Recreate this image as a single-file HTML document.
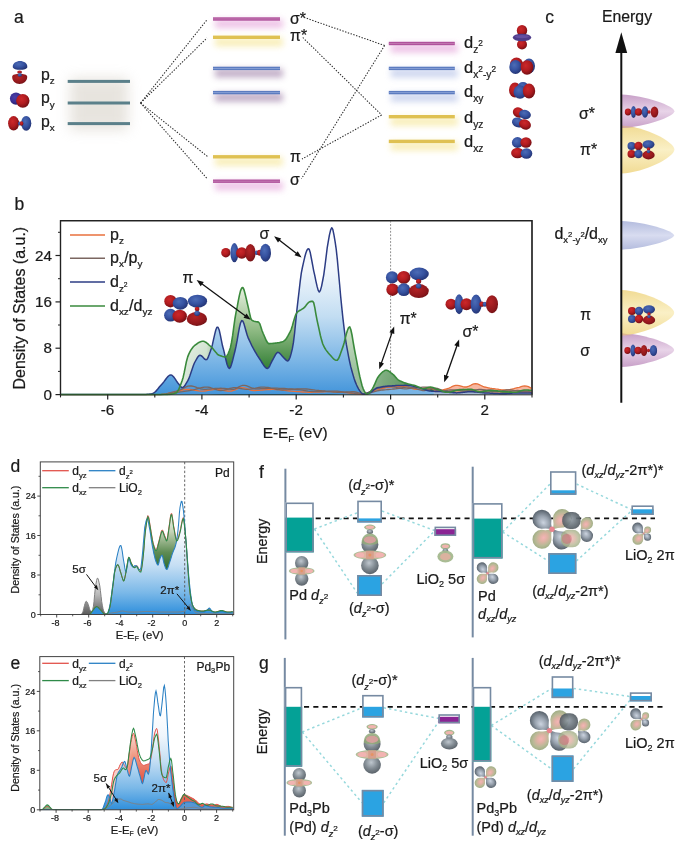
<!DOCTYPE html>
<html><head><meta charset="utf-8"><title>Figure</title>
<style>
html,body{margin:0;padding:0;background:#fff;}
svg{display:block;font-family:'Liberation Sans', Arial, sans-serif;}
text{white-space:pre;stroke:#1a1a1a;stroke-width:0.22px;}
</style></head>
<body>
<svg width="683" height="845" viewBox="0 0 683 845">
<rect width="683" height="845" fill="#fff"/>
<defs>

<radialGradient id="gR" cx="0.4" cy="0.36" r="0.72"><stop offset="0" stop-color="#cc282a"/><stop offset="0.5" stop-color="#b01c20"/><stop offset="1" stop-color="#660c10"/></radialGradient>
<radialGradient id="gD" cx="0.4" cy="0.36" r="0.8"><stop offset="0" stop-color="#b42426"/><stop offset="0.6" stop-color="#90181c"/><stop offset="1" stop-color="#5e0e10"/></radialGradient>
<radialGradient id="gB" cx="0.4" cy="0.36" r="0.72"><stop offset="0" stop-color="#4c6cb6"/><stop offset="0.5" stop-color="#3652a0"/><stop offset="1" stop-color="#202e6c"/></radialGradient>
<radialGradient id="gG" cx="0.45" cy="0.36" r="0.72"><stop offset="0" stop-color="#bcc4cc"/><stop offset="0.5" stop-color="#7a848c"/><stop offset="1" stop-color="#464e56"/></radialGradient>
<radialGradient id="gP" cx="0.5" cy="0.5" r="0.62"><stop offset="0" stop-color="#ecb0a2"/><stop offset="0.5" stop-color="#e0b2a0"/><stop offset="0.8" stop-color="#bcc49c"/><stop offset="1" stop-color="#98b486"/></radialGradient>
<radialGradient id="gN" cx="0.45" cy="0.45" r="0.7"><stop offset="0" stop-color="#d8c8a8"/><stop offset="0.6" stop-color="#b8c8a0"/><stop offset="1" stop-color="#98b888"/></radialGradient>
<radialGradient id="gV" cx="0.4" cy="0.38" r="0.7"><stop offset="0" stop-color="#4a3ea8"/><stop offset="0.55" stop-color="#3a2f92"/><stop offset="1" stop-color="#241c66"/></radialGradient>
<linearGradient id="whiteE" x1="100" y1="0" x2="140" y2="0" gradientUnits="userSpaceOnUse"><stop offset="0" stop-color="#fff" stop-opacity="0.75"/><stop offset="0.55" stop-color="#fff" stop-opacity="0.65"/><stop offset="0.8" stop-color="#fff" stop-opacity="0"/></linearGradient>
<radialGradient id="tG" cx="0.5" cy="0.5" r="0.6" fx="0.45" fy="0.42"><stop offset="0" stop-color="#ccd4e0"/><stop offset="0.45" stop-color="#98a2ae"/><stop offset="0.85" stop-color="#5c6670"/><stop offset="1" stop-color="#4c565e"/></radialGradient>
<radialGradient id="tD" cx="0.5" cy="0.5" r="0.6" fx="0.45" fy="0.42"><stop offset="0" stop-color="#929ca6"/><stop offset="0.5" stop-color="#69737b"/><stop offset="1" stop-color="#454d54"/></radialGradient>
<radialGradient id="tP" cx="0.5" cy="0.5" r="0.6"><stop offset="0" stop-color="#f4b4b6"/><stop offset="0.3" stop-color="#dfb2a4"/><stop offset="0.62" stop-color="#b8b996"/><stop offset="1" stop-color="#93a77c"/></radialGradient>
<filter id="blur3" x="-30%" y="-300%" width="160%" height="700%"><feGaussianBlur stdDeviation="3.2"/></filter>
<filter id="blur7" x="-40%" y="-40%" width="180%" height="180%"><feGaussianBlur stdDeviation="6.5"/></filter>
<filter id="soft" x="-10%" y="-10%" width="120%" height="120%"><feGaussianBlur stdDeviation="0.35"/></filter>
<linearGradient id="blueFillB" x1="0" y1="221" x2="0" y2="395" gradientUnits="userSpaceOnUse"><stop offset="0" stop-color="#ffffff"/><stop offset="0.28" stop-color="#f2f7fc"/><stop offset="0.55" stop-color="#c2ddf2"/><stop offset="0.8" stop-color="#7cb6e6"/><stop offset="1" stop-color="#4294da"/></linearGradient>
<linearGradient id="greenFillB" x1="0" y1="285" x2="0" y2="385" gradientUnits="userSpaceOnUse"><stop offset="0" stop-color="#edf4e6"/><stop offset="0.45" stop-color="#8fba84"/><stop offset="0.85" stop-color="#2f7d32"/><stop offset="1" stop-color="#2a742c"/></linearGradient>
<linearGradient id="whiteL" x1="180" y1="0" x2="420" y2="0" gradientUnits="userSpaceOnUse"><stop offset="0" stop-color="#fff" stop-opacity="0.85"/><stop offset="0.11" stop-color="#fff" stop-opacity="0.72"/><stop offset="0.19" stop-color="#fff" stop-opacity="0"/><stop offset="0.62" stop-color="#fff" stop-opacity="0"/><stop offset="0.68" stop-color="#fff" stop-opacity="0.55"/><stop offset="0.78" stop-color="#fff" stop-opacity="0.5"/><stop offset="0.85" stop-color="#fff" stop-opacity="0.38"/><stop offset="1" stop-color="#fff" stop-opacity="0.2"/></linearGradient>
<linearGradient id="lgY1" x1="0" y1="125.6" x2="0" y2="173.6" gradientUnits="userSpaceOnUse"><stop offset="0" stop-color="#f1db94"/><stop offset="0.5" stop-color="#faf0c6"/><stop offset="1" stop-color="#f1db94"/></linearGradient><linearGradient id="lgM1" x1="0" y1="94.5" x2="0" y2="128" gradientUnits="userSpaceOnUse"><stop offset="0" stop-color="#c8a0c8"/><stop offset="0.5" stop-color="#e8d4e8"/><stop offset="1" stop-color="#c8a0c8"/></linearGradient><linearGradient id="lgB1" x1="0" y1="221" x2="0" y2="249.7" gradientUnits="userSpaceOnUse"><stop offset="0" stop-color="#b4bcde"/><stop offset="0.5" stop-color="#d8dcf0"/><stop offset="1" stop-color="#b4bcde"/></linearGradient><linearGradient id="lgM2" x1="0" y1="333" x2="0" y2="367" gradientUnits="userSpaceOnUse"><stop offset="0" stop-color="#c8a0c8"/><stop offset="0.5" stop-color="#e8d4e8"/><stop offset="1" stop-color="#c8a0c8"/></linearGradient><linearGradient id="lgY2" x1="0" y1="290" x2="0" y2="335.5" gradientUnits="userSpaceOnUse"><stop offset="0" stop-color="#f1db94"/><stop offset="0.5" stop-color="#faf0c6"/><stop offset="1" stop-color="#f1db94"/></linearGradient><linearGradient id="blueFillD" x1="0" y1="515.8" x2="0" y2="614.5" gradientUnits="userSpaceOnUse"><stop offset="0" stop-color="#ffffff"/><stop offset="0.25" stop-color="#f0f6fc"/><stop offset="0.5" stop-color="#c6dff4"/><stop offset="0.78" stop-color="#7ab8e8"/><stop offset="1" stop-color="#2f8fdc"/></linearGradient><linearGradient id="greenFillD" x1="0" y1="510.865" x2="0" y2="570.085" gradientUnits="userSpaceOnUse"><stop offset="0" stop-color="#fbfcf8"/><stop offset="0.35" stop-color="#c6d4b8"/><stop offset="0.7" stop-color="#5f8c54"/><stop offset="1" stop-color="#2a6a2c"/></linearGradient><linearGradient id="redFillD" x1="0" y1="530.605" x2="0" y2="589.825" gradientUnits="userSpaceOnUse"><stop offset="0" stop-color="#fdf2ee"/><stop offset="0.5" stop-color="#f09a84"/><stop offset="1" stop-color="#e04a38"/></linearGradient><linearGradient id="grayFillD" x1="0" y1="575.02" x2="0" y2="614.5" gradientUnits="userSpaceOnUse"><stop offset="0" stop-color="#fafafa"/><stop offset="0.5" stop-color="#b8b8b8"/><stop offset="1" stop-color="#5a5a5a"/></linearGradient><linearGradient id="blueFillE" x1="0" y1="711.0999999999999" x2="0" y2="809.8" gradientUnits="userSpaceOnUse"><stop offset="0" stop-color="#ffffff"/><stop offset="0.25" stop-color="#f0f6fc"/><stop offset="0.5" stop-color="#c6dff4"/><stop offset="0.78" stop-color="#7ab8e8"/><stop offset="1" stop-color="#2f8fdc"/></linearGradient><linearGradient id="greenFillE" x1="0" y1="706.165" x2="0" y2="765.385" gradientUnits="userSpaceOnUse"><stop offset="0" stop-color="#fbfcf8"/><stop offset="0.35" stop-color="#c6d4b8"/><stop offset="0.7" stop-color="#5f8c54"/><stop offset="1" stop-color="#2a6a2c"/></linearGradient><linearGradient id="redFillE" x1="0" y1="725.905" x2="0" y2="785.125" gradientUnits="userSpaceOnUse"><stop offset="0" stop-color="#fdf2ee"/><stop offset="0.5" stop-color="#f09a84"/><stop offset="1" stop-color="#e04a38"/></linearGradient><linearGradient id="grayFillE" x1="0" y1="770.3199999999999" x2="0" y2="809.8" gradientUnits="userSpaceOnUse"><stop offset="0" stop-color="#fafafa"/><stop offset="0.5" stop-color="#b8b8b8"/><stop offset="1" stop-color="#5a5a5a"/></linearGradient>
</defs>
<text x="14.0" y="22.5" font-size="17.5" text-anchor="start" fill="#1a1a1a" >a</text>
<rect x="70" y="78" width="58" height="52" fill="#c4bcae" opacity="0.4" filter="url(#blur7)"/>
<rect x="67.7" y="79.9" width="62.3" height="3" fill="#5b808a"/>
<rect x="67.7" y="101.5" width="62.3" height="3" fill="#5b808a"/>
<rect x="67.7" y="122.1" width="62.3" height="3" fill="#5b808a"/>
<text x="41.0" y="79.6" font-size="15.8" text-anchor="start" fill="#1a1a1a" >p<tspan dy="4.4" font-size="62%">z</tspan><tspan dy="-4.4" font-size="1"> </tspan></text>
<text x="41.0" y="103.3" font-size="15.8" text-anchor="start" fill="#1a1a1a" >p<tspan dy="4.4" font-size="62%">y</tspan><tspan dy="-4.4" font-size="1"> </tspan></text>
<text x="41.0" y="127.0" font-size="15.8" text-anchor="start" fill="#1a1a1a" >p<tspan dy="4.4" font-size="62%">x</tspan><tspan dy="-4.4" font-size="1"> </tspan></text>
<path d="M12.2,76.5 C12.4,72.8 27,72.8 27.2,76.5 C27.6,81 23.5,83.9 19.6,83.9 C15.6,83.9 11.8,81 12.2,76.5 Z" fill="url(#gD)"/>
<path d="M12.8,67.2 C12.4,63 16.4,60.9 20,60.9 C23.6,60.9 27.8,63 27.3,67.2 C27,70.6 13.2,70.6 12.8,67.2 Z" fill="url(#gB)"/>
<ellipse cx="19.6" cy="72.0" rx="2.4" ry="1.6" fill="url(#gR)"/>
<ellipse cx="19.8" cy="75.0" rx="2.2" ry="1.8" fill="url(#gB)"/>
<circle cx="16" cy="98.6" r="6.1" fill="url(#gV)"/>
<ellipse cx="22.8" cy="100.8" rx="6.7" ry="6.9" fill="url(#gR)"/>
<ellipse cx="13.6" cy="123.3" rx="5.5" ry="7.2" fill="url(#gR)"/>
<ellipse cx="26.2" cy="123.3" rx="5.1" ry="7.4" fill="url(#gB)"/>
<ellipse cx="19.8" cy="123.5" rx="1.8" ry="2.0" fill="url(#gB)"/>
<ellipse cx="21.6" cy="123.5" rx="1.8" ry="2.2" fill="url(#gR)"/>
<rect x="215" y="19.5" width="68" height="8.5" fill="#e6a8dc" opacity="0.7" filter="url(#blur3)"/>
<rect x="213" y="17.3" width="67" height="3.4" fill="#b0529c"/>
<rect x="213" y="18.6" width="67" height="0.7" fill="#c886b8"/>
<rect x="215" y="37.8" width="68" height="8.5" fill="#f7eaa6" opacity="0.8" filter="url(#blur3)"/>
<rect x="213" y="35.6" width="67" height="3.4" fill="#dfc152"/>
<rect x="215" y="68.9" width="68" height="8.5" fill="#a88cb0" opacity="0.72" filter="url(#blur3)"/>
<rect x="213" y="66.7" width="67" height="3.4" fill="#5c7cc0"/>
<rect x="213" y="68.1" width="67" height="0.7" fill="#93a9dc"/>
<rect x="215" y="93.1" width="68" height="8.5" fill="#a88cb0" opacity="0.72" filter="url(#blur3)"/>
<rect x="213" y="90.9" width="67" height="3.4" fill="#5c7cc0"/>
<rect x="213" y="92.2" width="67" height="0.7" fill="#93a9dc"/>
<rect x="215" y="157.3" width="68" height="8.5" fill="#f7eaa6" opacity="0.8" filter="url(#blur3)"/>
<rect x="213" y="155.1" width="67" height="3.4" fill="#dfc152"/>
<rect x="215" y="181.7" width="68" height="8.5" fill="#e6a8dc" opacity="0.7" filter="url(#blur3)"/>
<rect x="213" y="179.5" width="67" height="3.4" fill="#b0529c"/>
<rect x="213" y="180.8" width="67" height="0.7" fill="#c886b8"/>
<rect x="390.8" y="44.0" width="67.0" height="8.5" fill="#e6a8dc" opacity="0.7" filter="url(#blur3)"/>
<rect x="388.8" y="41.8" width="66.0" height="3.4" fill="#b0529c"/>
<rect x="388.8" y="43.1" width="66.0" height="0.7" fill="#c886b8"/>
<rect x="390.8" y="68.9" width="67.0" height="8.5" fill="#b8c4e8" opacity="0.7" filter="url(#blur3)"/>
<rect x="388.8" y="66.7" width="66.0" height="3.4" fill="#5c7cc0"/>
<rect x="388.8" y="68.1" width="66.0" height="0.7" fill="#93a9dc"/>
<rect x="390.8" y="93.1" width="67.0" height="8.5" fill="#b8c4e8" opacity="0.7" filter="url(#blur3)"/>
<rect x="388.8" y="90.9" width="66.0" height="3.4" fill="#5c7cc0"/>
<rect x="388.8" y="92.2" width="66.0" height="0.7" fill="#93a9dc"/>
<rect x="390.8" y="117.2" width="67.0" height="8.5" fill="#f7eaa6" opacity="0.8" filter="url(#blur3)"/>
<rect x="388.8" y="115.0" width="66.0" height="3.4" fill="#dfc152"/>
<rect x="390.8" y="141.9" width="67.0" height="8.5" fill="#f7eaa6" opacity="0.8" filter="url(#blur3)"/>
<rect x="388.8" y="139.7" width="66.0" height="3.4" fill="#dfc152"/>
<text x="290.0" y="24.3" font-size="15.8" text-anchor="start" fill="#1a1a1a" >σ*</text>
<text x="290.0" y="40.7" font-size="15.8" text-anchor="start" fill="#1a1a1a" >π*</text>
<text x="290.0" y="162.0" font-size="15.8" text-anchor="start" fill="#1a1a1a" >π</text>
<text x="290.0" y="185.3" font-size="15.8" text-anchor="start" fill="#1a1a1a" >σ</text>
<line x1="140.6" y1="103" x2="207" y2="19.8" stroke="#2a2a2a" stroke-width="1.05" stroke-dasharray="1.4 1.5"/>
<line x1="140.6" y1="103" x2="207" y2="38" stroke="#2a2a2a" stroke-width="1.05" stroke-dasharray="1.4 1.5"/>
<line x1="140.6" y1="103" x2="208.5" y2="157.3" stroke="#2a2a2a" stroke-width="1.05" stroke-dasharray="1.4 1.5"/>
<line x1="140.6" y1="103" x2="207.5" y2="179" stroke="#2a2a2a" stroke-width="1.05" stroke-dasharray="1.4 1.5"/>
<line x1="304" y1="17.4" x2="384.6" y2="45.5" stroke="#2a2a2a" stroke-width="1.05" stroke-dasharray="1.4 1.5"/>
<line x1="384.6" y1="45.5" x2="301.5" y2="178.7" stroke="#2a2a2a" stroke-width="1.05" stroke-dasharray="1.4 1.5"/>
<line x1="302.8" y1="37.5" x2="381.6" y2="115" stroke="#2a2a2a" stroke-width="1.05" stroke-dasharray="1.4 1.5"/>
<line x1="381.6" y1="115" x2="302" y2="159" stroke="#2a2a2a" stroke-width="1.05" stroke-dasharray="1.4 1.5"/>
<text x="464.0" y="47.8" font-size="16.5" text-anchor="start" fill="#1a1a1a" >d<tspan dy="4.8" font-size="62%">z</tspan><tspan dy="-7" font-size="50%">2</tspan></text>
<text x="464.0" y="73.4" font-size="16.5" text-anchor="start" fill="#1a1a1a" >d<tspan dy="4.8" font-size="62%">x</tspan><tspan dy="-6.5" font-size="50%">2</tspan><tspan dy="6.5" font-size="62%">-y</tspan><tspan dy="-6.5" font-size="50%">2</tspan></text>
<text x="464.0" y="97.0" font-size="16.5" text-anchor="start" fill="#1a1a1a" >d<tspan dy="4.5" font-size="62%">xy</tspan><tspan dy="-4.5" font-size="1"> </tspan></text>
<text x="464.0" y="123.0" font-size="16.5" text-anchor="start" fill="#1a1a1a" >d<tspan dy="4.5" font-size="62%">yz</tspan><tspan dy="-4.5" font-size="1"> </tspan></text>
<text x="464.0" y="147.0" font-size="16.5" text-anchor="start" fill="#1a1a1a" >d<tspan dy="4.5" font-size="62%">xz</tspan><tspan dy="-4.5" font-size="1"> </tspan></text>
<ellipse cx="522.0" cy="30.5" rx="5.2" ry="5.6" fill="url(#gR)"/>
<ellipse cx="522.0" cy="44.5" rx="5.0" ry="5.0" fill="url(#gR)"/>
<ellipse cx="522" cy="37.5" rx="9.2" ry="3.8" fill="#4e3c8a"/>
<ellipse cx="522" cy="36.6" rx="7" ry="1.7" fill="#6a54a6" opacity="0.8"/>
<ellipse cx="529.0" cy="66.0" rx="6.0" ry="7.5" fill="url(#gB)"/>
<ellipse cx="516.5" cy="64.5" rx="6.5" ry="7.0" fill="url(#gR)"/>
<ellipse cx="515.5" cy="67.0" rx="6.2" ry="7.0" fill="url(#gB)"/>
<ellipse cx="527.0" cy="67.5" rx="6.3" ry="7.3" fill="url(#gR)"/>
<ellipse cx="515.0" cy="90.0" rx="6.0" ry="7.5" fill="url(#gR)"/>
<ellipse cx="523.0" cy="87.0" rx="5.5" ry="5.0" fill="url(#gB)"/>
<ellipse cx="520.0" cy="92.0" rx="6.5" ry="6.8" fill="url(#gB)"/>
<ellipse cx="529.0" cy="91.0" rx="6.2" ry="7.4" fill="url(#gR)"/>
<ellipse cx="518.5" cy="112.5" rx="5.8" ry="5.0" fill="url(#gR)" transform="rotate(25 518.5 112.5)"/>
<ellipse cx="525.0" cy="114.5" rx="6.0" ry="4.6" fill="url(#gB)" transform="rotate(15 525.0 114.5)"/>
<ellipse cx="518.0" cy="122.5" rx="6.2" ry="4.8" fill="url(#gB)" transform="rotate(20 518.0 122.5)"/>
<ellipse cx="525.0" cy="124.5" rx="6.2" ry="5.0" fill="url(#gR)" transform="rotate(25 525.0 124.5)"/>
<ellipse cx="517.5" cy="142.5" rx="5.6" ry="5.4" fill="url(#gB)"/>
<ellipse cx="526.0" cy="142.5" rx="5.6" ry="5.2" fill="url(#gR)"/>
<ellipse cx="517.5" cy="153.0" rx="6.4" ry="5.2" fill="url(#gR)"/>
<ellipse cx="526.5" cy="153.5" rx="5.8" ry="5.2" fill="url(#gB)"/>
<text x="545.3" y="23.0" font-size="17.5" text-anchor="start" fill="#1a1a1a" >c</text>
<text x="602.0" y="22.0" font-size="15.8" text-anchor="start" fill="#1a1a1a" >Energy</text>
<path d="M621.3,125.6 C645.2,126.6 674.4,141.9 674.4,149.6 C674.4,157.3 645.2,172.6 621.3,173.6 Z" fill="url(#lgY1)"/>
<path d="M621.3,94.5 C645.2,95.5 674.4,105.9 674.4,111.25 C674.4,116.6 645.2,127 621.3,128 Z" fill="url(#lgM1)"/>
<path d="M621.3,221 C645.0,222 674.0,230.8 674.0,235.35 C674.0,239.9 645.0,248.7 621.3,249.7 Z" fill="url(#lgB1)"/>
<path d="M621.3,333 C645.1,334 674.2,344.6 674.2,350.0 C674.2,355.4 645.1,366 621.3,367 Z" fill="url(#lgM2)"/>
<path d="M621.3,290 C645.1,291 674.2,305.5 674.2,312.75 C674.2,320.0 645.1,334.5 621.3,335.5 Z" fill="url(#lgY2)"/>
<path d="M621.3,125.6 L636.3,127.3 L621.3,128 Z" fill="#d8ae8c" opacity="0.75"/>
<path d="M621.3,333 L633.3,335.3 L621.3,335.5 Z" fill="#d4a090" opacity="0.6"/>
<line x1="621.3" y1="50" x2="621.3" y2="402.7" stroke="#111" stroke-width="2"/>
<polygon points="621.3,32.3 615.4,53 627.1999999999999,53" fill="#111"/>
<text x="579.0" y="119.0" font-size="15.8" text-anchor="start" fill="#1a1a1a" >σ*</text>
<text x="580.0" y="155.3" font-size="15.8" text-anchor="start" fill="#1a1a1a" >π*</text>
<text x="554.4" y="238.5" font-size="16" text-anchor="start" fill="#1a1a1a" >d<tspan dy="4.8" font-size="60%">x</tspan><tspan dy="-6.5" font-size="48%">2</tspan><tspan dy="6.5" font-size="60%">-y</tspan><tspan dy="-6.5" font-size="48%">2</tspan><tspan dy="1.7" font-size="100%">/d</tspan><tspan dy="4.8" font-size="60%">xy</tspan></text>
<text x="580.3" y="320.0" font-size="15.8" text-anchor="start" fill="#1a1a1a" >π</text>
<text x="580.3" y="356.0" font-size="15.8" text-anchor="start" fill="#1a1a1a" >σ</text>
<ellipse cx="628.0" cy="112.0" rx="3.2" ry="3.4" fill="url(#gR)"/>
<ellipse cx="633.5" cy="112.0" rx="2.6" ry="6.0" fill="url(#gB)"/>
<ellipse cx="638.5" cy="112.0" rx="3.6" ry="3.8" fill="url(#gR)"/>
<ellipse cx="645.0" cy="112.0" rx="3.2" ry="5.8" fill="url(#gB)"/>
<ellipse cx="649.0" cy="112.0" rx="1.6" ry="1.8" fill="url(#gR)"/>
<ellipse cx="654.5" cy="112.0" rx="3.8" ry="5.5" fill="url(#gD)"/>
<ellipse cx="631.5" cy="146.0" rx="4.0" ry="4.0" fill="url(#gB)"/>
<ellipse cx="638.5" cy="146.0" rx="4.2" ry="4.2" fill="url(#gR)"/>
<ellipse cx="648.5" cy="144.5" rx="6.0" ry="4.2" fill="url(#gB)"/>
<ellipse cx="631.5" cy="154.0" rx="4.0" ry="4.0" fill="url(#gR)"/>
<ellipse cx="638.5" cy="154.0" rx="4.2" ry="4.2" fill="url(#gB)"/>
<ellipse cx="648.5" cy="155.0" rx="6.2" ry="4.4" fill="url(#gD)"/>
<ellipse cx="648.5" cy="149.0" rx="1.7" ry="1.7" fill="url(#gR)"/>
<ellipse cx="648.5" cy="151.6" rx="1.7" ry="1.7" fill="url(#gB)"/>
<ellipse cx="632.0" cy="311.0" rx="4.0" ry="4.0" fill="url(#gR)"/>
<ellipse cx="639.0" cy="311.0" rx="4.2" ry="4.2" fill="url(#gB)"/>
<ellipse cx="649.0" cy="309.5" rx="6.0" ry="4.2" fill="url(#gB)"/>
<ellipse cx="632.0" cy="319.0" rx="4.0" ry="4.0" fill="url(#gB)"/>
<ellipse cx="639.0" cy="319.0" rx="4.2" ry="4.2" fill="url(#gR)"/>
<ellipse cx="649.0" cy="320.0" rx="6.2" ry="4.4" fill="url(#gD)"/>
<ellipse cx="649.0" cy="314.0" rx="1.7" ry="1.7" fill="url(#gR)"/>
<ellipse cx="649.0" cy="316.6" rx="1.7" ry="1.7" fill="url(#gB)"/>
<ellipse cx="627.5" cy="350.5" rx="3.2" ry="3.4" fill="url(#gR)"/>
<ellipse cx="633.0" cy="350.5" rx="2.6" ry="6.0" fill="url(#gB)"/>
<ellipse cx="638.0" cy="350.5" rx="3.6" ry="3.8" fill="url(#gR)"/>
<ellipse cx="644.0" cy="350.5" rx="3.2" ry="5.6" fill="url(#gD)"/>
<ellipse cx="648.5" cy="350.5" rx="1.6" ry="1.8" fill="url(#gR)"/>
<ellipse cx="653.5" cy="350.5" rx="3.6" ry="5.6" fill="url(#gB)"/>
<text x="14.5" y="209.5" font-size="17.5" text-anchor="start" fill="#1a1a1a" >b</text>
<clipPath id="clipB"><rect x="60.5" y="220.7" width="471.5" height="174.80000000000004"/></clipPath>
<rect x="60.5" y="220.7" width="471.5" height="173.90000000000003" fill="none" stroke="#222" stroke-width="1.2"/>
<g clip-path="url(#clipB)">
<line x1="390.6" y1="220.7" x2="390.6" y2="394.6" stroke="#8c8c8c" stroke-width="1" stroke-dasharray="1.8 1.6"/>
<path d="M60.5,394.6 L61.6,394.6 L62.8,394.6 L63.9,394.6 L65.0,394.6 L66.1,394.6 L67.3,394.6 L68.4,394.6 L69.5,394.6 L70.6,394.6 L71.8,394.6 L72.9,394.6 L74.0,394.6 L75.1,394.6 L76.3,394.6 L77.4,394.6 L78.5,394.6 L79.6,394.6 L80.8,394.6 L81.9,394.6 L83.0,394.6 L84.1,394.6 L85.3,394.6 L86.4,394.6 L87.5,394.6 L88.6,394.6 L89.8,394.6 L90.9,394.6 L92.0,394.6 L93.1,394.6 L94.3,394.6 L95.4,394.6 L96.5,394.6 L97.6,394.6 L98.8,394.6 L99.9,394.6 L101.0,394.6 L102.1,394.6 L103.3,394.6 L104.4,394.6 L105.5,394.6 L106.6,394.6 L107.8,394.6 L108.9,394.6 L110.0,394.6 L111.1,394.6 L112.3,394.6 L113.4,394.6 L114.5,394.6 L115.6,394.6 L116.8,394.6 L117.9,394.6 L119.0,394.6 L120.1,394.6 L121.3,394.6 L122.4,394.6 L123.5,394.6 L124.6,394.6 L125.8,394.6 L126.9,394.6 L128.0,394.6 L129.1,394.6 L130.3,394.6 L131.4,394.6 L132.5,394.6 L133.6,394.6 L134.8,394.6 L135.9,394.6 L137.0,394.6 L138.1,394.6 L139.3,394.6 L140.4,394.6 L141.5,394.6 L142.6,394.6 L143.8,394.6 L144.9,394.6 L146.0,394.6 L147.1,394.6 L148.3,394.6 L149.4,394.6 L150.5,394.6 L151.6,394.6 L152.8,394.6 L153.9,394.6 L155.0,394.6 L156.2,394.6 L157.3,394.6 L158.4,394.6 L159.5,394.6 L160.7,394.6 L161.8,394.6 L162.9,394.6 L164.0,394.6 L165.2,394.6 L166.3,394.6 L167.4,394.6 L168.5,394.5 L169.7,394.4 L170.8,394.2 L171.9,394.0 L173.0,393.8 L174.2,393.5 L175.3,393.1 L176.4,392.7 L177.5,391.4 L178.7,389.5 L179.8,386.9 L180.9,384.0 L182.0,381.0 L183.2,377.2 L184.3,372.2 L185.4,366.6 L186.5,361.2 L187.7,356.9 L188.8,354.1 L189.9,351.9 L191.0,349.9 L192.2,348.2 L193.3,346.8 L194.4,345.7 L195.5,344.8 L196.7,344.0 L197.8,343.2 L198.9,342.5 L200.0,341.9 L201.2,341.5 L202.3,341.3 L203.4,341.3 L204.5,341.6 L205.7,342.2 L206.8,343.0 L207.9,343.9 L209.0,345.0 L210.2,346.0 L211.3,347.0 L212.4,348.1 L213.5,349.4 L214.7,350.9 L215.8,352.3 L216.9,353.6 L218.0,354.7 L219.2,355.3 L220.3,355.7 L221.4,356.1 L222.5,356.5 L223.7,356.7 L224.8,356.9 L225.9,356.8 L227.0,355.7 L228.2,353.6 L229.3,350.8 L230.4,347.7 L231.5,342.5 L232.7,335.2 L233.8,326.9 L234.9,319.0 L236.0,312.7 L237.2,306.9 L238.3,300.9 L239.4,295.4 L240.5,290.9 L241.7,288.0 L242.8,287.5 L243.9,289.5 L245.0,293.5 L246.2,298.4 L247.3,303.3 L248.4,307.9 L249.6,313.5 L250.7,318.2 L251.8,320.1 L252.9,320.8 L254.1,321.2 L255.2,321.5 L256.3,321.8 L257.4,321.9 L258.6,322.1 L259.7,323.6 L260.8,326.7 L261.9,330.2 L263.1,333.3 L264.2,335.8 L265.3,338.4 L266.4,340.8 L267.6,342.7 L268.7,343.6 L269.8,343.6 L270.9,343.5 L272.1,343.5 L273.2,343.4 L274.3,343.3 L275.4,343.1 L276.6,343.0 L277.7,342.8 L278.8,342.7 L279.9,342.4 L281.1,342.1 L282.2,341.8 L283.3,341.4 L284.4,340.7 L285.6,339.6 L286.7,338.0 L287.8,336.2 L288.9,334.1 L290.1,331.9 L291.2,329.5 L292.3,326.0 L293.4,322.0 L294.6,318.0 L295.7,314.8 L296.8,312.8 L297.9,311.7 L299.1,310.8 L300.2,310.2 L301.3,309.6 L302.4,308.9 L303.6,308.2 L304.7,307.2 L305.8,305.8 L306.9,304.3 L308.1,302.9 L309.2,302.0 L310.3,301.6 L311.4,301.4 L312.6,301.3 L313.7,302.8 L314.8,307.6 L315.9,314.1 L317.1,320.3 L318.2,325.3 L319.3,330.4 L320.4,335.5 L321.6,340.1 L322.7,343.7 L323.8,346.2 L324.9,348.3 L326.1,350.1 L327.2,351.6 L328.3,353.0 L329.4,354.2 L330.6,355.5 L331.7,356.8 L332.8,358.0 L333.9,359.1 L335.1,359.9 L336.2,360.3 L337.3,360.2 L338.4,358.8 L339.6,356.2 L340.7,353.1 L341.8,349.9 L342.9,346.9 L344.1,343.0 L345.2,338.5 L346.3,334.0 L347.5,330.2 L348.6,327.6 L349.7,326.8 L350.8,329.5 L352.0,335.0 L353.1,341.7 L354.2,348.0 L355.3,353.8 L356.5,359.9 L357.6,365.9 L358.7,371.4 L359.8,376.5 L361.0,381.4 L362.1,385.7 L363.2,388.8 L364.3,391.1 L365.5,393.1 L366.6,394.2 L367.7,394.1 L368.8,393.4 L370.0,392.1 L371.1,390.7 L372.2,389.2 L373.3,387.2 L374.5,384.7 L375.6,382.1 L376.7,379.5 L377.8,377.4 L379.0,375.8 L380.1,374.5 L381.2,373.3 L382.3,372.2 L383.5,371.3 L384.6,370.6 L385.7,370.3 L386.8,370.3 L388.0,370.7 L389.1,371.4 L390.2,372.2 L391.3,373.1 L392.5,374.0 L393.6,374.9 L394.7,376.1 L395.8,377.4 L397.0,378.7 L398.1,379.8 L399.2,380.5 L400.3,381.1 L401.5,381.6 L402.6,382.1 L403.7,382.5 L404.8,382.9 L406.0,383.2 L407.1,383.6 L408.2,383.9 L409.3,384.2 L410.5,384.5 L411.6,384.8 L412.7,385.0 L413.8,385.3 L415.0,385.6 L416.1,385.9 L417.2,386.4 L418.3,386.9 L419.5,387.5 L420.6,388.0 L421.7,388.5 L422.8,388.8 L424.0,388.8 L425.1,388.6 L426.2,388.2 L427.3,387.8 L428.5,387.5 L429.6,387.2 L430.7,387.1 L431.8,387.2 L433.0,387.5 L434.1,387.9 L435.2,388.4 L436.3,388.9 L437.5,389.3 L438.6,389.7 L439.7,390.1 L440.9,390.6 L442.0,391.0 L443.1,391.5 L444.2,391.8 L445.4,392.1 L446.5,392.3 L447.6,392.3 L448.7,392.2 L449.9,392.0 L451.0,391.8 L452.1,391.5 L453.2,391.2 L454.4,390.9 L455.5,390.6 L456.6,390.3 L457.7,390.1 L458.9,390.0 L460.0,389.9 L461.1,389.8 L462.2,389.7 L463.4,389.6 L464.5,389.6 L465.6,389.5 L466.7,389.5 L467.9,389.4 L469.0,389.4 L470.1,389.4 L471.2,389.4 L472.4,389.6 L473.5,389.9 L474.6,390.2 L475.7,390.7 L476.9,391.1 L478.0,391.4 L479.1,391.6 L480.2,391.7 L481.4,391.7 L482.5,391.6 L483.6,391.5 L484.7,391.3 L485.9,391.1 L487.0,391.0 L488.1,390.8 L489.2,390.7 L490.4,390.6 L491.5,390.5 L492.6,390.6 L493.7,390.6 L494.9,390.7 L496.0,390.8 L497.1,390.9 L498.2,391.1 L499.4,391.2 L500.5,391.4 L501.6,391.5 L502.7,391.6 L503.9,391.7 L505.0,391.8 L506.1,391.9 L507.2,391.9 L508.4,392.0 L509.5,392.1 L510.6,392.1 L511.7,392.2 L512.9,392.2 L514.0,392.3 L515.1,392.3 L516.2,392.2 L517.4,392.0 L518.5,391.7 L519.6,391.3 L520.7,390.9 L521.9,390.5 L523.0,390.2 L524.1,390.0 L525.2,390.0 L526.4,390.0 L527.5,390.0 L528.6,390.1 L529.7,390.2 L530.9,390.3 L532.0,390.5 L532.0,394.6 L60.5,394.6 Z" fill="url(#greenFillB)"/>
<clipPath id="clipG"><path d="M60.5,394.6 L61.6,394.6 L62.8,394.6 L63.9,394.6 L65.0,394.6 L66.1,394.6 L67.3,394.6 L68.4,394.6 L69.5,394.6 L70.6,394.6 L71.8,394.6 L72.9,394.6 L74.0,394.6 L75.1,394.6 L76.3,394.6 L77.4,394.6 L78.5,394.6 L79.6,394.6 L80.8,394.6 L81.9,394.6 L83.0,394.6 L84.1,394.6 L85.3,394.6 L86.4,394.6 L87.5,394.6 L88.6,394.6 L89.8,394.6 L90.9,394.6 L92.0,394.6 L93.1,394.6 L94.3,394.6 L95.4,394.6 L96.5,394.6 L97.6,394.6 L98.8,394.6 L99.9,394.6 L101.0,394.6 L102.1,394.6 L103.3,394.6 L104.4,394.6 L105.5,394.6 L106.6,394.6 L107.8,394.6 L108.9,394.6 L110.0,394.6 L111.1,394.6 L112.3,394.6 L113.4,394.6 L114.5,394.6 L115.6,394.6 L116.8,394.6 L117.9,394.6 L119.0,394.6 L120.1,394.6 L121.3,394.6 L122.4,394.6 L123.5,394.6 L124.6,394.6 L125.8,394.6 L126.9,394.6 L128.0,394.6 L129.1,394.6 L130.3,394.6 L131.4,394.6 L132.5,394.6 L133.6,394.6 L134.8,394.6 L135.9,394.6 L137.0,394.6 L138.1,394.6 L139.3,394.6 L140.4,394.6 L141.5,394.6 L142.6,394.6 L143.8,394.6 L144.9,394.6 L146.0,394.6 L147.1,394.6 L148.3,394.6 L149.4,394.6 L150.5,394.6 L151.6,394.6 L152.8,394.6 L153.9,394.6 L155.0,394.6 L156.2,394.6 L157.3,394.6 L158.4,394.6 L159.5,394.6 L160.7,394.6 L161.8,394.6 L162.9,394.6 L164.0,394.6 L165.2,394.6 L166.3,394.6 L167.4,394.6 L168.5,394.5 L169.7,394.4 L170.8,394.2 L171.9,394.0 L173.0,393.8 L174.2,393.5 L175.3,393.1 L176.4,392.7 L177.5,391.4 L178.7,389.5 L179.8,386.9 L180.9,384.0 L182.0,381.0 L183.2,377.2 L184.3,372.2 L185.4,366.6 L186.5,361.2 L187.7,356.9 L188.8,354.1 L189.9,351.9 L191.0,349.9 L192.2,348.2 L193.3,346.8 L194.4,345.7 L195.5,344.8 L196.7,344.0 L197.8,343.2 L198.9,342.5 L200.0,341.9 L201.2,341.5 L202.3,341.3 L203.4,341.3 L204.5,341.6 L205.7,342.2 L206.8,343.0 L207.9,343.9 L209.0,345.0 L210.2,346.0 L211.3,347.0 L212.4,348.1 L213.5,349.4 L214.7,350.9 L215.8,352.3 L216.9,353.6 L218.0,354.7 L219.2,355.3 L220.3,355.7 L221.4,356.1 L222.5,356.5 L223.7,356.7 L224.8,356.9 L225.9,356.8 L227.0,355.7 L228.2,353.6 L229.3,350.8 L230.4,347.7 L231.5,342.5 L232.7,335.2 L233.8,326.9 L234.9,319.0 L236.0,312.7 L237.2,306.9 L238.3,300.9 L239.4,295.4 L240.5,290.9 L241.7,288.0 L242.8,287.5 L243.9,289.5 L245.0,293.5 L246.2,298.4 L247.3,303.3 L248.4,307.9 L249.6,313.5 L250.7,318.2 L251.8,320.1 L252.9,320.8 L254.1,321.2 L255.2,321.5 L256.3,321.8 L257.4,321.9 L258.6,322.1 L259.7,323.6 L260.8,326.7 L261.9,330.2 L263.1,333.3 L264.2,335.8 L265.3,338.4 L266.4,340.8 L267.6,342.7 L268.7,343.6 L269.8,343.6 L270.9,343.5 L272.1,343.5 L273.2,343.4 L274.3,343.3 L275.4,343.1 L276.6,343.0 L277.7,342.8 L278.8,342.7 L279.9,342.4 L281.1,342.1 L282.2,341.8 L283.3,341.4 L284.4,340.7 L285.6,339.6 L286.7,338.0 L287.8,336.2 L288.9,334.1 L290.1,331.9 L291.2,329.5 L292.3,326.0 L293.4,322.0 L294.6,318.0 L295.7,314.8 L296.8,312.8 L297.9,311.7 L299.1,310.8 L300.2,310.2 L301.3,309.6 L302.4,308.9 L303.6,308.2 L304.7,307.2 L305.8,305.8 L306.9,304.3 L308.1,302.9 L309.2,302.0 L310.3,301.6 L311.4,301.4 L312.6,301.3 L313.7,302.8 L314.8,307.6 L315.9,314.1 L317.1,320.3 L318.2,325.3 L319.3,330.4 L320.4,335.5 L321.6,340.1 L322.7,343.7 L323.8,346.2 L324.9,348.3 L326.1,350.1 L327.2,351.6 L328.3,353.0 L329.4,354.2 L330.6,355.5 L331.7,356.8 L332.8,358.0 L333.9,359.1 L335.1,359.9 L336.2,360.3 L337.3,360.2 L338.4,358.8 L339.6,356.2 L340.7,353.1 L341.8,349.9 L342.9,346.9 L344.1,343.0 L345.2,338.5 L346.3,334.0 L347.5,330.2 L348.6,327.6 L349.7,326.8 L350.8,329.5 L352.0,335.0 L353.1,341.7 L354.2,348.0 L355.3,353.8 L356.5,359.9 L357.6,365.9 L358.7,371.4 L359.8,376.5 L361.0,381.4 L362.1,385.7 L363.2,388.8 L364.3,391.1 L365.5,393.1 L366.6,394.2 L367.7,394.1 L368.8,393.4 L370.0,392.1 L371.1,390.7 L372.2,389.2 L373.3,387.2 L374.5,384.7 L375.6,382.1 L376.7,379.5 L377.8,377.4 L379.0,375.8 L380.1,374.5 L381.2,373.3 L382.3,372.2 L383.5,371.3 L384.6,370.6 L385.7,370.3 L386.8,370.3 L388.0,370.7 L389.1,371.4 L390.2,372.2 L391.3,373.1 L392.5,374.0 L393.6,374.9 L394.7,376.1 L395.8,377.4 L397.0,378.7 L398.1,379.8 L399.2,380.5 L400.3,381.1 L401.5,381.6 L402.6,382.1 L403.7,382.5 L404.8,382.9 L406.0,383.2 L407.1,383.6 L408.2,383.9 L409.3,384.2 L410.5,384.5 L411.6,384.8 L412.7,385.0 L413.8,385.3 L415.0,385.6 L416.1,385.9 L417.2,386.4 L418.3,386.9 L419.5,387.5 L420.6,388.0 L421.7,388.5 L422.8,388.8 L424.0,388.8 L425.1,388.6 L426.2,388.2 L427.3,387.8 L428.5,387.5 L429.6,387.2 L430.7,387.1 L431.8,387.2 L433.0,387.5 L434.1,387.9 L435.2,388.4 L436.3,388.9 L437.5,389.3 L438.6,389.7 L439.7,390.1 L440.9,390.6 L442.0,391.0 L443.1,391.5 L444.2,391.8 L445.4,392.1 L446.5,392.3 L447.6,392.3 L448.7,392.2 L449.9,392.0 L451.0,391.8 L452.1,391.5 L453.2,391.2 L454.4,390.9 L455.5,390.6 L456.6,390.3 L457.7,390.1 L458.9,390.0 L460.0,389.9 L461.1,389.8 L462.2,389.7 L463.4,389.6 L464.5,389.6 L465.6,389.5 L466.7,389.5 L467.9,389.4 L469.0,389.4 L470.1,389.4 L471.2,389.4 L472.4,389.6 L473.5,389.9 L474.6,390.2 L475.7,390.7 L476.9,391.1 L478.0,391.4 L479.1,391.6 L480.2,391.7 L481.4,391.7 L482.5,391.6 L483.6,391.5 L484.7,391.3 L485.9,391.1 L487.0,391.0 L488.1,390.8 L489.2,390.7 L490.4,390.6 L491.5,390.5 L492.6,390.6 L493.7,390.6 L494.9,390.7 L496.0,390.8 L497.1,390.9 L498.2,391.1 L499.4,391.2 L500.5,391.4 L501.6,391.5 L502.7,391.6 L503.9,391.7 L505.0,391.8 L506.1,391.9 L507.2,391.9 L508.4,392.0 L509.5,392.1 L510.6,392.1 L511.7,392.2 L512.9,392.2 L514.0,392.3 L515.1,392.3 L516.2,392.2 L517.4,392.0 L518.5,391.7 L519.6,391.3 L520.7,390.9 L521.9,390.5 L523.0,390.2 L524.1,390.0 L525.2,390.0 L526.4,390.0 L527.5,390.0 L528.6,390.1 L529.7,390.2 L530.9,390.3 L532.0,390.5 L532.0,394.6 L60.5,394.6 Z"/></clipPath>
<rect x="170" y="280" width="260" height="116" fill="url(#whiteL)" clip-path="url(#clipG)"/>
<path d="M60.5,394.6 L61.6,394.6 L62.8,394.6 L63.9,394.6 L65.0,394.6 L66.1,394.6 L67.3,394.6 L68.4,394.6 L69.5,394.6 L70.6,394.6 L71.8,394.6 L72.9,394.6 L74.0,394.6 L75.1,394.6 L76.3,394.6 L77.4,394.6 L78.5,394.6 L79.6,394.6 L80.8,394.6 L81.9,394.6 L83.0,394.6 L84.1,394.6 L85.3,394.6 L86.4,394.6 L87.5,394.6 L88.6,394.6 L89.8,394.6 L90.9,394.6 L92.0,394.6 L93.1,394.6 L94.3,394.6 L95.4,394.6 L96.5,394.6 L97.6,394.6 L98.8,394.6 L99.9,394.6 L101.0,394.6 L102.1,394.6 L103.3,394.6 L104.4,394.6 L105.5,394.6 L106.6,394.6 L107.8,394.6 L108.9,394.6 L110.0,394.6 L111.1,394.6 L112.3,394.6 L113.4,394.6 L114.5,394.6 L115.6,394.6 L116.8,394.6 L117.9,394.6 L119.0,394.6 L120.1,394.6 L121.3,394.6 L122.4,394.6 L123.5,394.6 L124.6,394.6 L125.8,394.6 L126.9,394.6 L128.0,394.6 L129.1,394.6 L130.3,394.6 L131.4,394.6 L132.5,394.6 L133.6,394.6 L134.8,394.6 L135.9,394.6 L137.0,394.6 L138.1,394.6 L139.3,394.6 L140.4,394.6 L141.5,394.6 L142.6,394.6 L143.8,394.5 L144.9,394.5 L146.0,394.4 L147.1,394.3 L148.3,394.2 L149.4,394.1 L150.5,393.9 L151.6,393.8 L152.8,393.5 L153.9,392.9 L155.0,392.0 L156.2,390.9 L157.3,389.6 L158.4,388.2 L159.5,386.8 L160.7,385.5 L161.8,384.3 L162.9,383.0 L164.0,381.6 L165.2,380.0 L166.3,378.5 L167.4,377.1 L168.5,376.0 L169.7,375.2 L170.8,374.9 L171.9,375.2 L173.0,376.2 L174.2,377.6 L175.3,379.2 L176.4,380.9 L177.5,382.5 L178.7,383.9 L179.8,385.5 L180.9,386.9 L182.0,387.6 L183.2,387.3 L184.3,386.2 L185.4,384.7 L186.5,382.8 L187.7,380.9 L188.8,378.7 L189.9,375.8 L191.0,372.4 L192.2,369.0 L193.3,365.7 L194.4,363.0 L195.5,361.0 L196.7,358.9 L197.8,357.0 L198.9,355.7 L200.0,355.2 L201.2,355.6 L202.3,356.6 L203.4,357.8 L204.5,359.0 L205.7,359.7 L206.8,359.6 L207.9,357.9 L209.0,355.1 L210.2,351.8 L211.3,348.5 L212.4,344.7 L213.5,339.7 L214.7,334.4 L215.8,330.0 L216.9,327.2 L218.0,327.2 L219.2,330.0 L220.3,334.8 L221.4,340.4 L222.5,345.8 L223.7,350.1 L224.8,354.9 L225.9,359.8 L227.0,364.2 L228.2,367.3 L229.3,368.5 L230.4,367.4 L231.5,364.4 L232.7,360.2 L233.8,355.6 L234.9,351.2 L236.0,346.4 L237.2,340.2 L238.3,333.7 L239.4,327.7 L240.5,323.0 L241.7,320.6 L242.8,321.0 L243.9,323.6 L245.0,327.5 L246.2,331.8 L247.3,335.6 L248.4,338.4 L249.6,340.9 L250.7,343.3 L251.8,345.6 L252.9,347.7 L254.1,349.8 L255.2,351.8 L256.3,353.7 L257.4,355.6 L258.6,357.3 L259.7,359.0 L260.8,360.7 L261.9,362.5 L263.1,364.4 L264.2,366.0 L265.3,367.3 L266.4,368.2 L267.6,368.5 L268.7,367.7 L269.8,365.8 L270.9,363.3 L272.1,360.9 L273.2,359.0 L274.3,356.9 L275.4,354.8 L276.6,353.1 L277.7,352.3 L278.8,352.6 L279.9,353.5 L281.1,354.7 L282.2,356.1 L283.3,357.2 L284.4,358.4 L285.6,359.6 L286.7,360.6 L287.8,361.0 L288.9,359.9 L290.1,357.2 L291.2,353.4 L292.3,348.9 L293.4,342.7 L294.6,333.0 L295.7,321.9 L296.8,310.9 L297.9,301.2 L299.1,291.0 L300.2,281.3 L301.3,273.2 L302.4,267.5 L303.6,262.2 L304.7,257.3 L305.8,253.2 L306.9,250.2 L308.1,248.7 L309.2,249.2 L310.3,252.8 L311.4,258.5 L312.6,264.9 L313.7,270.8 L314.8,275.7 L315.9,281.1 L317.1,286.4 L318.2,290.4 L319.3,292.0 L320.4,290.4 L321.6,286.1 L322.7,280.5 L323.8,274.6 L324.9,266.5 L326.1,256.9 L327.2,247.9 L328.3,241.3 L329.4,235.1 L330.6,230.1 L331.7,227.7 L332.8,229.3 L333.9,234.6 L335.1,241.6 L336.2,249.2 L337.3,259.1 L338.4,271.3 L339.6,284.3 L340.7,296.7 L341.8,307.6 L342.9,318.1 L344.1,328.1 L345.2,337.0 L346.3,344.2 L347.5,350.6 L348.6,356.6 L349.7,362.0 L350.8,366.9 L352.0,371.3 L353.1,375.1 L354.2,378.7 L355.3,381.9 L356.5,384.8 L357.6,387.2 L358.7,389.1 L359.8,390.9 L361.0,392.4 L362.1,393.6 L363.2,394.0 L364.3,394.0 L365.5,393.8 L366.6,393.6 L367.7,393.3 L368.8,393.0 L370.0,392.6 L371.1,392.0 L372.2,391.3 L373.3,390.4 L374.5,389.5 L375.6,388.7 L376.7,388.0 L377.8,387.6 L379.0,387.4 L380.1,387.2 L381.2,387.0 L382.3,386.8 L383.5,386.6 L384.6,386.4 L385.7,386.3 L386.8,386.2 L388.0,386.1 L389.1,386.0 L390.2,385.9 L391.3,385.9 L392.5,385.8 L393.6,385.7 L394.7,385.7 L395.8,385.6 L397.0,385.6 L398.1,385.5 L399.2,385.5 L400.3,385.4 L401.5,385.4 L402.6,385.4 L403.7,385.4 L404.8,385.3 L406.0,385.3 L407.1,385.3 L408.2,385.4 L409.3,385.5 L410.5,385.6 L411.6,385.8 L412.7,386.1 L413.8,386.4 L415.0,386.6 L416.1,386.9 L417.2,387.2 L418.3,387.5 L419.5,387.8 L420.6,388.1 L421.7,388.5 L422.8,388.9 L424.0,389.3 L425.1,389.7 L426.2,390.1 L427.3,390.5 L428.5,390.8 L429.6,391.0 L430.7,391.1 L431.8,391.2 L433.0,391.3 L434.1,391.3 L435.2,391.4 L436.3,391.4 L437.5,391.5 L438.6,391.5 L439.7,391.6 L440.9,391.6 L442.0,391.7 L443.1,391.7 L444.2,391.8 L445.4,391.9 L446.5,392.1 L447.6,392.2 L448.7,392.3 L449.9,392.4 L451.0,392.5 L452.1,392.6 L453.2,392.7 L454.4,392.8 L455.5,392.8 L456.6,392.9 L457.7,392.8 L458.9,392.8 L460.0,392.7 L461.1,392.6 L462.2,392.5 L463.4,392.3 L464.5,392.2 L465.6,392.0 L466.7,391.9 L467.9,391.8 L469.0,391.7 L470.1,391.7 L471.2,391.7 L472.4,391.7 L473.5,391.8 L474.6,391.9 L475.7,392.0 L476.9,392.1 L478.0,392.2 L479.1,392.3 L480.2,392.4 L481.4,392.6 L482.5,392.7 L483.6,392.8 L484.7,392.9 L485.9,392.9 L487.0,393.0 L488.1,393.1 L489.2,393.1 L490.4,393.2 L491.5,393.3 L492.6,393.3 L493.7,393.4 L494.9,393.5 L496.0,393.5 L497.1,393.6 L498.2,393.6 L499.4,393.7 L500.5,393.7 L501.6,393.7 L502.7,393.7 L503.9,393.7 L505.0,393.7 L506.1,393.7 L507.2,393.6 L508.4,393.5 L509.5,393.4 L510.6,393.3 L511.7,393.2 L512.9,393.1 L514.0,393.0 L515.1,392.9 L516.2,392.9 L517.4,392.9 L518.5,392.9 L519.6,392.9 L520.7,392.9 L521.9,392.9 L523.0,392.9 L524.1,392.9 L525.2,392.9 L526.4,392.9 L527.5,393.0 L528.6,393.0 L529.7,393.0 L530.9,393.1 L532.0,393.2 L532.0,394.6 L60.5,394.6 Z" fill="url(#blueFillB)"/>
<path d="M433.7,389.4 L435.5,390.1 L437.3,390.5 L439.2,390.5 L441.0,390.2 L442.8,389.9 L444.6,389.4 L446.4,389.0 L448.3,388.5 L450.1,387.7 L451.9,386.7 L453.7,385.9 L455.5,385.4 L457.4,385.4 L459.2,385.7 L461.0,386.1 L462.8,386.6 L464.6,387.0 L466.5,387.0 L468.3,386.5 L470.1,385.7 L471.9,384.7 L473.7,383.9 L475.6,383.6 L477.4,383.9 L479.2,384.6 L481.0,385.5 L482.8,386.4 L484.7,387.0 L486.5,387.4 L488.3,387.8 L490.1,388.2 L491.9,388.5 L493.8,388.7 L495.6,389.0 L497.4,389.2 L499.2,389.5 L501.1,389.7 L502.9,389.8 L504.7,389.9 L506.5,390.0 L508.3,389.8 L510.2,389.5 L512.0,389.1 L513.8,388.7 L515.6,388.2 L517.4,387.7 L519.3,387.3 L521.1,386.7 L522.9,386.2 L524.7,385.9 L526.5,386.1 L528.4,386.7 L530.2,387.6 L532.0,388.8 L532.0,394.6 L433.7,394.6 Z" fill="#f4a58a" fill-opacity="0.8"/>
<path d="M365.5,393.8 L366.6,393.6 L367.7,393.3 L368.8,393.0 L370.0,392.6 L371.1,392.0 L372.2,391.3 L373.3,390.4 L374.5,389.5 L375.6,388.7 L376.7,388.0 L377.8,387.6 L379.0,387.4 L380.1,387.2 L381.2,387.0 L382.3,386.8 L383.5,386.6 L384.6,386.4 L385.7,386.3 L386.8,386.2 L388.0,386.1 L389.1,386.0 L390.2,385.9 L391.3,385.9 L392.5,385.8 L393.6,385.7 L394.7,385.7 L395.8,385.6 L397.0,385.6 L398.1,385.5 L399.2,385.5 L400.3,385.4 L401.5,385.4 L402.6,385.4 L403.7,385.4 L404.8,385.3 L406.0,385.3 L407.1,385.3 L408.2,385.4 L409.3,385.5 L410.5,385.6 L411.6,385.8 L412.7,386.1 L413.8,386.4 L415.0,386.6 L416.1,386.9 L417.2,387.2 L418.3,387.5 L419.5,387.8 L420.6,388.1 L421.7,388.5 L422.8,388.9 L424.0,389.3 L425.1,389.7 L426.2,390.1 L427.3,390.5 L428.5,390.8 L429.6,391.0 L430.7,391.1 L431.8,391.2 L433.0,391.3 L434.1,391.3 L435.2,391.4 L436.3,391.4 L437.5,391.5 L438.6,391.5 L439.7,391.6 L440.9,391.6 L442.0,391.7 L443.1,391.7 L444.2,391.8 L445.4,391.9 L446.5,392.1 L447.6,392.2 L448.7,392.3 L449.9,392.4 L451.0,392.5 L452.1,392.6 L453.2,392.7 L454.4,392.8 L455.5,392.8 L456.6,392.9 L457.7,392.8 L458.9,392.8 L460.0,392.7 L461.1,392.6 L462.2,392.5 L463.4,392.3 L464.5,392.2 L465.6,392.0 L466.7,391.9 L467.9,391.8 L469.0,391.7 L470.1,391.7 L471.2,391.7 L472.4,391.7 L473.5,391.8 L474.6,391.9 L475.7,392.0 L476.9,392.1 L478.0,392.2 L479.1,392.3 L480.2,392.4 L481.4,392.6 L482.5,392.7 L483.6,392.8 L484.7,392.9 L485.9,392.9 L487.0,393.0 L488.1,393.1 L489.2,393.1 L490.4,393.2 L491.5,393.3 L492.6,393.3 L493.7,393.4 L494.9,393.5 L496.0,393.5 L497.1,393.6 L498.2,393.6 L499.4,393.7 L500.5,393.7 L501.6,393.7 L502.7,393.7 L503.9,393.7 L505.0,393.7 L506.1,393.7 L507.2,393.6 L508.4,393.5 L509.5,393.4 L510.6,393.3 L511.7,393.2 L512.9,393.1 L514.0,393.0 L515.1,392.9 L516.2,392.9 L517.4,392.9 L518.5,392.9 L519.6,392.9 L520.7,392.9 L521.9,392.9 L523.0,392.9 L524.1,392.9 L525.2,392.9 L526.4,392.9 L527.5,393.0 L528.6,393.0 L529.7,393.0 L530.9,393.1 L532.0,393.2 L532.0,394.6 L365.5,394.6 Z" fill="#8ec0e8" fill-opacity="0.7"/>
<path d="M60.5,394.6 L62.3,394.6 L64.1,394.6 L66.0,394.6 L67.8,394.6 L69.6,394.6 L71.4,394.6 L73.2,394.6 L75.1,394.6 L76.9,394.6 L78.7,394.6 L80.5,394.6 L82.3,394.6 L84.2,394.6 L86.0,394.6 L87.8,394.6 L89.6,394.6 L91.4,394.6 L93.3,394.6 L95.1,394.6 L96.9,394.6 L98.7,394.6 L100.6,394.6 L102.4,394.6 L104.2,394.6 L106.0,394.6 L107.8,394.6 L109.7,394.6 L111.5,394.6 L113.3,394.6 L115.1,394.6 L116.9,394.6 L118.8,394.6 L120.6,394.6 L122.4,394.6 L124.2,394.6 L126.0,394.6 L127.9,394.6 L129.7,394.6 L131.5,394.6 L133.3,394.6 L135.1,394.6 L137.0,394.6 L138.8,394.6 L140.6,394.6 L142.4,394.6 L144.2,394.6 L146.1,394.6 L147.9,394.6 L149.7,394.6 L151.5,394.6 L153.3,394.6 L155.2,394.6 L157.0,394.6 L158.8,394.6 L160.6,394.6 L162.4,394.4 L164.3,394.2 L166.1,393.9 L167.9,393.5 L169.7,393.1 L171.5,392.7 L173.4,392.3 L175.2,392.0 L177.0,391.5 L178.8,391.0 L180.7,390.5 L182.5,390.1 L184.3,389.7 L186.1,389.5 L187.9,389.4 L189.8,389.5 L191.6,389.7 L193.4,390.0 L195.2,390.3 L197.0,390.6 L198.9,390.9 L200.7,391.1 L202.5,391.1 L204.3,391.0 L206.1,390.8 L208.0,390.4 L209.8,390.1 L211.6,389.8 L213.4,389.5 L215.2,389.4 L217.1,389.4 L218.9,389.6 L220.7,389.8 L222.5,390.1 L224.3,390.5 L226.2,390.8 L228.0,391.0 L229.8,391.1 L231.6,391.0 L233.4,390.5 L235.3,389.8 L237.1,389.0 L238.9,388.2 L240.7,387.8 L242.5,387.7 L244.4,387.9 L246.2,388.5 L248.0,389.1 L249.8,389.8 L251.6,390.3 L253.5,390.5 L255.3,390.5 L257.1,390.4 L258.9,390.3 L260.8,390.2 L262.6,390.0 L264.4,389.9 L266.2,389.7 L268.0,389.6 L269.9,389.5 L271.7,389.4 L273.5,389.4 L275.3,389.5 L277.1,389.6 L279.0,389.7 L280.8,389.9 L282.6,390.1 L284.4,390.4 L286.2,390.6 L288.1,390.8 L289.9,391.0 L291.7,391.1 L293.5,391.3 L295.3,391.4 L297.2,391.6 L299.0,391.7 L300.8,391.9 L302.6,392.0 L304.4,392.1 L306.3,392.2 L308.1,392.3 L309.9,392.3 L311.7,392.3 L313.5,392.2 L315.4,392.2 L317.2,392.1 L319.0,392.0 L320.8,391.9 L322.6,391.9 L324.5,391.8 L326.3,391.7 L328.1,391.7 L329.9,391.7 L331.7,391.7 L333.6,391.8 L335.4,391.9 L337.2,392.0 L339.0,392.1 L340.9,392.3 L342.7,392.4 L344.5,392.6 L346.3,392.7 L348.1,392.9 L350.0,393.0 L351.8,393.2 L353.6,393.4 L355.4,393.6 L357.2,393.8 L359.1,393.9 L360.9,394.0 L362.7,394.0 L364.5,393.8 L366.3,393.4 L368.2,392.8 L370.0,392.2 L371.8,391.5 L373.6,390.8 L375.4,390.2 L377.3,389.8 L379.1,389.3 L380.9,388.8 L382.7,388.4 L384.5,388.0 L386.4,387.6 L388.2,387.3 L390.0,387.1 L391.8,387.0 L393.6,386.9 L395.5,386.8 L397.3,386.7 L399.1,386.6 L400.9,386.5 L402.7,386.5 L404.6,386.5 L406.4,386.6 L408.2,387.1 L410.0,387.7 L411.8,388.4 L413.7,389.0 L415.5,389.3 L417.3,389.4 L419.1,389.2 L421.0,388.8 L422.8,388.4 L424.6,388.0 L426.4,387.8 L428.2,387.6 L430.1,387.9 L431.9,388.6 L433.7,389.4 L435.5,390.1 L437.3,390.5 L439.2,390.5 L441.0,390.2 L442.8,389.9 L444.6,389.4 L446.4,389.0 L448.3,388.5 L450.1,387.7 L451.9,386.7 L453.7,385.9 L455.5,385.4 L457.4,385.4 L459.2,385.7 L461.0,386.1 L462.8,386.6 L464.6,387.0 L466.5,387.0 L468.3,386.5 L470.1,385.7 L471.9,384.7 L473.7,383.9 L475.6,383.6 L477.4,383.9 L479.2,384.6 L481.0,385.5 L482.8,386.4 L484.7,387.0 L486.5,387.4 L488.3,387.8 L490.1,388.2 L491.9,388.5 L493.8,388.7 L495.6,389.0 L497.4,389.2 L499.2,389.5 L501.1,389.7 L502.9,389.8 L504.7,389.9 L506.5,390.0 L508.3,389.8 L510.2,389.5 L512.0,389.1 L513.8,388.7 L515.6,388.2 L517.4,387.7 L519.3,387.3 L521.1,386.7 L522.9,386.2 L524.7,385.9 L526.5,386.1 L528.4,386.7 L530.2,387.6 L532.0,388.8" fill="none" stroke="#e8713c" stroke-width="1.3"/>
<path d="M60.5,394.6 L62.3,394.6 L64.1,394.6 L66.0,394.6 L67.8,394.6 L69.6,394.6 L71.4,394.6 L73.2,394.6 L75.1,394.6 L76.9,394.6 L78.7,394.6 L80.5,394.6 L82.3,394.6 L84.2,394.6 L86.0,394.6 L87.8,394.6 L89.6,394.6 L91.4,394.6 L93.3,394.6 L95.1,394.6 L96.9,394.6 L98.7,394.6 L100.6,394.6 L102.4,394.6 L104.2,394.6 L106.0,394.6 L107.8,394.6 L109.7,394.6 L111.5,394.6 L113.3,394.6 L115.1,394.6 L116.9,394.6 L118.8,394.6 L120.6,394.6 L122.4,394.6 L124.2,394.6 L126.0,394.6 L127.9,394.6 L129.7,394.6 L131.5,394.6 L133.3,394.6 L135.1,394.6 L137.0,394.6 L138.8,394.6 L140.6,394.6 L142.4,394.6 L144.2,394.6 L146.1,394.6 L147.9,394.6 L149.7,394.6 L151.5,394.6 L153.3,394.6 L155.2,394.6 L157.0,394.6 L158.8,394.6 L160.6,394.6 L162.4,394.4 L164.3,394.2 L166.1,393.9 L167.9,393.5 L169.7,393.0 L171.5,392.5 L173.4,392.0 L175.2,391.5 L177.0,390.9 L178.8,390.4 L180.7,389.7 L182.5,388.8 L184.3,387.8 L186.1,386.9 L187.9,386.2 L189.8,385.9 L191.6,386.0 L193.4,386.4 L195.2,386.9 L197.0,387.6 L198.9,388.2 L200.7,388.8 L202.5,389.2 L204.3,389.4 L206.1,389.3 L208.0,389.2 L209.8,389.1 L211.6,388.9 L213.4,388.7 L215.2,388.5 L217.1,388.4 L218.9,388.3 L220.7,388.2 L222.5,388.3 L224.3,388.5 L226.2,388.7 L228.0,389.0 L229.8,389.2 L231.6,389.4 L233.4,389.3 L235.3,388.8 L237.1,387.9 L238.9,386.9 L240.7,386.0 L242.5,385.4 L244.4,385.4 L246.2,385.7 L248.0,386.3 L249.8,387.1 L251.6,387.8 L253.5,388.4 L255.3,388.8 L257.1,388.8 L258.9,388.8 L260.8,388.7 L262.6,388.6 L264.4,388.6 L266.2,388.5 L268.0,388.4 L269.9,388.3 L271.7,388.3 L273.5,388.2 L275.3,388.2 L277.1,388.2 L279.0,388.3 L280.8,388.3 L282.6,388.4 L284.4,388.5 L286.2,388.6 L288.1,388.8 L289.9,388.9 L291.7,389.0 L293.5,389.2 L295.3,389.3 L297.2,389.5 L299.0,389.7 L300.8,389.9 L302.6,390.2 L304.4,390.5 L306.3,390.8 L308.1,391.1 L309.9,391.3 L311.7,391.5 L313.5,391.7 L315.4,391.7 L317.2,391.7 L319.0,391.6 L320.8,391.6 L322.6,391.5 L324.5,391.4 L326.3,391.3 L328.1,391.3 L329.9,391.2 L331.7,391.1 L333.6,391.1 L335.4,391.1 L337.2,391.2 L339.0,391.4 L340.9,391.6 L342.7,391.8 L344.5,392.1 L346.3,392.3 L348.1,392.6 L350.0,392.8 L351.8,393.0 L353.6,393.2 L355.4,393.5 L357.2,393.7 L359.1,393.9 L360.9,394.0 L362.7,394.0 L364.5,393.7 L366.3,393.2 L368.2,392.4 L370.0,391.5 L371.8,390.6 L373.6,389.7 L375.4,389.1 L377.3,388.6 L379.1,388.2 L380.9,387.8 L382.7,387.4 L384.5,387.1 L386.4,386.8 L388.2,386.6 L390.0,386.5 L391.8,386.5 L393.6,386.8 L395.5,387.1 L397.3,387.6 L399.1,388.0 L400.9,388.4 L402.7,388.7 L404.6,388.8 L406.4,388.8 L408.2,388.6 L410.0,388.4 L411.8,388.2 L413.7,387.9 L415.5,387.7 L417.3,387.6 L419.1,387.5 L421.0,387.3 L422.8,387.2 L424.6,387.1 L426.4,387.1 L428.2,387.1 L430.1,387.3 L431.9,388.0 L433.7,388.9 L435.5,389.8 L437.3,390.6 L439.2,391.1 L441.0,391.1 L442.8,391.0 L444.6,390.7 L446.4,390.5 L448.3,390.2 L450.1,390.0 L451.9,390.0 L453.7,390.0 L455.5,390.2 L457.4,390.4 L459.2,390.6 L461.0,390.8 L462.8,391.0 L464.6,391.1 L466.5,391.1 L468.3,391.0 L470.1,390.8 L471.9,390.5 L473.7,390.1 L475.6,389.8 L477.4,389.6 L479.2,389.4 L481.0,389.4 L482.8,389.6 L484.7,389.9 L486.5,390.4 L488.3,390.8 L490.1,391.2 L491.9,391.5 L493.8,391.7 L495.6,391.7 L497.4,391.5 L499.2,391.2 L501.1,390.9 L502.9,390.6 L504.7,390.3 L506.5,390.0 L508.3,390.0 L510.2,390.0 L512.0,390.2 L513.8,390.5 L515.6,390.9 L517.4,391.2 L519.3,391.5 L521.1,391.6 L522.9,391.7 L524.7,391.6 L526.5,391.5 L528.4,391.2 L530.2,390.9 L532.0,390.5" fill="none" stroke="#7b6660" stroke-width="1.3"/>
<path d="M60.5,394.6 L62.3,394.6 L64.1,394.6 L66.0,394.6 L67.8,394.6 L69.6,394.6 L71.4,394.6 L73.2,394.6 L75.1,394.6 L76.9,394.6 L78.7,394.6 L80.5,394.6 L82.3,394.6 L84.2,394.6 L86.0,394.6 L87.8,394.6 L89.6,394.6 L91.4,394.6 L93.3,394.6 L95.1,394.6 L96.9,394.6 L98.7,394.6 L100.6,394.6 L102.4,394.6 L104.2,394.6 L106.0,394.6 L107.8,394.6 L109.7,394.6 L111.5,394.6 L113.3,394.6 L115.1,394.6 L116.9,394.6 L118.8,394.6 L120.6,394.6 L122.4,394.6 L124.2,394.6 L126.0,394.6 L127.9,394.6 L129.7,394.6 L131.5,394.6 L133.3,394.6 L135.1,394.6 L137.0,394.6 L138.8,394.6 L140.6,394.6 L142.4,394.6 L144.2,394.6 L146.1,394.6 L147.9,394.6 L149.7,394.6 L151.5,394.6 L153.3,394.6 L155.2,394.6 L157.0,394.6 L158.8,394.6 L160.6,394.6 L162.4,394.5 L164.3,394.4 L166.1,394.2 L167.9,393.9 L169.7,393.7 L171.5,393.4 L173.4,393.1 L175.2,392.8 L177.0,392.5 L178.8,392.2 L180.7,391.9 L182.5,391.7 L184.3,391.4 L186.1,391.1 L187.9,390.8 L189.8,390.5 L191.6,390.1 L193.4,389.8 L195.2,389.4 L197.0,388.9 L198.9,388.4 L200.7,387.9 L202.5,387.5 L204.3,387.2 L206.1,387.1 L208.0,387.1 L209.8,387.5 L211.6,388.0 L213.4,388.7 L215.2,389.3 L217.1,389.9 L218.9,390.4 L220.7,390.5 L222.5,390.4 L224.3,390.1 L226.2,389.6 L228.0,389.1 L229.8,388.5 L231.6,388.1 L233.4,387.7 L235.3,387.6 L237.1,387.8 L238.9,388.1 L240.7,388.5 L242.5,388.9 L244.4,389.2 L246.2,389.4 L248.0,389.3 L249.8,389.2 L251.6,388.9 L253.5,388.5 L255.3,388.2 L257.1,387.8 L258.9,387.5 L260.8,387.2 L262.6,387.1 L264.4,387.1 L266.2,387.3 L268.0,387.5 L269.9,387.9 L271.7,388.3 L273.5,388.7 L275.3,389.1 L277.1,389.5 L279.0,389.7 L280.8,389.9 L282.6,390.0 L284.4,389.9 L286.2,389.8 L288.1,389.7 L289.9,389.5 L291.7,389.4 L293.5,389.2 L295.3,389.1 L297.2,388.9 L299.0,388.8 L300.8,388.8 L302.6,388.8 L304.4,388.9 L306.3,389.0 L308.1,389.2 L309.9,389.4 L311.7,389.6 L313.5,389.8 L315.4,390.1 L317.2,390.3 L319.0,390.5 L320.8,390.6 L322.6,390.8 L324.5,391.0 L326.3,391.3 L328.1,391.5 L329.9,391.7 L331.7,391.9 L333.6,392.1 L335.4,392.2 L337.2,392.3 L339.0,392.3 L340.9,392.2 L342.7,392.2 L344.5,392.1 L346.3,392.0 L348.1,391.9 L350.0,391.8 L351.8,391.7 L353.6,391.7 L355.4,392.0 L357.2,392.4 L359.1,393.0 L360.9,393.5 L362.7,393.9 L364.5,394.0 L366.3,393.9 L368.2,393.6 L370.0,393.1 L371.8,392.5 L373.6,391.9 L375.4,391.3 L377.3,390.8 L379.1,390.5 L380.9,390.2 L382.7,390.0 L384.5,389.8 L386.4,389.7 L388.2,389.5 L390.0,389.3 L391.8,389.2 L393.6,389.0 L395.5,388.8 L397.3,388.5 L399.1,388.3 L400.9,388.0 L402.7,387.7 L404.6,387.4 L406.4,387.2 L408.2,387.1 L410.0,387.1 L411.8,387.3 L413.7,387.8 L415.5,388.4 L417.3,389.1 L419.1,389.7 L421.0,390.2 L422.8,390.5 L424.6,390.5 L426.4,390.2 L428.2,389.7 L430.1,389.2 L431.9,388.7 L433.7,388.3 L435.5,388.2 L437.3,388.5 L439.2,389.1 L441.0,389.8 L442.8,390.6 L444.6,391.3 L446.4,391.7 L448.3,391.7 L450.1,391.4 L451.9,391.1 L453.7,390.7 L455.5,390.2 L457.4,389.8 L459.2,389.5 L461.0,389.4 L462.8,389.5 L464.6,389.7 L466.5,390.1 L468.3,390.5 L470.1,391.0 L471.9,391.3 L473.7,391.6 L475.6,391.7 L477.4,391.6 L479.2,391.4 L481.0,391.1 L482.8,390.8 L484.7,390.4 L486.5,390.2 L488.3,390.0 L490.1,390.0 L491.9,390.1 L493.8,390.5 L495.6,390.9 L497.4,391.3 L499.2,391.7 L501.1,392.1 L502.9,392.3 L504.7,392.3 L506.5,392.1 L508.3,391.8 L510.2,391.5 L512.0,391.2 L513.8,390.9 L515.6,390.7 L517.4,390.5 L519.3,390.6 L521.1,390.6 L522.9,390.8 L524.7,391.0 L526.5,391.2 L528.4,391.5 L530.2,391.9 L532.0,392.3" fill="none" stroke="#7b6660" stroke-width="1.3"/>
<path d="M60.5,394.6 L61.6,394.6 L62.8,394.6 L63.9,394.6 L65.0,394.6 L66.1,394.6 L67.3,394.6 L68.4,394.6 L69.5,394.6 L70.6,394.6 L71.8,394.6 L72.9,394.6 L74.0,394.6 L75.1,394.6 L76.3,394.6 L77.4,394.6 L78.5,394.6 L79.6,394.6 L80.8,394.6 L81.9,394.6 L83.0,394.6 L84.1,394.6 L85.3,394.6 L86.4,394.6 L87.5,394.6 L88.6,394.6 L89.8,394.6 L90.9,394.6 L92.0,394.6 L93.1,394.6 L94.3,394.6 L95.4,394.6 L96.5,394.6 L97.6,394.6 L98.8,394.6 L99.9,394.6 L101.0,394.6 L102.1,394.6 L103.3,394.6 L104.4,394.6 L105.5,394.6 L106.6,394.6 L107.8,394.6 L108.9,394.6 L110.0,394.6 L111.1,394.6 L112.3,394.6 L113.4,394.6 L114.5,394.6 L115.6,394.6 L116.8,394.6 L117.9,394.6 L119.0,394.6 L120.1,394.6 L121.3,394.6 L122.4,394.6 L123.5,394.6 L124.6,394.6 L125.8,394.6 L126.9,394.6 L128.0,394.6 L129.1,394.6 L130.3,394.6 L131.4,394.6 L132.5,394.6 L133.6,394.6 L134.8,394.6 L135.9,394.6 L137.0,394.6 L138.1,394.6 L139.3,394.6 L140.4,394.6 L141.5,394.6 L142.6,394.6 L143.8,394.5 L144.9,394.5 L146.0,394.4 L147.1,394.3 L148.3,394.2 L149.4,394.1 L150.5,393.9 L151.6,393.8 L152.8,393.5 L153.9,392.9 L155.0,392.0 L156.2,390.9 L157.3,389.6 L158.4,388.2 L159.5,386.8 L160.7,385.5 L161.8,384.3 L162.9,383.0 L164.0,381.6 L165.2,380.0 L166.3,378.5 L167.4,377.1 L168.5,376.0 L169.7,375.2 L170.8,374.9 L171.9,375.2 L173.0,376.2 L174.2,377.6 L175.3,379.2 L176.4,380.9 L177.5,382.5 L178.7,383.9 L179.8,385.5 L180.9,386.9 L182.0,387.6 L183.2,387.3 L184.3,386.2 L185.4,384.7 L186.5,382.8 L187.7,380.9 L188.8,378.7 L189.9,375.8 L191.0,372.4 L192.2,369.0 L193.3,365.7 L194.4,363.0 L195.5,361.0 L196.7,358.9 L197.8,357.0 L198.9,355.7 L200.0,355.2 L201.2,355.6 L202.3,356.6 L203.4,357.8 L204.5,359.0 L205.7,359.7 L206.8,359.6 L207.9,357.9 L209.0,355.1 L210.2,351.8 L211.3,348.5 L212.4,344.7 L213.5,339.7 L214.7,334.4 L215.8,330.0 L216.9,327.2 L218.0,327.2 L219.2,330.0 L220.3,334.8 L221.4,340.4 L222.5,345.8 L223.7,350.1 L224.8,354.9 L225.9,359.8 L227.0,364.2 L228.2,367.3 L229.3,368.5 L230.4,367.4 L231.5,364.4 L232.7,360.2 L233.8,355.6 L234.9,351.2 L236.0,346.4 L237.2,340.2 L238.3,333.7 L239.4,327.7 L240.5,323.0 L241.7,320.6 L242.8,321.0 L243.9,323.6 L245.0,327.5 L246.2,331.8 L247.3,335.6 L248.4,338.4 L249.6,340.9 L250.7,343.3 L251.8,345.6 L252.9,347.7 L254.1,349.8 L255.2,351.8 L256.3,353.7 L257.4,355.6 L258.6,357.3 L259.7,359.0 L260.8,360.7 L261.9,362.5 L263.1,364.4 L264.2,366.0 L265.3,367.3 L266.4,368.2 L267.6,368.5 L268.7,367.7 L269.8,365.8 L270.9,363.3 L272.1,360.9 L273.2,359.0 L274.3,356.9 L275.4,354.8 L276.6,353.1 L277.7,352.3 L278.8,352.6 L279.9,353.5 L281.1,354.7 L282.2,356.1 L283.3,357.2 L284.4,358.4 L285.6,359.6 L286.7,360.6 L287.8,361.0 L288.9,359.9 L290.1,357.2 L291.2,353.4 L292.3,348.9 L293.4,342.7 L294.6,333.0 L295.7,321.9 L296.8,310.9 L297.9,301.2 L299.1,291.0 L300.2,281.3 L301.3,273.2 L302.4,267.5 L303.6,262.2 L304.7,257.3 L305.8,253.2 L306.9,250.2 L308.1,248.7 L309.2,249.2 L310.3,252.8 L311.4,258.5 L312.6,264.9 L313.7,270.8 L314.8,275.7 L315.9,281.1 L317.1,286.4 L318.2,290.4 L319.3,292.0 L320.4,290.4 L321.6,286.1 L322.7,280.5 L323.8,274.6 L324.9,266.5 L326.1,256.9 L327.2,247.9 L328.3,241.3 L329.4,235.1 L330.6,230.1 L331.7,227.7 L332.8,229.3 L333.9,234.6 L335.1,241.6 L336.2,249.2 L337.3,259.1 L338.4,271.3 L339.6,284.3 L340.7,296.7 L341.8,307.6 L342.9,318.1 L344.1,328.1 L345.2,337.0 L346.3,344.2 L347.5,350.6 L348.6,356.6 L349.7,362.0 L350.8,366.9 L352.0,371.3 L353.1,375.1 L354.2,378.7 L355.3,381.9 L356.5,384.8 L357.6,387.2 L358.7,389.1 L359.8,390.9 L361.0,392.4 L362.1,393.6 L363.2,394.0 L364.3,394.0 L365.5,393.8 L366.6,393.6 L367.7,393.3 L368.8,393.0 L370.0,392.6 L371.1,392.0 L372.2,391.3 L373.3,390.4 L374.5,389.5 L375.6,388.7 L376.7,388.0 L377.8,387.6 L379.0,387.4 L380.1,387.2 L381.2,387.0 L382.3,386.8 L383.5,386.6 L384.6,386.4 L385.7,386.3 L386.8,386.2 L388.0,386.1 L389.1,386.0 L390.2,385.9 L391.3,385.9 L392.5,385.8 L393.6,385.7 L394.7,385.7 L395.8,385.6 L397.0,385.6 L398.1,385.5 L399.2,385.5 L400.3,385.4 L401.5,385.4 L402.6,385.4 L403.7,385.4 L404.8,385.3 L406.0,385.3 L407.1,385.3 L408.2,385.4 L409.3,385.5 L410.5,385.6 L411.6,385.8 L412.7,386.1 L413.8,386.4 L415.0,386.6 L416.1,386.9 L417.2,387.2 L418.3,387.5 L419.5,387.8 L420.6,388.1 L421.7,388.5 L422.8,388.9 L424.0,389.3 L425.1,389.7 L426.2,390.1 L427.3,390.5 L428.5,390.8 L429.6,391.0 L430.7,391.1 L431.8,391.2 L433.0,391.3 L434.1,391.3 L435.2,391.4 L436.3,391.4 L437.5,391.5 L438.6,391.5 L439.7,391.6 L440.9,391.6 L442.0,391.7 L443.1,391.7 L444.2,391.8 L445.4,391.9 L446.5,392.1 L447.6,392.2 L448.7,392.3 L449.9,392.4 L451.0,392.5 L452.1,392.6 L453.2,392.7 L454.4,392.8 L455.5,392.8 L456.6,392.9 L457.7,392.8 L458.9,392.8 L460.0,392.7 L461.1,392.6 L462.2,392.5 L463.4,392.3 L464.5,392.2 L465.6,392.0 L466.7,391.9 L467.9,391.8 L469.0,391.7 L470.1,391.7 L471.2,391.7 L472.4,391.7 L473.5,391.8 L474.6,391.9 L475.7,392.0 L476.9,392.1 L478.0,392.2 L479.1,392.3 L480.2,392.4 L481.4,392.6 L482.5,392.7 L483.6,392.8 L484.7,392.9 L485.9,392.9 L487.0,393.0 L488.1,393.1 L489.2,393.1 L490.4,393.2 L491.5,393.3 L492.6,393.3 L493.7,393.4 L494.9,393.5 L496.0,393.5 L497.1,393.6 L498.2,393.6 L499.4,393.7 L500.5,393.7 L501.6,393.7 L502.7,393.7 L503.9,393.7 L505.0,393.7 L506.1,393.7 L507.2,393.6 L508.4,393.5 L509.5,393.4 L510.6,393.3 L511.7,393.2 L512.9,393.1 L514.0,393.0 L515.1,392.9 L516.2,392.9 L517.4,392.9 L518.5,392.9 L519.6,392.9 L520.7,392.9 L521.9,392.9 L523.0,392.9 L524.1,392.9 L525.2,392.9 L526.4,392.9 L527.5,393.0 L528.6,393.0 L529.7,393.0 L530.9,393.1 L532.0,393.2" fill="none" stroke="#2c3c84" stroke-width="1.5" stroke-linejoin="round"/>
<path d="M60.5,394.6 L61.6,394.6 L62.8,394.6 L63.9,394.6 L65.0,394.6 L66.1,394.6 L67.3,394.6 L68.4,394.6 L69.5,394.6 L70.6,394.6 L71.8,394.6 L72.9,394.6 L74.0,394.6 L75.1,394.6 L76.3,394.6 L77.4,394.6 L78.5,394.6 L79.6,394.6 L80.8,394.6 L81.9,394.6 L83.0,394.6 L84.1,394.6 L85.3,394.6 L86.4,394.6 L87.5,394.6 L88.6,394.6 L89.8,394.6 L90.9,394.6 L92.0,394.6 L93.1,394.6 L94.3,394.6 L95.4,394.6 L96.5,394.6 L97.6,394.6 L98.8,394.6 L99.9,394.6 L101.0,394.6 L102.1,394.6 L103.3,394.6 L104.4,394.6 L105.5,394.6 L106.6,394.6 L107.8,394.6 L108.9,394.6 L110.0,394.6 L111.1,394.6 L112.3,394.6 L113.4,394.6 L114.5,394.6 L115.6,394.6 L116.8,394.6 L117.9,394.6 L119.0,394.6 L120.1,394.6 L121.3,394.6 L122.4,394.6 L123.5,394.6 L124.6,394.6 L125.8,394.6 L126.9,394.6 L128.0,394.6 L129.1,394.6 L130.3,394.6 L131.4,394.6 L132.5,394.6 L133.6,394.6 L134.8,394.6 L135.9,394.6 L137.0,394.6 L138.1,394.6 L139.3,394.6 L140.4,394.6 L141.5,394.6 L142.6,394.6 L143.8,394.6 L144.9,394.6 L146.0,394.6 L147.1,394.6 L148.3,394.6 L149.4,394.6 L150.5,394.6 L151.6,394.6 L152.8,394.6 L153.9,394.6 L155.0,394.6 L156.2,394.6 L157.3,394.6 L158.4,394.6 L159.5,394.6 L160.7,394.6 L161.8,394.6 L162.9,394.6 L164.0,394.6 L165.2,394.6 L166.3,394.6 L167.4,394.6 L168.5,394.5 L169.7,394.4 L170.8,394.2 L171.9,394.0 L173.0,393.8 L174.2,393.5 L175.3,393.1 L176.4,392.7 L177.5,391.4 L178.7,389.5 L179.8,386.9 L180.9,384.0 L182.0,381.0 L183.2,377.2 L184.3,372.2 L185.4,366.6 L186.5,361.2 L187.7,356.9 L188.8,354.1 L189.9,351.9 L191.0,349.9 L192.2,348.2 L193.3,346.8 L194.4,345.7 L195.5,344.8 L196.7,344.0 L197.8,343.2 L198.9,342.5 L200.0,341.9 L201.2,341.5 L202.3,341.3 L203.4,341.3 L204.5,341.6 L205.7,342.2 L206.8,343.0 L207.9,343.9 L209.0,345.0 L210.2,346.0 L211.3,347.0 L212.4,348.1 L213.5,349.4 L214.7,350.9 L215.8,352.3 L216.9,353.6 L218.0,354.7 L219.2,355.3 L220.3,355.7 L221.4,356.1 L222.5,356.5 L223.7,356.7 L224.8,356.9 L225.9,356.8 L227.0,355.7 L228.2,353.6 L229.3,350.8 L230.4,347.7 L231.5,342.5 L232.7,335.2 L233.8,326.9 L234.9,319.0 L236.0,312.7 L237.2,306.9 L238.3,300.9 L239.4,295.4 L240.5,290.9 L241.7,288.0 L242.8,287.5 L243.9,289.5 L245.0,293.5 L246.2,298.4 L247.3,303.3 L248.4,307.9 L249.6,313.5 L250.7,318.2 L251.8,320.1 L252.9,320.8 L254.1,321.2 L255.2,321.5 L256.3,321.8 L257.4,321.9 L258.6,322.1 L259.7,323.6 L260.8,326.7 L261.9,330.2 L263.1,333.3 L264.2,335.8 L265.3,338.4 L266.4,340.8 L267.6,342.7 L268.7,343.6 L269.8,343.6 L270.9,343.5 L272.1,343.5 L273.2,343.4 L274.3,343.3 L275.4,343.1 L276.6,343.0 L277.7,342.8 L278.8,342.7 L279.9,342.4 L281.1,342.1 L282.2,341.8 L283.3,341.4 L284.4,340.7 L285.6,339.6 L286.7,338.0 L287.8,336.2 L288.9,334.1 L290.1,331.9 L291.2,329.5 L292.3,326.0 L293.4,322.0 L294.6,318.0 L295.7,314.8 L296.8,312.8 L297.9,311.7 L299.1,310.8 L300.2,310.2 L301.3,309.6 L302.4,308.9 L303.6,308.2 L304.7,307.2 L305.8,305.8 L306.9,304.3 L308.1,302.9 L309.2,302.0 L310.3,301.6 L311.4,301.4 L312.6,301.3 L313.7,302.8 L314.8,307.6 L315.9,314.1 L317.1,320.3 L318.2,325.3 L319.3,330.4 L320.4,335.5 L321.6,340.1 L322.7,343.7 L323.8,346.2 L324.9,348.3 L326.1,350.1 L327.2,351.6 L328.3,353.0 L329.4,354.2 L330.6,355.5 L331.7,356.8 L332.8,358.0 L333.9,359.1 L335.1,359.9 L336.2,360.3 L337.3,360.2 L338.4,358.8 L339.6,356.2 L340.7,353.1 L341.8,349.9 L342.9,346.9 L344.1,343.0 L345.2,338.5 L346.3,334.0 L347.5,330.2 L348.6,327.6 L349.7,326.8 L350.8,329.5 L352.0,335.0 L353.1,341.7 L354.2,348.0 L355.3,353.8 L356.5,359.9 L357.6,365.9 L358.7,371.4 L359.8,376.5 L361.0,381.4 L362.1,385.7 L363.2,388.8 L364.3,391.1 L365.5,393.1 L366.6,394.2 L367.7,394.1 L368.8,393.4 L370.0,392.1 L371.1,390.7 L372.2,389.2 L373.3,387.2 L374.5,384.7 L375.6,382.1 L376.7,379.5 L377.8,377.4 L379.0,375.8 L380.1,374.5 L381.2,373.3 L382.3,372.2 L383.5,371.3 L384.6,370.6 L385.7,370.3 L386.8,370.3 L388.0,370.7 L389.1,371.4 L390.2,372.2 L391.3,373.1 L392.5,374.0 L393.6,374.9 L394.7,376.1 L395.8,377.4 L397.0,378.7 L398.1,379.8 L399.2,380.5 L400.3,381.1 L401.5,381.6 L402.6,382.1 L403.7,382.5 L404.8,382.9 L406.0,383.2 L407.1,383.6 L408.2,383.9 L409.3,384.2 L410.5,384.5 L411.6,384.8 L412.7,385.0 L413.8,385.3 L415.0,385.6 L416.1,385.9 L417.2,386.4 L418.3,386.9 L419.5,387.5 L420.6,388.0 L421.7,388.5 L422.8,388.8 L424.0,388.8 L425.1,388.6 L426.2,388.2 L427.3,387.8 L428.5,387.5 L429.6,387.2 L430.7,387.1 L431.8,387.2 L433.0,387.5 L434.1,387.9 L435.2,388.4 L436.3,388.9 L437.5,389.3 L438.6,389.7 L439.7,390.1 L440.9,390.6 L442.0,391.0 L443.1,391.5 L444.2,391.8 L445.4,392.1 L446.5,392.3 L447.6,392.3 L448.7,392.2 L449.9,392.0 L451.0,391.8 L452.1,391.5 L453.2,391.2 L454.4,390.9 L455.5,390.6 L456.6,390.3 L457.7,390.1 L458.9,390.0 L460.0,389.9 L461.1,389.8 L462.2,389.7 L463.4,389.6 L464.5,389.6 L465.6,389.5 L466.7,389.5 L467.9,389.4 L469.0,389.4 L470.1,389.4 L471.2,389.4 L472.4,389.6 L473.5,389.9 L474.6,390.2 L475.7,390.7 L476.9,391.1 L478.0,391.4 L479.1,391.6 L480.2,391.7 L481.4,391.7 L482.5,391.6 L483.6,391.5 L484.7,391.3 L485.9,391.1 L487.0,391.0 L488.1,390.8 L489.2,390.7 L490.4,390.6 L491.5,390.5 L492.6,390.6 L493.7,390.6 L494.9,390.7 L496.0,390.8 L497.1,390.9 L498.2,391.1 L499.4,391.2 L500.5,391.4 L501.6,391.5 L502.7,391.6 L503.9,391.7 L505.0,391.8 L506.1,391.9 L507.2,391.9 L508.4,392.0 L509.5,392.1 L510.6,392.1 L511.7,392.2 L512.9,392.2 L514.0,392.3 L515.1,392.3 L516.2,392.2 L517.4,392.0 L518.5,391.7 L519.6,391.3 L520.7,390.9 L521.9,390.5 L523.0,390.2 L524.1,390.0 L525.2,390.0 L526.4,390.0 L527.5,390.0 L528.6,390.1 L529.7,390.2 L530.9,390.3 L532.0,390.5" fill="none" stroke="#3a8a3c" stroke-width="1.6" stroke-linejoin="round"/>
</g>
<path d="M60.5,394.6 V220.7 H532 V394.6" fill="none" stroke="#222" stroke-width="1.2"/>
<line x1="60.5" y1="394.6" x2="532" y2="394.6" stroke="#222" stroke-width="1.2" opacity="0.5"/>
<line x1="55.5" y1="394.6" x2="60.5" y2="394.6" stroke="#222" stroke-width="1.2"/>
<text x="52.0" y="399.8" font-size="15.2" text-anchor="end" fill="#1a1a1a" >0</text>
<line x1="55.5" y1="348.2" x2="60.5" y2="348.2" stroke="#222" stroke-width="1.2"/>
<text x="52.0" y="353.4" font-size="15.2" text-anchor="end" fill="#1a1a1a" >8</text>
<line x1="55.5" y1="301.9" x2="60.5" y2="301.9" stroke="#222" stroke-width="1.2"/>
<text x="52.0" y="307.1" font-size="15.2" text-anchor="end" fill="#1a1a1a" >16</text>
<line x1="55.5" y1="255.5" x2="60.5" y2="255.5" stroke="#222" stroke-width="1.2"/>
<text x="52.0" y="260.7" font-size="15.2" text-anchor="end" fill="#1a1a1a" >24</text>
<line x1="58.0" y1="371.4" x2="60.5" y2="371.4" stroke="#222" stroke-width="1"/>
<line x1="58.0" y1="325.0" x2="60.5" y2="325.0" stroke="#222" stroke-width="1"/>
<line x1="58.0" y1="278.7" x2="60.5" y2="278.7" stroke="#222" stroke-width="1"/>
<line x1="58.0" y1="232.3" x2="60.5" y2="232.3" stroke="#222" stroke-width="1"/>
<line x1="107.7" y1="394.6" x2="107.7" y2="399.6" stroke="#222" stroke-width="1.2"/>
<text x="107.5" y="415.1" font-size="15.2" text-anchor="middle" fill="#1a1a1a" >-6</text>
<line x1="201.9" y1="394.6" x2="201.9" y2="399.6" stroke="#222" stroke-width="1.2"/>
<text x="201.8" y="415.1" font-size="15.2" text-anchor="middle" fill="#1a1a1a" >-4</text>
<line x1="296.2" y1="394.6" x2="296.2" y2="399.6" stroke="#222" stroke-width="1.2"/>
<text x="296.1" y="415.1" font-size="15.2" text-anchor="middle" fill="#1a1a1a" >-2</text>
<line x1="390.6" y1="394.6" x2="390.6" y2="399.6" stroke="#222" stroke-width="1.2"/>
<text x="390.6" y="415.1" font-size="15.2" text-anchor="middle" fill="#1a1a1a" >0</text>
<line x1="484.8" y1="394.6" x2="484.8" y2="399.6" stroke="#222" stroke-width="1.2"/>
<text x="484.8" y="415.1" font-size="15.2" text-anchor="middle" fill="#1a1a1a" >2</text>
<line x1="60.5" y1="394.6" x2="60.5" y2="397.40000000000003" stroke="#222" stroke-width="1.1"/>
<line x1="154.8" y1="394.6" x2="154.8" y2="397.40000000000003" stroke="#222" stroke-width="1.1"/>
<line x1="249.1" y1="394.6" x2="249.1" y2="397.40000000000003" stroke="#222" stroke-width="1.1"/>
<line x1="343.4" y1="394.6" x2="343.4" y2="397.40000000000003" stroke="#222" stroke-width="1.1"/>
<line x1="437.7" y1="394.6" x2="437.7" y2="397.40000000000003" stroke="#222" stroke-width="1.1"/>
<line x1="532.0" y1="394.6" x2="532.0" y2="397.40000000000003" stroke="#222" stroke-width="1.1"/>
<text x="295.2" y="437.5" font-size="15.4" text-anchor="middle" fill="#1a1a1a" >E-E<tspan dy="4" font-size="62%">F</tspan><tspan dy="-4" font-size="1"> </tspan> (eV)</text>
<text transform="translate(25.2 308.2) rotate(-90)" font-size="16" text-anchor="middle" fill="#1a1a1a">Density of States (a.u.)</text>
<line x1="70" y1="235" x2="105" y2="235" stroke="#e8713c" stroke-width="1.6"/>
<text x="110.0" y="240.0" font-size="16" text-anchor="start" fill="#1a1a1a" >p<tspan dy="3.5" font-size="62%">z</tspan><tspan dy="-3.5" font-size="1"> </tspan></text>
<line x1="70" y1="258.3" x2="105" y2="258.3" stroke="#7b6660" stroke-width="1.6"/>
<text x="110.0" y="263.3" font-size="16" text-anchor="start" fill="#1a1a1a" >p<tspan dy="3.5" font-size="62%">x</tspan><tspan dy="-3.5" font-size="1"> </tspan>/p<tspan dy="3.5" font-size="62%">y</tspan><tspan dy="-3.5" font-size="1"> </tspan></text>
<line x1="70" y1="282" x2="105" y2="282" stroke="#2c3c84" stroke-width="1.6"/>
<text x="110.0" y="287.0" font-size="16" text-anchor="start" fill="#1a1a1a" >d<tspan dy="4.5" font-size="62%">z</tspan><tspan dy="-5" font-size="42%">2</tspan></text>
<line x1="70" y1="306" x2="105" y2="306" stroke="#3a8a3c" stroke-width="1.6"/>
<text x="110.0" y="311.0" font-size="16" text-anchor="start" fill="#1a1a1a" >d<tspan dy="3.5" font-size="62%">xz</tspan><tspan dy="-3.5" font-size="1"> </tspan>/d<tspan dy="3.5" font-size="62%">yz</tspan><tspan dy="-3.5" font-size="1"> </tspan></text>
<line x1="278.5" y1="239.6" x2="297.2" y2="254.1" stroke="#111" stroke-width="1.3"/>
<polygon points="274.1,236.2 278.0,242.5 281.2,238.4" fill="#111"/>
<polygon points="301.6,257.5 294.5,255.3 297.7,251.2" fill="#111"/>
<line x1="201.1" y1="283.3" x2="246.2" y2="316.4" stroke="#111" stroke-width="1.3"/>
<polygon points="196.6,280.0 200.7,286.2 203.8,282.0" fill="#111"/>
<polygon points="250.7,319.7 243.5,317.7 246.6,313.5" fill="#111"/>
<line x1="392.3" y1="331.9" x2="381.1" y2="363.9" stroke="#111" stroke-width="1.3"/>
<polygon points="394.2,326.6 389.4,332.3 394.3,334.1" fill="#111"/>
<polygon points="379.2,369.2 379.1,361.7 384.0,363.5" fill="#111"/>
<line x1="457.3" y1="344.8" x2="446.0" y2="377.0" stroke="#111" stroke-width="1.3"/>
<polygon points="459.1,339.5 454.3,345.3 459.3,347.0" fill="#111"/>
<polygon points="444.2,382.3 444.0,374.8 449.0,376.5" fill="#111"/>
<text x="259.4" y="239.3" font-size="15.8" text-anchor="start" fill="#1a1a1a" >σ</text>
<text x="182.6" y="282.6" font-size="15.8" text-anchor="start" fill="#1a1a1a" >π</text>
<text x="399.7" y="324.0" font-size="15.8" text-anchor="start" fill="#1a1a1a" >π*</text>
<text x="462.6" y="337.0" font-size="15.8" text-anchor="start" fill="#1a1a1a" >σ*</text>
<ellipse cx="225.8" cy="252.7" rx="4.6" ry="4.8" fill="url(#gR)"/>
<ellipse cx="234.4" cy="252.7" rx="4.0" ry="9.6" fill="url(#gB)"/>
<ellipse cx="241.8" cy="253.0" rx="5.8" ry="5.8" fill="url(#gR)"/>
<ellipse cx="250.4" cy="252.7" rx="5.2" ry="8.8" fill="url(#gD)"/>
<ellipse cx="256.8" cy="252.7" rx="2.0" ry="2.2" fill="url(#gB)"/>
<ellipse cx="259.8" cy="252.7" rx="2.8" ry="3.0" fill="url(#gR)"/>
<ellipse cx="265.5" cy="252.7" rx="5.5" ry="9.0" fill="url(#gB)"/>
<ellipse cx="170.5" cy="301.2" rx="6.2" ry="6.2" fill="url(#gR)"/>
<ellipse cx="180.3" cy="303.3" rx="7.6" ry="6.4" fill="url(#gB)"/>
<ellipse cx="197.5" cy="301.2" rx="9.6" ry="6.5" fill="url(#gB)"/>
<ellipse cx="170.5" cy="315.2" rx="6.4" ry="6.4" fill="url(#gB)"/>
<ellipse cx="179.7" cy="316.2" rx="7.2" ry="6.5" fill="url(#gR)"/>
<ellipse cx="196.9" cy="318.9" rx="10.2" ry="7.0" fill="url(#gD)"/>
<ellipse cx="197.1" cy="309.0" rx="2.4" ry="2.2" fill="url(#gR)"/>
<ellipse cx="197.1" cy="313.3" rx="2.8" ry="2.6" fill="url(#gB)"/>
<ellipse cx="392.1" cy="277.4" rx="6.2" ry="6.2" fill="url(#gB)"/>
<ellipse cx="403.8" cy="277.4" rx="6.6" ry="6.4" fill="url(#gR)"/>
<ellipse cx="419.2" cy="274.0" rx="9.6" ry="6.5" fill="url(#gB)"/>
<ellipse cx="392.5" cy="289.7" rx="6.2" ry="6.2" fill="url(#gR)"/>
<ellipse cx="403.8" cy="289.7" rx="6.5" ry="6.4" fill="url(#gB)"/>
<ellipse cx="418.8" cy="291.1" rx="10.0" ry="7.0" fill="url(#gD)"/>
<ellipse cx="418.6" cy="281.5" rx="2.6" ry="2.4" fill="url(#gR)"/>
<ellipse cx="418.6" cy="286.0" rx="2.8" ry="2.6" fill="url(#gB)"/>
<ellipse cx="451.0" cy="304.2" rx="5.5" ry="5.5" fill="url(#gR)"/>
<ellipse cx="459.1" cy="304.2" rx="4.4" ry="10.0" fill="url(#gB)"/>
<ellipse cx="466.5" cy="304.2" rx="6.0" ry="6.0" fill="url(#gR)"/>
<ellipse cx="476.1" cy="304.2" rx="5.5" ry="9.6" fill="url(#gB)"/>
<ellipse cx="481.8" cy="304.2" rx="2.4" ry="2.6" fill="url(#gR)"/>
<ellipse cx="485.0" cy="304.2" rx="2.3" ry="2.5" fill="url(#gB)"/>
<ellipse cx="492.0" cy="304.2" rx="6.0" ry="9.0" fill="url(#gD)"/>
<text x="10.6" y="471.8" font-size="17.5" text-anchor="start" fill="#1a1a1a" >d</text>
<clipPath id="clipD"><rect x="40.3" y="461.9" width="193.39999999999998" height="153.00000000000003"/></clipPath>
<g clip-path="url(#clipD)">
<path d="M40.7,614.5 L41.3,614.5 L42.0,614.5 L42.6,614.5 L43.3,614.5 L43.9,614.5 L44.6,614.5 L45.2,614.5 L45.8,614.5 L46.5,614.5 L47.1,614.5 L47.8,614.5 L48.4,614.5 L49.0,614.5 L49.7,614.5 L50.3,614.5 L51.0,614.5 L51.6,614.5 L52.3,614.5 L52.9,614.5 L53.5,614.5 L54.2,614.5 L54.8,614.5 L55.5,614.5 L56.1,614.5 L56.8,614.5 L57.4,614.5 L58.0,614.5 L58.7,614.5 L59.3,614.5 L60.0,614.5 L60.6,614.5 L61.2,614.5 L61.9,614.5 L62.5,614.5 L63.2,614.5 L63.8,614.5 L64.5,614.5 L65.1,614.5 L65.7,614.5 L66.4,614.5 L67.0,614.5 L67.7,614.5 L68.3,614.5 L69.0,614.5 L69.6,614.5 L70.2,614.5 L70.9,614.5 L71.5,614.5 L72.2,614.5 L72.8,614.5 L73.4,614.5 L74.1,614.5 L74.7,614.5 L75.4,614.5 L76.0,614.5 L76.7,614.5 L77.3,614.5 L77.9,614.5 L78.6,614.5 L79.2,614.5 L79.9,614.5 L80.5,614.5 L81.2,614.4 L81.8,613.7 L82.4,612.8 L83.1,611.3 L83.7,608.6 L84.4,605.8 L85.0,603.7 L85.6,601.8 L86.3,601.2 L86.9,601.9 L87.6,603.0 L88.2,604.4 L88.9,606.5 L89.5,608.8 L90.1,610.4 L90.8,611.0 L91.4,611.4 L92.1,611.4 L92.7,609.6 L93.4,606.4 L94.0,601.7 L94.6,594.7 L95.3,588.3 L95.9,584.2 L96.6,580.5 L97.2,578.3 L97.9,578.3 L98.5,580.1 L99.1,582.8 L99.8,585.9 L100.4,590.7 L101.1,596.5 L101.7,601.5 L102.3,605.2 L103.0,608.5 L103.6,610.9 L104.3,612.1 L104.9,613.1 L105.6,613.7 L106.2,614.0 L106.8,614.0 L107.5,613.9 L108.1,613.8 L108.8,613.6 L109.4,613.4 L110.1,613.3 L110.7,613.1 L111.3,613.0 L112.0,612.9 L112.6,612.8 L113.3,612.7 L113.9,612.6 L114.5,612.5 L115.2,612.4 L115.8,612.3 L116.5,612.2 L117.1,612.1 L117.8,612.0 L118.4,611.8 L119.0,611.7 L119.7,611.5 L120.3,611.3 L121.0,611.2 L121.6,611.1 L122.3,611.0 L122.9,611.1 L123.5,611.1 L124.2,611.3 L124.8,611.4 L125.5,611.5 L126.1,611.7 L126.7,611.8 L127.4,611.9 L128.0,612.0 L128.7,612.0 L129.3,612.0 L130.0,612.0 L130.6,612.0 L131.2,612.0 L131.9,612.0 L132.5,612.0 L133.2,612.0 L133.8,612.0 L134.5,612.0 L135.1,612.0 L135.7,612.0 L136.4,612.0 L137.0,612.0 L137.7,612.0 L138.3,612.0 L138.9,611.9 L139.6,611.9 L140.2,611.8 L140.9,611.8 L141.5,611.7 L142.2,611.7 L142.8,611.6 L143.4,611.6 L144.1,611.5 L144.7,611.5 L145.4,611.5 L146.0,611.5 L146.7,611.5 L147.3,611.5 L147.9,611.5 L148.6,611.5 L149.2,611.5 L149.9,611.5 L150.5,611.5 L151.1,611.5 L151.8,611.5 L152.4,611.5 L153.1,611.5 L153.7,611.6 L154.4,611.6 L155.0,611.6 L155.6,611.7 L156.3,611.7 L156.9,611.8 L157.6,611.9 L158.2,611.9 L158.9,612.0 L159.5,612.0 L160.1,612.0 L160.8,612.0 L161.4,612.0 L162.1,612.0 L162.7,612.0 L163.3,612.0 L164.0,612.0 L164.6,612.0 L165.3,612.0 L165.9,612.0 L166.6,612.0 L167.2,612.0 L167.8,612.0 L168.5,612.0 L169.1,612.0 L169.8,612.0 L170.4,612.0 L171.1,612.0 L171.7,612.0 L172.3,612.0 L173.0,612.0 L173.6,612.0 L174.3,612.0 L174.9,612.0 L175.5,612.0 L176.2,612.0 L176.8,612.0 L177.5,612.0 L178.1,612.0 L178.8,612.0 L179.4,611.9 L180.0,611.9 L180.7,611.8 L181.3,611.7 L182.0,611.6 L182.6,611.5 L183.3,611.4 L183.9,611.2 L184.5,611.1 L185.2,610.8 L185.8,610.1 L186.5,609.2 L187.1,608.2 L187.8,607.3 L188.4,606.4 L189.0,605.4 L189.7,604.7 L190.3,604.7 L191.0,605.5 L191.6,606.6 L192.2,607.9 L192.9,608.8 L193.5,609.8 L194.2,610.8 L194.8,611.7 L195.5,612.3 L196.1,612.6 L196.7,612.7 L197.4,612.9 L198.0,613.0 L198.7,613.1 L199.3,613.2 L200.0,613.2 L200.6,613.3 L201.2,613.4 L201.9,613.4 L202.5,613.5 L203.2,613.5 L203.8,613.5 L204.4,613.5 L205.1,613.6 L205.7,613.6 L206.4,613.6 L207.0,613.6 L207.7,613.6 L208.3,613.6 L208.9,613.6 L209.6,613.7 L210.2,613.7 L210.9,613.7 L211.5,613.7 L212.2,613.7 L212.8,613.7 L213.4,613.7 L214.1,613.7 L214.7,613.7 L215.4,613.7 L216.0,613.7 L216.6,613.8 L217.3,613.8 L217.9,613.8 L218.6,613.8 L219.2,613.8 L219.9,613.8 L220.5,613.8 L221.1,613.8 L221.8,613.8 L222.4,613.9 L223.1,613.9 L223.7,613.9 L224.4,613.9 L225.0,613.9 L225.6,613.9 L226.3,613.9 L226.9,613.9 L227.6,613.9 L228.2,613.9 L228.8,614.0 L229.5,614.0 L230.1,614.0 L230.8,614.0 L231.4,614.0 L232.1,614.0 L232.7,614.0 L232.7,614.5 L40.7,614.5 Z" fill="url(#grayFillD)"/>
<path d="M40.7,614.5 L41.3,614.5 L42.0,614.5 L42.6,614.5 L43.3,614.5 L43.9,614.5 L44.6,614.5 L45.2,614.5 L45.8,614.5 L46.5,614.5 L47.1,614.5 L47.8,614.5 L48.4,614.5 L49.0,614.5 L49.7,614.5 L50.3,614.5 L51.0,614.5 L51.6,614.5 L52.3,614.5 L52.9,614.5 L53.5,614.5 L54.2,614.5 L54.8,614.5 L55.5,614.5 L56.1,614.5 L56.8,614.5 L57.4,614.5 L58.0,614.5 L58.7,614.5 L59.3,614.5 L60.0,614.5 L60.6,614.5 L61.2,614.5 L61.9,614.5 L62.5,614.5 L63.2,614.5 L63.8,614.5 L64.5,614.5 L65.1,614.5 L65.7,614.5 L66.4,614.5 L67.0,614.5 L67.7,614.5 L68.3,614.5 L69.0,614.5 L69.6,614.5 L70.2,614.5 L70.9,614.5 L71.5,614.5 L72.2,614.5 L72.8,614.5 L73.4,614.5 L74.1,614.5 L74.7,614.5 L75.4,614.5 L76.0,614.5 L76.7,614.5 L77.3,614.5 L77.9,614.5 L78.6,614.5 L79.2,614.5 L79.9,614.5 L80.5,614.5 L81.2,614.5 L81.8,614.5 L82.4,614.5 L83.1,614.5 L83.7,614.5 L84.4,614.5 L85.0,614.5 L85.6,614.5 L86.3,614.5 L86.9,614.5 L87.6,614.5 L88.2,614.5 L88.9,614.5 L89.5,614.5 L90.1,614.2 L90.8,613.4 L91.4,612.4 L92.1,611.4 L92.7,610.5 L93.4,609.8 L94.0,608.9 L94.6,608.1 L95.3,607.4 L95.9,606.9 L96.6,606.6 L97.2,606.7 L97.9,607.1 L98.5,607.7 L99.1,608.4 L99.8,609.1 L100.4,609.8 L101.1,610.4 L101.7,611.2 L102.3,612.0 L103.0,612.8 L103.6,613.5 L104.3,613.9 L104.9,614.0 L105.6,614.0 L106.2,613.9 L106.8,613.8 L107.5,613.5 L108.1,612.5 L108.8,610.8 L109.4,608.9 L110.1,606.2 L110.7,602.4 L111.3,597.7 L112.0,592.7 L112.6,587.9 L113.3,583.0 L113.9,577.6 L114.5,572.8 L115.2,569.8 L115.8,567.9 L116.5,566.3 L117.1,565.1 L117.8,564.7 L118.4,565.2 L119.0,566.9 L119.7,569.1 L120.3,571.4 L121.0,573.3 L121.6,575.6 L122.3,577.9 L122.9,579.8 L123.5,580.9 L124.2,580.4 L124.8,578.0 L125.5,574.6 L126.1,571.0 L126.7,567.6 L127.4,563.4 L128.0,559.6 L128.7,557.4 L129.3,557.7 L130.0,559.4 L130.6,561.4 L131.2,563.0 L131.9,564.3 L132.5,565.6 L133.2,566.7 L133.8,567.4 L134.5,567.6 L135.1,567.4 L135.7,567.0 L136.4,566.7 L137.0,566.7 L137.7,567.9 L138.3,569.5 L138.9,570.5 L139.6,571.3 L140.2,571.9 L140.9,571.9 L141.5,569.7 L142.2,565.3 L142.8,560.2 L143.4,554.6 L144.1,546.9 L144.7,538.5 L145.4,531.6 L146.0,526.8 L146.7,522.2 L147.3,518.6 L147.9,516.8 L148.6,517.9 L149.2,521.3 L149.9,525.5 L150.5,529.2 L151.1,533.0 L151.8,537.0 L152.4,540.7 L153.1,543.9 L153.7,546.1 L154.4,548.0 L155.0,549.6 L155.6,550.6 L156.3,550.7 L156.9,549.5 L157.6,547.4 L158.2,544.8 L158.9,542.3 L159.5,540.1 L160.1,537.4 L160.8,534.7 L161.4,532.5 L162.1,531.2 L162.7,531.4 L163.3,533.0 L164.0,535.0 L164.6,536.7 L165.3,538.4 L165.9,539.9 L166.6,540.9 L167.2,540.1 L167.8,536.6 L168.5,531.8 L169.1,527.5 L169.8,522.9 L170.4,518.2 L171.1,514.9 L171.7,514.7 L172.3,517.8 L173.0,522.5 L173.6,527.1 L174.3,530.5 L174.9,534.1 L175.5,537.4 L176.2,539.9 L176.8,541.0 L177.5,540.4 L178.1,539.0 L178.8,537.0 L179.4,534.8 L180.0,532.6 L180.7,529.6 L181.3,526.0 L182.0,522.5 L182.6,519.8 L183.3,518.8 L183.9,520.8 L184.5,525.9 L185.2,532.4 L185.8,539.1 L186.5,547.7 L187.1,557.4 L187.8,566.7 L188.4,574.9 L189.0,582.9 L189.7,589.8 L190.3,594.7 L191.0,598.7 L191.6,601.9 L192.2,604.2 L192.9,605.8 L193.5,607.0 L194.2,607.9 L194.8,608.6 L195.5,609.2 L196.1,609.6 L196.7,610.0 L197.4,610.2 L198.0,610.4 L198.7,610.5 L199.3,610.7 L200.0,610.8 L200.6,610.9 L201.2,611.0 L201.9,611.0 L202.5,611.0 L203.2,611.0 L203.8,610.9 L204.4,610.8 L205.1,610.6 L205.7,610.5 L206.4,610.4 L207.0,610.2 L207.7,610.1 L208.3,610.1 L208.9,610.1 L209.6,610.2 L210.2,610.3 L210.9,610.6 L211.5,610.9 L212.2,611.2 L212.8,611.4 L213.4,611.7 L214.1,611.9 L214.7,612.0 L215.4,612.0 L216.0,612.0 L216.6,611.8 L217.3,611.6 L217.9,611.4 L218.6,611.2 L219.2,611.0 L219.9,610.8 L220.5,610.6 L221.1,610.6 L221.8,610.6 L222.4,610.6 L223.1,610.8 L223.7,611.0 L224.4,611.2 L225.0,611.4 L225.6,611.6 L226.3,611.8 L226.9,611.9 L227.6,612.0 L228.2,612.0 L228.8,612.0 L229.5,612.0 L230.1,611.9 L230.8,611.9 L231.4,611.8 L232.1,611.7 L232.7,611.5 L232.7,614.5 L40.7,614.5 Z" fill="url(#greenFillD)"/>
<path d="M40.7,614.5 L41.3,614.5 L42.0,614.5 L42.6,614.5 L43.3,614.5 L43.9,614.5 L44.6,614.5 L45.2,614.5 L45.8,614.5 L46.5,614.5 L47.1,614.5 L47.8,614.5 L48.4,614.5 L49.0,614.5 L49.7,614.5 L50.3,614.5 L51.0,614.5 L51.6,614.5 L52.3,614.5 L52.9,614.5 L53.5,614.5 L54.2,614.5 L54.8,614.5 L55.5,614.5 L56.1,614.5 L56.8,614.5 L57.4,614.5 L58.0,614.5 L58.7,614.5 L59.3,614.5 L60.0,614.5 L60.6,614.5 L61.2,614.5 L61.9,614.5 L62.5,614.5 L63.2,614.5 L63.8,614.5 L64.5,614.5 L65.1,614.5 L65.7,614.5 L66.4,614.5 L67.0,614.5 L67.7,614.5 L68.3,614.5 L69.0,614.5 L69.6,614.5 L70.2,614.5 L70.9,614.5 L71.5,614.5 L72.2,614.5 L72.8,614.5 L73.4,614.5 L74.1,614.5 L74.7,614.5 L75.4,614.5 L76.0,614.5 L76.7,614.5 L77.3,614.5 L77.9,614.5 L78.6,614.5 L79.2,614.5 L79.9,614.5 L80.5,614.5 L81.2,614.5 L81.8,614.5 L82.4,614.5 L83.1,614.5 L83.7,614.5 L84.4,614.5 L85.0,614.5 L85.6,614.5 L86.3,614.5 L86.9,614.5 L87.6,614.5 L88.2,614.5 L88.9,614.5 L89.5,614.5 L90.1,614.5 L90.8,614.5 L91.4,614.5 L92.1,614.5 L92.7,614.5 L93.4,614.5 L94.0,614.5 L94.6,614.5 L95.3,614.5 L95.9,614.5 L96.6,614.5 L97.2,614.5 L97.9,614.5 L98.5,614.5 L99.1,614.5 L99.8,614.5 L100.4,614.5 L101.1,614.5 L101.7,614.5 L102.3,614.5 L103.0,614.5 L103.6,614.4 L104.3,614.4 L104.9,614.3 L105.6,614.3 L106.2,614.2 L106.8,614.1 L107.5,613.7 L108.1,612.2 L108.8,610.0 L109.4,607.5 L110.1,604.5 L110.7,600.4 L111.3,595.7 L112.0,590.7 L112.6,585.8 L113.3,581.2 L113.9,576.4 L114.5,571.5 L115.2,566.7 L115.8,562.4 L116.5,558.8 L117.1,556.0 L117.8,553.2 L118.4,550.6 L119.0,548.3 L119.7,546.6 L120.3,545.6 L121.0,545.7 L121.6,547.9 L122.3,551.7 L122.9,556.1 L123.5,560.0 L124.2,563.8 L124.8,567.9 L125.5,571.1 L126.1,572.0 L126.7,569.2 L127.4,565.3 L128.0,561.3 L128.7,558.0 L129.3,558.6 L130.0,561.3 L130.6,563.6 L131.2,564.9 L131.9,566.0 L132.5,566.8 L133.2,567.1 L133.8,566.8 L134.5,566.0 L135.1,565.6 L135.7,565.7 L136.4,565.9 L137.0,566.3 L137.7,567.4 L138.3,568.8 L138.9,569.3 L139.6,569.5 L140.2,569.6 L140.9,567.6 L141.5,562.7 L142.2,556.4 L142.8,550.2 L143.4,542.9 L144.1,534.5 L144.7,527.6 L145.4,524.0 L146.0,521.3 L146.7,519.4 L147.3,518.8 L147.9,520.1 L148.6,523.1 L149.2,526.7 L149.9,530.1 L150.5,534.0 L151.1,538.3 L151.8,542.6 L152.4,546.5 L153.1,549.7 L153.7,552.9 L154.4,555.8 L155.0,558.4 L155.6,560.5 L156.3,562.2 L156.9,563.8 L157.6,564.9 L158.2,564.9 L158.9,562.9 L159.5,560.0 L160.1,558.2 L160.8,556.7 L161.4,555.6 L162.1,555.3 L162.7,557.0 L163.3,560.3 L164.0,563.4 L164.6,565.3 L165.3,567.2 L165.9,568.7 L166.6,569.5 L167.2,569.3 L167.8,568.0 L168.5,566.0 L169.1,563.8 L169.8,561.9 L170.4,560.0 L171.1,557.9 L171.7,555.8 L172.3,553.9 L173.0,552.1 L173.6,550.5 L174.3,549.1 L174.9,547.6 L175.5,545.6 L176.2,542.9 L176.8,539.2 L177.5,534.6 L178.1,529.3 L178.8,521.5 L179.4,513.0 L180.0,507.5 L180.7,503.8 L181.3,501.4 L182.0,501.5 L182.6,504.8 L183.3,509.6 L183.9,515.0 L184.5,522.2 L185.2,530.4 L185.8,538.9 L186.5,547.0 L187.1,555.3 L187.8,563.7 L188.4,571.6 L189.0,578.6 L189.7,585.2 L190.3,591.2 L191.0,596.3 L191.6,600.4 L192.2,603.8 L192.9,606.2 L193.5,608.1 L194.2,609.5 L194.8,610.2 L195.5,610.5 L196.1,610.8 L196.7,611.0 L197.4,611.2 L198.0,611.4 L198.7,611.5 L199.3,611.6 L200.0,611.7 L200.6,611.8 L201.2,611.8 L201.9,611.9 L202.5,612.0 L203.2,612.0 L203.8,612.0 L204.4,611.9 L205.1,611.6 L205.7,611.2 L206.4,610.6 L207.0,610.1 L207.7,609.5 L208.3,608.8 L208.9,608.2 L209.6,608.1 L210.2,608.8 L210.9,609.8 L211.5,610.7 L212.2,611.2 L212.8,611.5 L213.4,611.8 L214.1,612.0 L214.7,612.2 L215.4,612.4 L216.0,612.5 L216.6,612.5 L217.3,612.5 L217.9,612.3 L218.6,612.0 L219.2,611.7 L219.9,611.4 L220.5,611.2 L221.1,611.1 L221.8,611.1 L222.4,611.2 L223.1,611.4 L223.7,611.7 L224.4,612.0 L225.0,612.3 L225.6,612.4 L226.3,612.5 L226.9,612.5 L227.6,612.5 L228.2,612.5 L228.8,612.5 L229.5,612.5 L230.1,612.4 L230.8,612.4 L231.4,612.3 L232.1,612.2 L232.7,612.0 L232.7,614.5 L40.7,614.5 Z" fill="url(#blueFillD)"/>
<path d="M40.7,614.5 L41.3,614.5 L42.0,614.5 L42.6,614.5 L43.3,614.5 L43.9,614.5 L44.6,614.5 L45.2,614.5 L45.8,614.5 L46.5,614.5 L47.1,614.5 L47.8,614.5 L48.4,614.5 L49.0,614.5 L49.7,614.5 L50.3,614.5 L51.0,614.5 L51.6,614.5 L52.3,614.5 L52.9,614.5 L53.5,614.5 L54.2,614.5 L54.8,614.5 L55.5,614.5 L56.1,614.5 L56.8,614.5 L57.4,614.5 L58.0,614.5 L58.7,614.5 L59.3,614.5 L60.0,614.5 L60.6,614.5 L61.2,614.5 L61.9,614.5 L62.5,614.5 L63.2,614.5 L63.8,614.5 L64.5,614.5 L65.1,614.5 L65.7,614.5 L66.4,614.5 L67.0,614.5 L67.7,614.5 L68.3,614.5 L69.0,614.5 L69.6,614.5 L70.2,614.5 L70.9,614.5 L71.5,614.5 L72.2,614.5 L72.8,614.5 L73.4,614.5 L74.1,614.5 L74.7,614.5 L75.4,614.5 L76.0,614.5 L76.7,614.5 L77.3,614.5 L77.9,614.5 L78.6,614.5 L79.2,614.5 L79.9,614.5 L80.5,614.5 L81.2,614.5 L81.8,614.5 L82.4,614.5 L83.1,614.5 L83.7,614.5 L84.4,614.5 L85.0,614.5 L85.6,614.5 L86.3,614.5 L86.9,614.5 L87.6,614.5 L88.2,614.5 L88.9,614.5 L89.5,614.5 L90.1,614.2 L90.8,613.4 L91.4,612.4 L92.1,611.4 L92.7,610.5 L93.4,609.8 L94.0,608.9 L94.6,608.1 L95.3,607.4 L95.9,606.9 L96.6,606.6 L97.2,606.7 L97.9,607.1 L98.5,607.7 L99.1,608.4 L99.8,609.1 L100.4,609.8 L101.1,610.4 L101.7,611.2 L102.3,612.0 L103.0,612.8 L103.6,613.5 L104.3,613.9 L104.9,614.0 L105.6,614.0 L106.2,613.9 L106.2,614.5 L40.7,614.5 Z" fill="#2f8fdc"/>
<line x1="184.7" y1="461.9" x2="184.7" y2="614.5" stroke="#555" stroke-width="0.9" stroke-dasharray="2.4 2"/>
<path d="M40.7,614.5 L41.3,614.5 L42.0,614.5 L42.6,614.5 L43.3,614.5 L43.9,614.5 L44.6,614.5 L45.2,614.5 L45.8,614.5 L46.5,614.5 L47.1,614.5 L47.8,614.5 L48.4,614.5 L49.0,614.5 L49.7,614.5 L50.3,614.5 L51.0,614.5 L51.6,614.5 L52.3,614.5 L52.9,614.5 L53.5,614.5 L54.2,614.5 L54.8,614.5 L55.5,614.5 L56.1,614.5 L56.8,614.5 L57.4,614.5 L58.0,614.5 L58.7,614.5 L59.3,614.5 L60.0,614.5 L60.6,614.5 L61.2,614.5 L61.9,614.5 L62.5,614.5 L63.2,614.5 L63.8,614.5 L64.5,614.5 L65.1,614.5 L65.7,614.5 L66.4,614.5 L67.0,614.5 L67.7,614.5 L68.3,614.5 L69.0,614.5 L69.6,614.5 L70.2,614.5 L70.9,614.5 L71.5,614.5 L72.2,614.5 L72.8,614.5 L73.4,614.5 L74.1,614.5 L74.7,614.5 L75.4,614.5 L76.0,614.5 L76.7,614.5 L77.3,614.5 L77.9,614.5 L78.6,614.5 L79.2,614.5 L79.9,614.5 L80.5,614.5 L81.2,614.4 L81.8,613.7 L82.4,612.8 L83.1,611.3 L83.7,608.6 L84.4,605.8 L85.0,603.7 L85.6,601.8 L86.3,601.2 L86.9,601.9 L87.6,603.0 L88.2,604.4 L88.9,606.5 L89.5,608.8 L90.1,610.4 L90.8,611.0 L91.4,611.4 L92.1,611.4 L92.7,609.6 L93.4,606.4 L94.0,601.7 L94.6,594.7 L95.3,588.3 L95.9,584.2 L96.6,580.5 L97.2,578.3 L97.9,578.3 L98.5,580.1 L99.1,582.8 L99.8,585.9 L100.4,590.7 L101.1,596.5 L101.7,601.5 L102.3,605.2 L103.0,608.5 L103.6,610.9 L104.3,612.1 L104.9,613.1 L105.6,613.7 L106.2,614.0 L106.8,614.0 L107.5,613.9 L108.1,613.8 L108.8,613.6 L109.4,613.4 L110.1,613.3 L110.7,613.1 L111.3,613.0 L112.0,612.9 L112.6,612.8 L113.3,612.7 L113.9,612.6 L114.5,612.5 L115.2,612.4 L115.8,612.3 L116.5,612.2 L117.1,612.1 L117.8,612.0 L118.4,611.8 L119.0,611.7 L119.7,611.5 L120.3,611.3 L121.0,611.2 L121.6,611.1 L122.3,611.0 L122.9,611.1 L123.5,611.1 L124.2,611.3 L124.8,611.4 L125.5,611.5 L126.1,611.7 L126.7,611.8 L127.4,611.9 L128.0,612.0 L128.7,612.0 L129.3,612.0 L130.0,612.0 L130.6,612.0 L131.2,612.0 L131.9,612.0 L132.5,612.0 L133.2,612.0 L133.8,612.0 L134.5,612.0 L135.1,612.0 L135.7,612.0 L136.4,612.0 L137.0,612.0 L137.7,612.0 L138.3,612.0 L138.9,611.9 L139.6,611.9 L140.2,611.8 L140.9,611.8 L141.5,611.7 L142.2,611.7 L142.8,611.6 L143.4,611.6 L144.1,611.5 L144.7,611.5 L145.4,611.5 L146.0,611.5 L146.7,611.5 L147.3,611.5 L147.9,611.5 L148.6,611.5 L149.2,611.5 L149.9,611.5 L150.5,611.5 L151.1,611.5 L151.8,611.5 L152.4,611.5 L153.1,611.5 L153.7,611.6 L154.4,611.6 L155.0,611.6 L155.6,611.7 L156.3,611.7 L156.9,611.8 L157.6,611.9 L158.2,611.9 L158.9,612.0 L159.5,612.0 L160.1,612.0 L160.8,612.0 L161.4,612.0 L162.1,612.0 L162.7,612.0 L163.3,612.0 L164.0,612.0 L164.6,612.0 L165.3,612.0 L165.9,612.0 L166.6,612.0 L167.2,612.0 L167.8,612.0 L168.5,612.0 L169.1,612.0 L169.8,612.0 L170.4,612.0 L171.1,612.0 L171.7,612.0 L172.3,612.0 L173.0,612.0 L173.6,612.0 L174.3,612.0 L174.9,612.0 L175.5,612.0 L176.2,612.0 L176.8,612.0 L177.5,612.0 L178.1,612.0 L178.8,612.0 L179.4,611.9 L180.0,611.9 L180.7,611.8 L181.3,611.7 L182.0,611.6 L182.6,611.5 L183.3,611.4 L183.9,611.2 L184.5,611.1 L185.2,610.8 L185.8,610.1 L186.5,609.2 L187.1,608.2 L187.8,607.3 L188.4,606.4 L189.0,605.4 L189.7,604.7 L190.3,604.7 L191.0,605.5 L191.6,606.6 L192.2,607.9 L192.9,608.8 L193.5,609.8 L194.2,610.8 L194.8,611.7 L195.5,612.3 L196.1,612.6 L196.7,612.7 L197.4,612.9 L198.0,613.0 L198.7,613.1 L199.3,613.2 L200.0,613.2 L200.6,613.3 L201.2,613.4 L201.9,613.4 L202.5,613.5 L203.2,613.5 L203.8,613.5 L204.4,613.5 L205.1,613.6 L205.7,613.6 L206.4,613.6 L207.0,613.6 L207.7,613.6 L208.3,613.6 L208.9,613.6 L209.6,613.7 L210.2,613.7 L210.9,613.7 L211.5,613.7 L212.2,613.7 L212.8,613.7 L213.4,613.7 L214.1,613.7 L214.7,613.7 L215.4,613.7 L216.0,613.7 L216.6,613.8 L217.3,613.8 L217.9,613.8 L218.6,613.8 L219.2,613.8 L219.9,613.8 L220.5,613.8 L221.1,613.8 L221.8,613.8 L222.4,613.9 L223.1,613.9 L223.7,613.9 L224.4,613.9 L225.0,613.9 L225.6,613.9 L226.3,613.9 L226.9,613.9 L227.6,613.9 L228.2,613.9 L228.8,614.0 L229.5,614.0 L230.1,614.0 L230.8,614.0 L231.4,614.0 L232.1,614.0 L232.7,614.0" fill="none" stroke="#808080" stroke-width="1.0"/>
<path d="M40.7,614.5 L41.3,614.5 L42.0,614.5 L42.6,614.5 L43.3,614.5 L43.9,614.5 L44.6,614.5 L45.2,614.5 L45.8,614.5 L46.5,614.5 L47.1,614.5 L47.8,614.5 L48.4,614.5 L49.0,614.5 L49.7,614.5 L50.3,614.5 L51.0,614.5 L51.6,614.5 L52.3,614.5 L52.9,614.5 L53.5,614.5 L54.2,614.5 L54.8,614.5 L55.5,614.5 L56.1,614.5 L56.8,614.5 L57.4,614.5 L58.0,614.5 L58.7,614.5 L59.3,614.5 L60.0,614.5 L60.6,614.5 L61.2,614.5 L61.9,614.5 L62.5,614.5 L63.2,614.5 L63.8,614.5 L64.5,614.5 L65.1,614.5 L65.7,614.5 L66.4,614.5 L67.0,614.5 L67.7,614.5 L68.3,614.5 L69.0,614.5 L69.6,614.5 L70.2,614.5 L70.9,614.5 L71.5,614.5 L72.2,614.5 L72.8,614.5 L73.4,614.5 L74.1,614.5 L74.7,614.5 L75.4,614.5 L76.0,614.5 L76.7,614.5 L77.3,614.5 L77.9,614.5 L78.6,614.5 L79.2,614.5 L79.9,614.5 L80.5,614.5 L81.2,614.5 L81.8,614.5 L82.4,614.5 L83.1,614.5 L83.7,614.5 L84.4,614.5 L85.0,614.5 L85.6,614.5 L86.3,614.5 L86.9,614.5 L87.6,614.5 L88.2,614.5 L88.9,614.5 L89.5,614.5 L90.1,614.2 L90.8,613.4 L91.4,612.4 L92.1,611.4 L92.7,610.5 L93.4,609.8 L94.0,608.9 L94.6,608.1 L95.3,607.4 L95.9,606.9 L96.6,606.6 L97.2,606.7 L97.9,607.1 L98.5,607.7 L99.1,608.4 L99.8,609.1 L100.4,609.8 L101.1,610.4 L101.7,611.2 L102.3,612.0 L103.0,612.8 L103.6,613.5 L104.3,613.9 L104.9,614.0 L105.6,614.0 L106.2,613.9 L106.8,613.8 L107.5,613.5 L108.1,612.5 L108.8,610.8 L109.4,608.9 L110.1,606.2 L110.7,602.4 L111.3,597.7 L112.0,592.7 L112.6,587.9 L113.3,583.0 L113.9,577.6 L114.5,572.8 L115.2,569.8 L115.8,567.9 L116.5,566.3 L117.1,565.1 L117.8,564.7 L118.4,565.2 L119.0,566.9 L119.7,569.1 L120.3,571.4 L121.0,573.3 L121.6,575.6 L122.3,577.9 L122.9,579.8 L123.5,580.9 L124.2,580.4 L124.8,578.0 L125.5,574.6 L126.1,571.0 L126.7,567.6 L127.4,563.4 L128.0,559.6 L128.7,557.4 L129.3,557.7 L130.0,559.4 L130.6,561.4 L131.2,563.0 L131.9,564.3 L132.5,565.6 L133.2,566.7 L133.8,567.4 L134.5,567.6 L135.1,567.1 L135.7,566.3 L136.4,565.6 L137.0,565.5 L137.7,566.6 L138.3,568.3 L138.9,569.3 L139.6,570.1 L140.2,570.7 L140.9,570.7 L141.5,568.4 L142.2,564.1 L142.8,558.9 L143.4,553.4 L144.1,545.6 L144.7,537.3 L145.4,530.4 L146.0,525.5 L146.7,520.9 L147.3,517.3 L147.9,515.6 L148.6,516.6 L149.2,520.0 L149.9,524.3 L150.5,528.0 L151.1,531.8 L151.8,535.8 L152.4,539.5 L153.1,542.6 L153.7,544.8 L154.4,546.7 L155.0,548.4 L155.6,549.4 L156.3,549.5 L156.9,548.3 L157.6,546.2 L158.2,543.6 L158.9,541.1 L159.5,538.8 L160.1,536.2 L160.8,533.5 L161.4,531.2 L162.1,530.0 L162.7,530.2 L163.3,531.8 L164.0,533.8 L164.6,535.5 L165.3,537.1 L165.9,538.7 L166.6,539.7 L167.2,538.9 L167.8,535.3 L168.5,530.5 L169.1,526.3 L169.8,521.7 L170.4,516.9 L171.1,513.7 L171.7,513.5 L172.3,516.5 L173.0,521.3 L173.6,525.8 L174.3,529.2 L174.9,532.9 L175.5,536.2 L176.2,538.7 L176.8,539.7 L177.5,539.2 L178.1,537.8 L178.8,535.8 L179.4,533.5 L180.0,531.3 L180.7,528.4 L181.3,524.8 L182.0,521.3 L182.6,518.6 L183.3,517.5 L183.9,519.8 L184.5,525.3 L185.2,532.2 L185.8,539.2 L186.5,547.9 L187.1,557.5 L187.8,566.7 L188.4,574.9 L189.0,582.9 L189.7,589.8 L190.3,594.7 L191.0,598.7 L191.6,601.9 L192.2,604.2 L192.9,605.8 L193.5,607.0 L194.2,607.9 L194.8,608.6 L195.5,609.2 L196.1,609.6 L196.7,610.0 L197.4,610.2 L198.0,610.4 L198.7,610.5 L199.3,610.7 L200.0,610.8 L200.6,610.9 L201.2,611.0 L201.9,611.0 L202.5,611.0 L203.2,611.0 L203.8,610.9 L204.4,610.8 L205.1,610.6 L205.7,610.5 L206.4,610.4 L207.0,610.2 L207.7,610.1 L208.3,610.1 L208.9,610.1 L209.6,610.2 L210.2,610.3 L210.9,610.6 L211.5,610.9 L212.2,611.2 L212.8,611.4 L213.4,611.7 L214.1,611.9 L214.7,612.0 L215.4,612.0 L216.0,612.0 L216.6,611.8 L217.3,611.6 L217.9,611.4 L218.6,611.2 L219.2,611.0 L219.9,610.8 L220.5,610.6 L221.1,610.6 L221.8,610.6 L222.4,610.6 L223.1,610.8 L223.7,611.0 L224.4,611.2 L225.0,611.4 L225.6,611.6 L226.3,611.8 L226.9,611.9 L227.6,612.0 L228.2,612.0 L228.8,612.0 L229.5,612.0 L230.1,611.9 L230.8,611.9 L231.4,611.8 L232.1,611.7 L232.7,611.5" fill="none" stroke="#e2524a" stroke-width="1.0"/>
<path d="M40.7,614.5 L41.3,614.5 L42.0,614.5 L42.6,614.5 L43.3,614.5 L43.9,614.5 L44.6,614.5 L45.2,614.5 L45.8,614.5 L46.5,614.5 L47.1,614.5 L47.8,614.5 L48.4,614.5 L49.0,614.5 L49.7,614.5 L50.3,614.5 L51.0,614.5 L51.6,614.5 L52.3,614.5 L52.9,614.5 L53.5,614.5 L54.2,614.5 L54.8,614.5 L55.5,614.5 L56.1,614.5 L56.8,614.5 L57.4,614.5 L58.0,614.5 L58.7,614.5 L59.3,614.5 L60.0,614.5 L60.6,614.5 L61.2,614.5 L61.9,614.5 L62.5,614.5 L63.2,614.5 L63.8,614.5 L64.5,614.5 L65.1,614.5 L65.7,614.5 L66.4,614.5 L67.0,614.5 L67.7,614.5 L68.3,614.5 L69.0,614.5 L69.6,614.5 L70.2,614.5 L70.9,614.5 L71.5,614.5 L72.2,614.5 L72.8,614.5 L73.4,614.5 L74.1,614.5 L74.7,614.5 L75.4,614.5 L76.0,614.5 L76.7,614.5 L77.3,614.5 L77.9,614.5 L78.6,614.5 L79.2,614.5 L79.9,614.5 L80.5,614.5 L81.2,614.5 L81.8,614.5 L82.4,614.5 L83.1,614.5 L83.7,614.5 L84.4,614.5 L85.0,614.5 L85.6,614.5 L86.3,614.5 L86.9,614.5 L87.6,614.5 L88.2,614.5 L88.9,614.5 L89.5,614.5 L90.1,614.5 L90.8,614.5 L91.4,614.5 L92.1,614.5 L92.7,614.5 L93.4,614.5 L94.0,614.5 L94.6,614.5 L95.3,614.5 L95.9,614.5 L96.6,614.5 L97.2,614.5 L97.9,614.5 L98.5,614.5 L99.1,614.5 L99.8,614.5 L100.4,614.5 L101.1,614.5 L101.7,614.5 L102.3,614.5 L103.0,614.5 L103.6,614.4 L104.3,614.4 L104.9,614.3 L105.6,614.3 L106.2,614.2 L106.8,614.1 L107.5,613.7 L108.1,612.2 L108.8,610.0 L109.4,607.5 L110.1,604.5 L110.7,600.4 L111.3,595.7 L112.0,590.7 L112.6,585.8 L113.3,581.2 L113.9,576.4 L114.5,571.5 L115.2,566.7 L115.8,562.4 L116.5,558.8 L117.1,556.0 L117.8,553.2 L118.4,550.6 L119.0,548.3 L119.7,546.6 L120.3,545.6 L121.0,545.7 L121.6,547.9 L122.3,551.7 L122.9,556.1 L123.5,560.0 L124.2,563.8 L124.8,567.9 L125.5,571.1 L126.1,572.0 L126.7,569.2 L127.4,565.3 L128.0,561.3 L128.7,558.0 L129.3,558.6 L130.0,561.3 L130.6,563.6 L131.2,564.9 L131.9,566.0 L132.5,566.8 L133.2,567.1 L133.8,566.8 L134.5,566.0 L135.1,565.6 L135.7,565.7 L136.4,565.9 L137.0,566.3 L137.7,567.4 L138.3,568.8 L138.9,569.3 L139.6,569.5 L140.2,569.6 L140.9,567.6 L141.5,562.7 L142.2,556.4 L142.8,550.2 L143.4,542.9 L144.1,534.5 L144.7,527.6 L145.4,524.0 L146.0,521.3 L146.7,519.4 L147.3,518.8 L147.9,520.1 L148.6,523.1 L149.2,526.7 L149.9,530.1 L150.5,534.0 L151.1,538.3 L151.8,542.6 L152.4,546.5 L153.1,549.7 L153.7,552.9 L154.4,555.8 L155.0,558.4 L155.6,560.5 L156.3,562.2 L156.9,563.8 L157.6,564.9 L158.2,564.9 L158.9,562.9 L159.5,560.0 L160.1,558.2 L160.8,556.7 L161.4,555.6 L162.1,555.3 L162.7,557.0 L163.3,560.3 L164.0,563.4 L164.6,565.3 L165.3,567.2 L165.9,568.7 L166.6,569.5 L167.2,569.3 L167.8,568.0 L168.5,566.0 L169.1,563.8 L169.8,561.9 L170.4,560.0 L171.1,557.9 L171.7,555.8 L172.3,553.9 L173.0,552.1 L173.6,550.5 L174.3,549.1 L174.9,547.6 L175.5,545.6 L176.2,542.9 L176.8,539.2 L177.5,534.6 L178.1,529.3 L178.8,521.5 L179.4,513.0 L180.0,507.5 L180.7,503.8 L181.3,501.4 L182.0,501.5 L182.6,504.8 L183.3,509.6 L183.9,515.0 L184.5,522.2 L185.2,530.4 L185.8,538.9 L186.5,547.0 L187.1,555.3 L187.8,563.7 L188.4,571.6 L189.0,578.6 L189.7,585.2 L190.3,591.2 L191.0,596.3 L191.6,600.4 L192.2,603.8 L192.9,606.2 L193.5,608.1 L194.2,609.5 L194.8,610.2 L195.5,610.5 L196.1,610.8 L196.7,611.0 L197.4,611.2 L198.0,611.4 L198.7,611.5 L199.3,611.6 L200.0,611.7 L200.6,611.8 L201.2,611.8 L201.9,611.9 L202.5,612.0 L203.2,612.0 L203.8,612.0 L204.4,611.9 L205.1,611.6 L205.7,611.2 L206.4,610.6 L207.0,610.1 L207.7,609.5 L208.3,608.8 L208.9,608.2 L209.6,608.1 L210.2,608.8 L210.9,609.8 L211.5,610.7 L212.2,611.2 L212.8,611.5 L213.4,611.8 L214.1,612.0 L214.7,612.2 L215.4,612.4 L216.0,612.5 L216.6,612.5 L217.3,612.5 L217.9,612.3 L218.6,612.0 L219.2,611.7 L219.9,611.4 L220.5,611.2 L221.1,611.1 L221.8,611.1 L222.4,611.2 L223.1,611.4 L223.7,611.7 L224.4,612.0 L225.0,612.3 L225.6,612.4 L226.3,612.5 L226.9,612.5 L227.6,612.5 L228.2,612.5 L228.8,612.5 L229.5,612.5 L230.1,612.4 L230.8,612.4 L231.4,612.3 L232.1,612.2 L232.7,612.0" fill="none" stroke="#2a80c4" stroke-width="1.05"/>
<path d="M40.7,614.5 L41.3,614.5 L42.0,614.5 L42.6,614.5 L43.3,614.5 L43.9,614.5 L44.6,614.5 L45.2,614.5 L45.8,614.5 L46.5,614.5 L47.1,614.5 L47.8,614.5 L48.4,614.5 L49.0,614.5 L49.7,614.5 L50.3,614.5 L51.0,614.5 L51.6,614.5 L52.3,614.5 L52.9,614.5 L53.5,614.5 L54.2,614.5 L54.8,614.5 L55.5,614.5 L56.1,614.5 L56.8,614.5 L57.4,614.5 L58.0,614.5 L58.7,614.5 L59.3,614.5 L60.0,614.5 L60.6,614.5 L61.2,614.5 L61.9,614.5 L62.5,614.5 L63.2,614.5 L63.8,614.5 L64.5,614.5 L65.1,614.5 L65.7,614.5 L66.4,614.5 L67.0,614.5 L67.7,614.5 L68.3,614.5 L69.0,614.5 L69.6,614.5 L70.2,614.5 L70.9,614.5 L71.5,614.5 L72.2,614.5 L72.8,614.5 L73.4,614.5 L74.1,614.5 L74.7,614.5 L75.4,614.5 L76.0,614.5 L76.7,614.5 L77.3,614.5 L77.9,614.5 L78.6,614.5 L79.2,614.5 L79.9,614.5 L80.5,614.5 L81.2,614.5 L81.8,614.5 L82.4,614.5 L83.1,614.5 L83.7,614.5 L84.4,614.5 L85.0,614.5 L85.6,614.5 L86.3,614.5 L86.9,614.5 L87.6,614.5 L88.2,614.5 L88.9,614.5 L89.5,614.5 L90.1,614.2 L90.8,613.4 L91.4,612.4 L92.1,611.4 L92.7,610.5 L93.4,609.8 L94.0,608.9 L94.6,608.1 L95.3,607.4 L95.9,606.9 L96.6,606.6 L97.2,606.7 L97.9,607.1 L98.5,607.7 L99.1,608.4 L99.8,609.1 L100.4,609.8 L101.1,610.4 L101.7,611.2 L102.3,612.0 L103.0,612.8 L103.6,613.5 L104.3,613.9 L104.9,614.0 L105.6,614.0 L106.2,613.9 L106.8,613.8 L107.5,613.5 L108.1,612.5 L108.8,610.8 L109.4,608.9 L110.1,606.2 L110.7,602.4 L111.3,597.7 L112.0,592.7 L112.6,587.9 L113.3,583.0 L113.9,577.6 L114.5,572.8 L115.2,569.8 L115.8,567.9 L116.5,566.3 L117.1,565.1 L117.8,564.7 L118.4,565.2 L119.0,566.9 L119.7,569.1 L120.3,571.4 L121.0,573.3 L121.6,575.6 L122.3,577.9 L122.9,579.8 L123.5,580.9 L124.2,580.4 L124.8,578.0 L125.5,574.6 L126.1,571.0 L126.7,567.6 L127.4,563.4 L128.0,559.6 L128.7,557.4 L129.3,557.7 L130.0,559.4 L130.6,561.4 L131.2,563.0 L131.9,564.3 L132.5,565.6 L133.2,566.7 L133.8,567.4 L134.5,567.6 L135.1,567.4 L135.7,567.0 L136.4,566.7 L137.0,566.7 L137.7,567.9 L138.3,569.5 L138.9,570.5 L139.6,571.3 L140.2,571.9 L140.9,571.9 L141.5,569.7 L142.2,565.3 L142.8,560.2 L143.4,554.6 L144.1,546.9 L144.7,538.5 L145.4,531.6 L146.0,526.8 L146.7,522.2 L147.3,518.6 L147.9,516.8 L148.6,517.9 L149.2,521.3 L149.9,525.5 L150.5,529.2 L151.1,533.0 L151.8,537.0 L152.4,540.7 L153.1,543.9 L153.7,546.1 L154.4,548.0 L155.0,549.6 L155.6,550.6 L156.3,550.7 L156.9,549.5 L157.6,547.4 L158.2,544.8 L158.9,542.3 L159.5,540.1 L160.1,537.4 L160.8,534.7 L161.4,532.5 L162.1,531.2 L162.7,531.4 L163.3,533.0 L164.0,535.0 L164.6,536.7 L165.3,538.4 L165.9,539.9 L166.6,540.9 L167.2,540.1 L167.8,536.6 L168.5,531.8 L169.1,527.5 L169.8,522.9 L170.4,518.2 L171.1,514.9 L171.7,514.7 L172.3,517.8 L173.0,522.5 L173.6,527.1 L174.3,530.5 L174.9,534.1 L175.5,537.4 L176.2,539.9 L176.8,541.0 L177.5,540.4 L178.1,539.0 L178.8,537.0 L179.4,534.8 L180.0,532.6 L180.7,529.6 L181.3,526.0 L182.0,522.5 L182.6,519.8 L183.3,518.8 L183.9,520.8 L184.5,525.9 L185.2,532.4 L185.8,539.1 L186.5,547.7 L187.1,557.4 L187.8,566.7 L188.4,574.9 L189.0,582.9 L189.7,589.8 L190.3,594.7 L191.0,598.7 L191.6,601.9 L192.2,604.2 L192.9,605.8 L193.5,607.0 L194.2,607.9 L194.8,608.6 L195.5,609.2 L196.1,609.6 L196.7,610.0 L197.4,610.2 L198.0,610.4 L198.7,610.5 L199.3,610.7 L200.0,610.8 L200.6,610.9 L201.2,611.0 L201.9,611.0 L202.5,611.0 L203.2,611.0 L203.8,610.9 L204.4,610.8 L205.1,610.6 L205.7,610.5 L206.4,610.4 L207.0,610.2 L207.7,610.1 L208.3,610.1 L208.9,610.1 L209.6,610.2 L210.2,610.3 L210.9,610.6 L211.5,610.9 L212.2,611.2 L212.8,611.4 L213.4,611.7 L214.1,611.9 L214.7,612.0 L215.4,612.0 L216.0,612.0 L216.6,611.8 L217.3,611.6 L217.9,611.4 L218.6,611.2 L219.2,611.0 L219.9,610.8 L220.5,610.6 L221.1,610.6 L221.8,610.6 L222.4,610.6 L223.1,610.8 L223.7,611.0 L224.4,611.2 L225.0,611.4 L225.6,611.6 L226.3,611.8 L226.9,611.9 L227.6,612.0 L228.2,612.0 L228.8,612.0 L229.5,612.0 L230.1,611.9 L230.8,611.9 L231.4,611.8 L232.1,611.7 L232.7,611.5" fill="none" stroke="#2e8a48" stroke-width="1.05"/>
</g>
<rect x="40.3" y="461.9" width="193.39999999999998" height="152.60000000000002" fill="none" stroke="#444" stroke-width="1"/>
<line x1="37.3" y1="614.5" x2="40.3" y2="614.5" stroke="#333" stroke-width="0.9"/>
<text x="35.8" y="617.8" font-size="9" text-anchor="end" fill="#1a1a1a" >0</text>
<line x1="37.3" y1="575.0" x2="40.3" y2="575.0" stroke="#333" stroke-width="0.9"/>
<text x="35.8" y="578.3" font-size="9" text-anchor="end" fill="#1a1a1a" >8</text>
<line x1="37.3" y1="535.5" x2="40.3" y2="535.5" stroke="#333" stroke-width="0.9"/>
<text x="35.8" y="538.8" font-size="9" text-anchor="end" fill="#1a1a1a" >16</text>
<line x1="37.3" y1="496.1" x2="40.3" y2="496.1" stroke="#333" stroke-width="0.9"/>
<text x="35.8" y="499.4" font-size="9" text-anchor="end" fill="#1a1a1a" >24</text>
<line x1="38.5" y1="594.8" x2="40.3" y2="594.8" stroke="#333" stroke-width="0.8"/>
<line x1="38.5" y1="555.3" x2="40.3" y2="555.3" stroke="#333" stroke-width="0.8"/>
<line x1="38.5" y1="515.8" x2="40.3" y2="515.8" stroke="#333" stroke-width="0.8"/>
<line x1="38.5" y1="476.3" x2="40.3" y2="476.3" stroke="#333" stroke-width="0.8"/>
<line x1="56.7" y1="614.5" x2="56.7" y2="617.5" stroke="#333" stroke-width="0.9"/>
<text x="55.5" y="625.5" font-size="9" text-anchor="middle" fill="#1a1a1a" >-8</text>
<line x1="88.7" y1="614.5" x2="88.7" y2="617.5" stroke="#333" stroke-width="0.9"/>
<text x="87.5" y="625.5" font-size="9" text-anchor="middle" fill="#1a1a1a" >-6</text>
<line x1="120.7" y1="614.5" x2="120.7" y2="617.5" stroke="#333" stroke-width="0.9"/>
<text x="119.5" y="625.5" font-size="9" text-anchor="middle" fill="#1a1a1a" >-4</text>
<line x1="152.7" y1="614.5" x2="152.7" y2="617.5" stroke="#333" stroke-width="0.9"/>
<text x="151.5" y="625.5" font-size="9" text-anchor="middle" fill="#1a1a1a" >-2</text>
<line x1="184.7" y1="614.5" x2="184.7" y2="617.5" stroke="#333" stroke-width="0.9"/>
<text x="184.7" y="625.5" font-size="9" text-anchor="middle" fill="#1a1a1a" >0</text>
<line x1="216.7" y1="614.5" x2="216.7" y2="617.5" stroke="#333" stroke-width="0.9"/>
<text x="216.7" y="625.5" font-size="9" text-anchor="middle" fill="#1a1a1a" >2</text>
<line x1="40.7" y1="614.5" x2="40.7" y2="616.3" stroke="#333" stroke-width="0.8"/>
<line x1="72.7" y1="614.5" x2="72.7" y2="616.3" stroke="#333" stroke-width="0.8"/>
<line x1="104.7" y1="614.5" x2="104.7" y2="616.3" stroke="#333" stroke-width="0.8"/>
<line x1="136.7" y1="614.5" x2="136.7" y2="616.3" stroke="#333" stroke-width="0.8"/>
<line x1="168.7" y1="614.5" x2="168.7" y2="616.3" stroke="#333" stroke-width="0.8"/>
<line x1="200.7" y1="614.5" x2="200.7" y2="616.3" stroke="#333" stroke-width="0.8"/>
<line x1="232.7" y1="614.5" x2="232.7" y2="616.3" stroke="#333" stroke-width="0.8"/>
<text x="139.7" y="638.5" font-size="11.3" text-anchor="middle" fill="#1a1a1a" >E-E<tspan dy="2" font-size="60%">F</tspan><tspan dy="-2" font-size="1"> </tspan> (eV)</text>
<text transform="translate(18.5 539.5) rotate(-90)" font-size="10.6" text-anchor="middle" fill="#1a1a1a">Density of States (a.u.)</text>
<line x1="42.2" y1="470.7" x2="68.80000000000001" y2="470.7" stroke="#e2524a" stroke-width="1.3"/>
<text x="72.3" y="474.9" font-size="12" text-anchor="start" fill="#1a1a1a" >d<tspan dy="3.4" font-size="64%">yz</tspan><tspan dy="-3.4" font-size="1"> </tspan></text>
<line x1="88.8" y1="470.7" x2="115.4" y2="470.7" stroke="#2a80c4" stroke-width="1.3"/>
<text x="119.0" y="474.9" font-size="12" text-anchor="start" fill="#1a1a1a" >d<tspan dy="3.6" font-size="64%">z</tspan><tspan dy="-4.6" font-size="50%">2</tspan></text>
<line x1="42.2" y1="487.7" x2="68.80000000000001" y2="487.7" stroke="#2e8a48" stroke-width="1.3"/>
<text x="72.3" y="491.9" font-size="12" text-anchor="start" fill="#1a1a1a" >d<tspan dy="3.4" font-size="64%">xz</tspan><tspan dy="-3.4" font-size="1"> </tspan></text>
<line x1="88.8" y1="487.7" x2="115.4" y2="487.7" stroke="#808080" stroke-width="1.3"/>
<text x="119.0" y="491.9" font-size="12" text-anchor="start" fill="#1a1a1a" >LiO<tspan dy="3.2" font-size="62%">2</tspan><tspan dy="-3.2" font-size="1"> </tspan></text>
<text x="229.8" y="476.9" font-size="12" text-anchor="end" fill="#1a1a1a" >Pd</text>
<text x="72.3" y="573.0" font-size="11.5" text-anchor="start" fill="#1a1a1a" >5σ</text>
<line x1="86.5" y1="574.4" x2="95.9" y2="587.0" stroke="#111" stroke-width="1.0"/>
<polygon points="98.3,590.2 93.9,587.3 96.8,585.1" fill="#111"/>
<text x="160.3" y="593.8" font-size="11.5" text-anchor="start" fill="#1a1a1a" >2π*</text>
<line x1="176.9" y1="593.8" x2="188.5" y2="607.8" stroke="#111" stroke-width="1.0"/>
<polygon points="191.0,610.9 186.4,608.2 189.2,605.9" fill="#111"/>
<text x="10.6" y="668.7" font-size="17.5" text-anchor="start" fill="#1a1a1a" >e</text>
<clipPath id="clipE"><rect x="39.8" y="656.6" width="193.89999999999998" height="153.59999999999994"/></clipPath>
<g clip-path="url(#clipE)">
<path d="M40.0,809.8 L40.7,809.8 L41.3,809.7 L42.0,809.6 L42.6,809.5 L43.3,809.2 L43.9,808.6 L44.6,808.1 L45.2,807.6 L45.8,807.1 L46.5,806.6 L47.1,806.4 L47.8,806.5 L48.4,806.8 L49.1,807.4 L49.7,807.8 L50.4,808.4 L51.0,808.9 L51.6,809.4 L52.3,809.6 L52.9,809.7 L53.6,809.8 L54.2,809.8 L54.9,809.8 L55.5,809.8 L56.2,809.8 L56.8,809.8 L57.4,809.8 L58.1,809.8 L58.7,809.8 L59.4,809.8 L60.0,809.8 L60.7,809.8 L61.3,809.8 L62.0,809.8 L62.6,809.8 L63.2,809.8 L63.9,809.8 L64.5,809.8 L65.2,809.8 L65.8,809.8 L66.5,809.8 L67.1,809.8 L67.7,809.8 L68.4,809.8 L69.0,809.8 L69.7,809.8 L70.3,809.8 L71.0,809.8 L71.6,809.8 L72.3,809.8 L72.9,809.8 L73.5,809.8 L74.2,809.8 L74.8,809.8 L75.5,809.8 L76.1,809.8 L76.8,809.8 L77.4,809.8 L78.1,809.8 L78.7,809.8 L79.3,809.8 L80.0,809.8 L80.6,809.8 L81.3,809.8 L81.9,809.8 L82.6,809.8 L83.2,809.8 L83.9,809.8 L84.5,809.8 L85.1,809.8 L85.8,809.8 L86.4,809.8 L87.1,809.8 L87.7,809.8 L88.4,809.8 L89.0,809.8 L89.6,809.8 L90.3,809.8 L90.9,809.8 L91.6,809.8 L92.2,809.8 L92.9,809.8 L93.5,809.8 L94.2,809.8 L94.8,809.8 L95.4,809.8 L96.1,809.8 L96.7,809.8 L97.4,809.8 L98.0,809.8 L98.7,809.8 L99.3,809.8 L100.0,809.8 L100.6,809.8 L101.2,809.8 L101.9,809.7 L102.5,809.5 L103.2,809.3 L103.8,809.0 L104.5,808.6 L105.1,808.1 L105.8,807.3 L106.4,806.3 L107.0,804.9 L107.7,803.4 L108.3,801.7 L109.0,799.3 L109.6,796.0 L110.3,792.2 L110.9,788.3 L111.6,784.7 L112.2,780.8 L112.8,776.8 L113.5,773.6 L114.1,771.7 L114.8,770.5 L115.4,769.9 L116.1,769.7 L116.7,769.6 L117.3,769.5 L118.0,769.3 L118.6,768.3 L119.3,766.7 L119.9,765.1 L120.6,764.0 L121.2,762.9 L121.9,762.1 L122.5,762.1 L123.1,763.0 L123.8,764.4 L124.4,765.6 L125.1,766.6 L125.7,767.6 L126.4,768.2 L127.0,767.9 L127.7,764.8 L128.3,760.3 L128.9,756.1 L129.6,751.4 L130.2,746.6 L130.9,742.4 L131.5,739.3 L132.2,736.5 L132.8,734.2 L133.5,733.3 L134.1,734.4 L134.7,737.0 L135.4,740.0 L136.0,743.0 L136.7,746.7 L137.3,750.6 L138.0,754.3 L138.6,757.4 L139.2,759.4 L139.9,761.1 L140.5,762.5 L141.2,763.4 L141.8,764.2 L142.5,764.9 L143.1,765.3 L143.8,765.4 L144.4,765.3 L145.0,765.1 L145.7,764.8 L146.3,764.6 L147.0,764.3 L147.6,764.2 L148.3,764.0 L148.9,763.7 L149.6,763.4 L150.2,761.8 L150.8,758.8 L151.5,755.1 L152.1,751.3 L152.8,746.7 L153.4,741.3 L154.1,736.3 L154.7,733.1 L155.4,730.9 L156.0,729.2 L156.6,728.4 L157.3,730.1 L157.9,735.0 L158.6,741.0 L159.2,746.8 L159.9,753.9 L160.5,761.4 L161.1,768.1 L161.8,772.9 L162.4,775.8 L163.1,778.1 L163.7,779.8 L164.4,780.9 L165.0,781.8 L165.7,782.5 L166.3,782.6 L166.9,780.8 L167.6,777.5 L168.2,774.1 L168.9,771.6 L169.5,769.0 L170.2,766.9 L170.8,765.9 L171.5,767.7 L172.1,772.4 L172.7,777.8 L173.4,782.4 L174.0,787.6 L174.7,792.6 L175.3,796.8 L176.0,799.5 L176.6,801.6 L177.3,802.9 L177.9,803.6 L178.5,803.9 L179.2,803.3 L179.8,802.0 L180.5,800.3 L181.1,798.8 L181.8,797.6 L182.4,796.4 L183.1,795.3 L183.7,794.6 L184.3,794.5 L185.0,794.7 L185.6,794.9 L186.3,795.2 L186.9,795.5 L187.6,795.8 L188.2,796.1 L188.8,796.4 L189.5,796.7 L190.1,797.1 L190.8,797.4 L191.4,797.7 L192.1,798.0 L192.7,798.4 L193.4,798.7 L194.0,799.1 L194.6,799.5 L195.3,800.0 L195.9,800.6 L196.6,801.2 L197.2,801.9 L197.9,802.5 L198.5,803.1 L199.2,803.5 L199.8,803.9 L200.4,804.3 L201.1,804.6 L201.7,804.8 L202.4,804.9 L203.0,804.8 L203.7,804.6 L204.3,804.4 L205.0,804.3 L205.6,804.1 L206.2,803.9 L206.9,803.9 L207.5,804.0 L208.2,804.2 L208.8,804.5 L209.5,804.9 L210.1,805.3 L210.7,805.6 L211.4,805.8 L212.0,805.8 L212.7,805.7 L213.3,805.5 L214.0,805.2 L214.6,804.9 L215.3,804.7 L215.9,804.5 L216.5,804.4 L217.2,804.4 L217.8,804.6 L218.5,804.9 L219.1,805.2 L219.8,805.6 L220.4,805.9 L221.1,806.3 L221.7,806.6 L222.3,806.8 L223.0,806.8 L223.6,806.8 L224.3,806.8 L224.9,806.7 L225.6,806.6 L226.2,806.5 L226.9,806.4 L227.5,806.4 L228.1,806.4 L228.8,806.4 L229.4,806.5 L230.1,806.7 L230.7,806.9 L231.4,807.2 L232.0,807.5 L232.7,807.8 L232.7,809.8 L40.0,809.8 Z" fill="url(#redFillE)"/>
<clipPath id="clipR"><path d="M40.0,809.8 L40.7,809.8 L41.3,809.7 L42.0,809.6 L42.6,809.5 L43.3,809.2 L43.9,808.6 L44.6,808.1 L45.2,807.6 L45.8,807.1 L46.5,806.6 L47.1,806.4 L47.8,806.5 L48.4,806.8 L49.1,807.4 L49.7,807.8 L50.4,808.4 L51.0,808.9 L51.6,809.4 L52.3,809.6 L52.9,809.7 L53.6,809.8 L54.2,809.8 L54.9,809.8 L55.5,809.8 L56.2,809.8 L56.8,809.8 L57.4,809.8 L58.1,809.8 L58.7,809.8 L59.4,809.8 L60.0,809.8 L60.7,809.8 L61.3,809.8 L62.0,809.8 L62.6,809.8 L63.2,809.8 L63.9,809.8 L64.5,809.8 L65.2,809.8 L65.8,809.8 L66.5,809.8 L67.1,809.8 L67.7,809.8 L68.4,809.8 L69.0,809.8 L69.7,809.8 L70.3,809.8 L71.0,809.8 L71.6,809.8 L72.3,809.8 L72.9,809.8 L73.5,809.8 L74.2,809.8 L74.8,809.8 L75.5,809.8 L76.1,809.8 L76.8,809.8 L77.4,809.8 L78.1,809.8 L78.7,809.8 L79.3,809.8 L80.0,809.8 L80.6,809.8 L81.3,809.8 L81.9,809.8 L82.6,809.8 L83.2,809.8 L83.9,809.8 L84.5,809.8 L85.1,809.8 L85.8,809.8 L86.4,809.8 L87.1,809.8 L87.7,809.8 L88.4,809.8 L89.0,809.8 L89.6,809.8 L90.3,809.8 L90.9,809.8 L91.6,809.8 L92.2,809.8 L92.9,809.8 L93.5,809.8 L94.2,809.8 L94.8,809.8 L95.4,809.8 L96.1,809.8 L96.7,809.8 L97.4,809.8 L98.0,809.8 L98.7,809.8 L99.3,809.8 L100.0,809.8 L100.6,809.8 L101.2,809.8 L101.9,809.7 L102.5,809.5 L103.2,809.3 L103.8,809.0 L104.5,808.6 L105.1,808.1 L105.8,807.3 L106.4,806.3 L107.0,804.9 L107.7,803.4 L108.3,801.7 L109.0,799.3 L109.6,796.0 L110.3,792.2 L110.9,788.3 L111.6,784.7 L112.2,780.8 L112.8,776.8 L113.5,773.6 L114.1,771.7 L114.8,770.5 L115.4,769.9 L116.1,769.7 L116.7,769.6 L117.3,769.5 L118.0,769.3 L118.6,768.3 L119.3,766.7 L119.9,765.1 L120.6,764.0 L121.2,762.9 L121.9,762.1 L122.5,762.1 L123.1,763.0 L123.8,764.4 L124.4,765.6 L125.1,766.6 L125.7,767.6 L126.4,768.2 L127.0,767.9 L127.7,764.8 L128.3,760.3 L128.9,756.1 L129.6,751.4 L130.2,746.6 L130.9,742.4 L131.5,739.3 L132.2,736.5 L132.8,734.2 L133.5,733.3 L134.1,734.4 L134.7,737.0 L135.4,740.0 L136.0,743.0 L136.7,746.7 L137.3,750.6 L138.0,754.3 L138.6,757.4 L139.2,759.4 L139.9,761.1 L140.5,762.5 L141.2,763.4 L141.8,764.2 L142.5,764.9 L143.1,765.3 L143.8,765.4 L144.4,765.3 L145.0,765.1 L145.7,764.8 L146.3,764.6 L147.0,764.3 L147.6,764.2 L148.3,764.0 L148.9,763.7 L149.6,763.4 L150.2,761.8 L150.8,758.8 L151.5,755.1 L152.1,751.3 L152.8,746.7 L153.4,741.3 L154.1,736.3 L154.7,733.1 L155.4,730.9 L156.0,729.2 L156.6,728.4 L157.3,730.1 L157.9,735.0 L158.6,741.0 L159.2,746.8 L159.9,753.9 L160.5,761.4 L161.1,768.1 L161.8,772.9 L162.4,775.8 L163.1,778.1 L163.7,779.8 L164.4,780.9 L165.0,781.8 L165.7,782.5 L166.3,782.6 L166.9,780.8 L167.6,777.5 L168.2,774.1 L168.9,771.6 L169.5,769.0 L170.2,766.9 L170.8,765.9 L171.5,767.7 L172.1,772.4 L172.7,777.8 L173.4,782.4 L174.0,787.6 L174.7,792.6 L175.3,796.8 L176.0,799.5 L176.6,801.6 L177.3,802.9 L177.9,803.6 L178.5,803.9 L179.2,803.3 L179.8,802.0 L180.5,800.3 L181.1,798.8 L181.8,797.6 L182.4,796.4 L183.1,795.3 L183.7,794.6 L184.3,794.5 L185.0,794.7 L185.6,794.9 L186.3,795.2 L186.9,795.5 L187.6,795.8 L188.2,796.1 L188.8,796.4 L189.5,796.7 L190.1,797.1 L190.8,797.4 L191.4,797.7 L192.1,798.0 L192.7,798.4 L193.4,798.7 L194.0,799.1 L194.6,799.5 L195.3,800.0 L195.9,800.6 L196.6,801.2 L197.2,801.9 L197.9,802.5 L198.5,803.1 L199.2,803.5 L199.8,803.9 L200.4,804.3 L201.1,804.6 L201.7,804.8 L202.4,804.9 L203.0,804.8 L203.7,804.6 L204.3,804.4 L205.0,804.3 L205.6,804.1 L206.2,803.9 L206.9,803.9 L207.5,804.0 L208.2,804.2 L208.8,804.5 L209.5,804.9 L210.1,805.3 L210.7,805.6 L211.4,805.8 L212.0,805.8 L212.7,805.7 L213.3,805.5 L214.0,805.2 L214.6,804.9 L215.3,804.7 L215.9,804.5 L216.5,804.4 L217.2,804.4 L217.8,804.6 L218.5,804.9 L219.1,805.2 L219.8,805.6 L220.4,805.9 L221.1,806.3 L221.7,806.6 L222.3,806.8 L223.0,806.8 L223.6,806.8 L224.3,806.8 L224.9,806.7 L225.6,806.6 L226.2,806.5 L226.9,806.4 L227.5,806.4 L228.1,806.4 L228.8,806.4 L229.4,806.5 L230.1,806.7 L230.7,806.9 L231.4,807.2 L232.0,807.5 L232.7,807.8 L232.7,809.8 L40.0,809.8 Z"/></clipPath>
<rect x="100" y="656.6" width="40" height="153.19999999999993" fill="url(#whiteE)" clip-path="url(#clipR)"/>
<path d="M40.0,809.8 L40.7,809.8 L41.3,809.8 L42.0,809.8 L42.6,809.8 L43.3,809.8 L43.9,809.8 L44.6,809.8 L45.2,809.8 L45.8,809.8 L46.5,809.8 L47.1,809.8 L47.8,809.8 L48.4,809.8 L49.1,809.8 L49.7,809.8 L50.4,809.8 L51.0,809.8 L51.6,809.8 L52.3,809.8 L52.9,809.8 L53.6,809.8 L54.2,809.8 L54.9,809.8 L55.5,809.8 L56.2,809.8 L56.8,809.8 L57.4,809.8 L58.1,809.8 L58.7,809.8 L59.4,809.8 L60.0,809.8 L60.7,809.8 L61.3,809.8 L62.0,809.8 L62.6,809.8 L63.2,809.8 L63.9,809.8 L64.5,809.8 L65.2,809.8 L65.8,809.8 L66.5,809.8 L67.1,809.8 L67.7,809.8 L68.4,809.8 L69.0,809.8 L69.7,809.8 L70.3,809.8 L71.0,809.8 L71.6,809.8 L72.3,809.8 L72.9,809.8 L73.5,809.8 L74.2,809.8 L74.8,809.8 L75.5,809.8 L76.1,809.8 L76.8,809.8 L77.4,809.8 L78.1,809.8 L78.7,809.8 L79.3,809.8 L80.0,809.8 L80.6,809.8 L81.3,809.8 L81.9,809.8 L82.6,809.8 L83.2,809.8 L83.9,809.8 L84.5,809.8 L85.1,809.8 L85.8,809.8 L86.4,809.8 L87.1,809.8 L87.7,809.8 L88.4,809.8 L89.0,809.8 L89.6,809.8 L90.3,809.8 L90.9,809.8 L91.6,809.8 L92.2,809.8 L92.9,809.8 L93.5,809.8 L94.2,809.8 L94.8,809.8 L95.4,809.8 L96.1,809.8 L96.7,809.8 L97.4,809.8 L98.0,809.8 L98.7,809.8 L99.3,809.8 L100.0,809.8 L100.6,809.7 L101.2,809.6 L101.9,809.4 L102.5,809.0 L103.2,807.8 L103.8,806.0 L104.5,804.0 L105.1,802.3 L105.8,800.4 L106.4,798.2 L107.0,796.3 L107.7,795.0 L108.3,794.9 L109.0,796.0 L109.6,797.8 L110.3,799.6 L110.9,801.9 L111.6,803.4 L112.2,802.4 L112.8,799.6 L113.5,796.0 L114.1,792.8 L114.8,789.1 L115.4,785.1 L116.1,781.1 L116.7,777.6 L117.3,774.9 L118.0,773.3 L118.6,772.1 L119.3,771.1 L119.9,770.2 L120.6,769.2 L121.2,768.1 L121.9,766.7 L122.5,765.0 L123.1,763.4 L123.8,762.2 L124.4,761.5 L125.1,761.9 L125.7,764.0 L126.4,766.7 L127.0,769.2 L127.7,771.5 L128.3,773.9 L128.9,775.7 L129.6,776.2 L130.2,774.2 L130.9,770.7 L131.5,767.4 L132.2,764.4 L132.8,761.2 L133.5,758.6 L134.1,757.5 L134.7,758.2 L135.4,759.9 L136.0,762.2 L136.7,764.7 L137.3,766.9 L138.0,769.0 L138.6,771.2 L139.2,773.5 L139.9,775.7 L140.5,777.8 L141.2,780.4 L141.8,782.7 L142.5,783.6 L143.1,782.2 L143.8,779.1 L144.4,776.1 L145.0,773.1 L145.7,770.7 L146.3,770.6 L147.0,771.8 L147.6,773.0 L148.3,774.2 L148.9,772.9 L149.6,768.8 L150.2,763.5 L150.8,755.3 L151.5,745.1 L152.1,735.0 L152.8,724.4 L153.4,713.8 L154.1,705.5 L154.7,698.6 L155.4,692.9 L156.0,690.9 L156.6,693.4 L157.3,698.3 L157.9,703.2 L158.6,707.4 L159.2,712.0 L159.9,715.3 L160.5,715.6 L161.1,711.5 L161.8,705.6 L162.4,700.1 L163.1,693.2 L163.7,687.4 L164.4,685.5 L165.0,689.3 L165.7,696.7 L166.3,705.0 L166.9,715.6 L167.6,728.3 L168.2,740.7 L168.9,750.3 L169.5,758.5 L170.2,765.8 L170.8,772.4 L171.5,778.2 L172.1,783.5 L172.7,788.3 L173.4,792.9 L174.0,797.4 L174.7,801.4 L175.3,804.4 L176.0,807.1 L176.6,808.7 L177.3,808.7 L177.9,808.4 L178.5,807.8 L179.2,807.3 L179.8,806.7 L180.5,806.1 L181.1,805.4 L181.8,804.6 L182.4,803.9 L183.1,803.3 L183.7,802.7 L184.3,802.4 L185.0,802.3 L185.6,802.2 L186.3,802.1 L186.9,802.0 L187.6,802.0 L188.2,801.9 L188.8,801.9 L189.5,801.9 L190.1,801.9 L190.8,802.0 L191.4,802.1 L192.1,802.2 L192.7,802.4 L193.4,802.5 L194.0,802.7 L194.6,802.9 L195.3,803.2 L195.9,803.6 L196.6,804.1 L197.2,804.6 L197.9,805.1 L198.5,805.6 L199.2,806.0 L199.8,806.4 L200.4,806.8 L201.1,807.1 L201.7,807.3 L202.4,807.3 L203.0,807.0 L203.7,806.4 L204.3,805.9 L205.0,805.4 L205.6,805.4 L206.2,805.5 L206.9,805.7 L207.5,805.9 L208.2,806.2 L208.8,806.5 L209.5,806.7 L210.1,806.8 L210.7,806.9 L211.4,807.0 L212.0,807.0 L212.7,807.1 L213.3,807.1 L214.0,807.1 L214.6,807.2 L215.3,807.2 L215.9,807.3 L216.5,807.3 L217.2,807.4 L217.8,807.5 L218.5,807.6 L219.1,807.7 L219.8,807.8 L220.4,807.9 L221.1,808.0 L221.7,808.1 L222.3,808.2 L223.0,808.2 L223.6,808.3 L224.3,808.3 L224.9,808.3 L225.6,808.3 L226.2,808.3 L226.9,808.3 L227.5,808.3 L228.1,808.3 L228.8,808.3 L229.4,808.3 L230.1,808.3 L230.7,808.3 L231.4,808.3 L232.0,808.3 L232.7,808.3 L232.7,809.8 L40.0,809.8 Z" fill="url(#blueFillE)"/>
<path d="M176.6,800.6 L177.3,802.4 L177.9,803.4 L178.5,803.9 L179.2,803.3 L179.8,802.0 L180.5,800.3 L181.1,798.8 L181.8,797.6 L182.4,796.4 L183.1,795.3 L183.7,794.6 L184.3,794.5 L185.0,794.7 L185.6,794.9 L186.3,795.2 L186.9,795.5 L187.6,795.8 L188.2,796.1 L188.8,796.4 L189.5,796.7 L190.1,797.1 L190.8,797.4 L191.4,797.7 L192.1,798.0 L192.7,798.4 L193.4,798.7 L194.0,799.1 L194.6,799.5 L195.3,800.0 L195.9,800.6 L196.6,801.2 L197.2,801.9 L197.9,802.5 L198.5,803.1 L199.2,803.5 L199.8,803.9 L200.4,804.2 L201.1,803.8 L201.7,803.5 L202.4,803.4 L203.0,803.6 L203.7,803.8 L204.3,804.2 L205.0,804.3 L205.6,804.1 L206.2,803.9 L206.9,803.9 L207.5,804.0 L208.2,804.2 L208.8,804.5 L209.5,804.6 L210.1,804.3 L210.7,804.1 L211.4,803.9 L212.0,803.9 L212.7,804.0 L213.3,804.3 L214.0,804.7 L214.6,804.9 L215.3,804.7 L215.9,804.5 L216.5,804.4 L217.2,804.4 L217.8,804.6 L218.5,804.9 L219.1,805.2 L219.8,805.6 L220.4,805.9 L221.1,806.2 L221.7,806.2 L222.3,806.3 L223.0,806.3 L223.6,806.4 L224.3,806.6 L224.9,806.7 L225.6,806.6 L226.2,806.5 L226.9,806.4 L227.5,806.4 L228.1,806.4 L228.8,806.4 L229.4,806.5 L230.1,806.7 L230.7,806.9 L231.4,807.2 L232.0,807.3 L232.7,807.3 L232.7,809.8 L176.6,809.8 Z" fill="#e46a58" fill-opacity="0.8"/>
<path d="M176.6,808.7 L177.3,808.7 L177.9,808.4 L178.5,807.8 L179.2,807.3 L179.8,806.7 L180.5,806.1 L181.1,805.4 L181.8,804.6 L182.4,803.9 L183.1,803.3 L183.7,802.7 L184.3,802.4 L185.0,802.3 L185.6,802.2 L186.3,802.1 L186.9,802.0 L187.6,802.0 L188.2,801.9 L188.8,801.9 L189.5,801.9 L190.1,801.9 L190.8,802.0 L191.4,802.1 L192.1,802.2 L192.7,802.4 L193.4,802.5 L194.0,802.7 L194.6,802.9 L195.3,803.2 L195.9,803.6 L196.6,804.1 L197.2,804.6 L197.9,805.1 L198.5,805.6 L199.2,806.0 L199.8,806.4 L200.4,806.8 L201.1,807.1 L201.7,807.3 L202.4,807.3 L203.0,807.0 L203.7,806.4 L204.3,805.9 L205.0,805.4 L205.6,805.4 L206.2,805.5 L206.9,805.7 L207.5,805.9 L208.2,806.2 L208.8,806.5 L209.5,806.7 L210.1,806.8 L210.7,806.9 L211.4,807.0 L212.0,807.0 L212.7,807.1 L213.3,807.1 L214.0,807.1 L214.6,807.2 L215.3,807.2 L215.9,807.3 L216.5,807.3 L217.2,807.4 L217.8,807.5 L218.5,807.6 L219.1,807.7 L219.8,807.8 L220.4,807.9 L221.1,808.0 L221.7,808.1 L222.3,808.2 L223.0,808.2 L223.6,808.3 L224.3,808.3 L224.9,808.3 L225.6,808.3 L226.2,808.3 L226.9,808.3 L227.5,808.3 L228.1,808.3 L228.8,808.3 L229.4,808.3 L230.1,808.3 L230.7,808.3 L231.4,808.3 L232.0,808.3 L232.7,808.3 L232.7,809.8 L176.6,809.8 Z" fill="#4a9ade" fill-opacity="0.9"/>
<path d="M40.0,809.8 L40.7,809.8 L41.3,809.6 L42.0,809.5 L42.6,809.2 L43.3,808.7 L43.9,807.9 L44.6,807.1 L45.2,806.5 L45.8,805.8 L46.5,805.2 L47.1,804.9 L47.8,805.0 L48.4,805.5 L49.1,806.2 L49.7,806.9 L50.4,807.6 L51.0,808.4 L51.6,809.0 L52.3,809.4 L52.9,809.6 L53.6,809.7 L54.2,809.8 L54.9,809.8 L55.5,809.8 L55.5,809.8 L40.0,809.8 Z" fill="#7cb88a"/>
<line x1="184.5" y1="656.6" x2="184.5" y2="809.8" stroke="#555" stroke-width="0.9" stroke-dasharray="2.4 2"/>
<path d="M40.0,809.8 L40.7,809.8 L41.3,809.8 L42.0,809.8 L42.6,809.8 L43.3,809.8 L43.9,809.8 L44.6,809.8 L45.2,809.8 L45.8,809.8 L46.5,809.8 L47.1,809.8 L47.8,809.8 L48.4,809.8 L49.1,809.8 L49.7,809.8 L50.4,809.8 L51.0,809.8 L51.6,809.8 L52.3,809.8 L52.9,809.8 L53.6,809.8 L54.2,809.8 L54.9,809.8 L55.5,809.8 L56.2,809.8 L56.8,809.8 L57.4,809.8 L58.1,809.8 L58.7,809.8 L59.4,809.8 L60.0,809.8 L60.7,809.8 L61.3,809.8 L62.0,809.8 L62.6,809.8 L63.2,809.8 L63.9,809.8 L64.5,809.8 L65.2,809.8 L65.8,809.8 L66.5,809.8 L67.1,809.8 L67.7,809.8 L68.4,809.8 L69.0,809.8 L69.7,809.8 L70.3,809.8 L71.0,809.8 L71.6,809.8 L72.3,809.8 L72.9,809.8 L73.5,809.8 L74.2,809.8 L74.8,809.8 L75.5,809.8 L76.1,809.8 L76.8,809.8 L77.4,809.8 L78.1,809.8 L78.7,809.8 L79.3,809.8 L80.0,809.8 L80.6,809.8 L81.3,809.8 L81.9,809.8 L82.6,809.8 L83.2,809.8 L83.9,809.8 L84.5,809.8 L85.1,809.8 L85.8,809.8 L86.4,809.8 L87.1,809.8 L87.7,809.8 L88.4,809.8 L89.0,809.8 L89.6,809.8 L90.3,809.8 L90.9,809.8 L91.6,809.8 L92.2,809.8 L92.9,809.8 L93.5,809.8 L94.2,809.8 L94.8,809.8 L95.4,809.8 L96.1,809.8 L96.7,809.8 L97.4,809.8 L98.0,809.8 L98.7,809.8 L99.3,809.8 L100.0,809.8 L100.6,809.8 L101.2,809.8 L101.9,809.7 L102.5,809.6 L103.2,809.4 L103.8,809.2 L104.5,809.0 L105.1,808.7 L105.8,808.4 L106.4,808.1 L107.0,807.7 L107.7,807.3 L108.3,806.8 L109.0,806.4 L109.6,806.0 L110.3,805.5 L110.9,804.9 L111.6,804.4 L112.2,803.8 L112.8,803.2 L113.5,802.7 L114.1,802.2 L114.8,801.7 L115.4,801.1 L116.1,800.5 L116.7,800.1 L117.3,799.7 L118.0,799.4 L118.6,799.2 L119.3,799.1 L119.9,799.0 L120.6,799.0 L121.2,799.2 L121.9,799.5 L122.5,799.9 L123.1,800.3 L123.8,800.5 L124.4,800.7 L125.1,801.0 L125.7,801.1 L126.4,801.3 L127.0,801.5 L127.7,801.7 L128.3,801.9 L128.9,802.1 L129.6,802.3 L130.2,802.5 L130.9,802.8 L131.5,803.0 L132.2,803.1 L132.8,803.3 L133.5,803.4 L134.1,803.6 L134.7,803.7 L135.4,803.8 L136.0,803.9 L136.7,804.0 L137.3,804.1 L138.0,804.1 L138.6,804.2 L139.2,804.2 L139.9,804.3 L140.5,804.3 L141.2,804.3 L141.8,804.4 L142.5,804.4 L143.1,804.3 L143.8,804.3 L144.4,804.2 L145.0,804.1 L145.7,804.0 L146.3,804.0 L147.0,803.9 L147.6,803.9 L148.3,803.9 L148.9,804.0 L149.6,804.1 L150.2,804.2 L150.8,804.3 L151.5,804.4 L152.1,804.3 L152.8,804.0 L153.4,803.5 L154.1,803.0 L154.7,802.5 L155.4,802.0 L156.0,801.4 L156.6,800.7 L157.3,800.2 L157.9,799.7 L158.6,799.5 L159.2,799.5 L159.9,799.6 L160.5,799.8 L161.1,800.1 L161.8,800.3 L162.4,800.6 L163.1,801.1 L163.7,801.5 L164.4,802.0 L165.0,802.3 L165.7,802.5 L166.3,802.6 L166.9,802.7 L167.6,802.7 L168.2,802.8 L168.9,803.0 L169.5,803.3 L170.2,803.7 L170.8,804.2 L171.5,804.7 L172.1,805.3 L172.7,806.0 L173.4,806.8 L174.0,807.6 L174.7,808.2 L175.3,808.6 L176.0,809.1 L176.6,809.4 L177.3,809.6 L177.9,809.5 L178.5,809.4 L179.2,809.3 L179.8,809.1 L180.5,809.0 L181.1,808.8 L181.8,808.7 L182.4,808.6 L183.1,808.5 L183.7,808.4 L184.3,808.3 L185.0,808.2 L185.6,808.1 L186.3,808.0 L186.9,807.9 L187.6,807.8 L188.2,807.8 L188.8,807.7 L189.5,807.6 L190.1,807.6 L190.8,807.5 L191.4,807.5 L192.1,807.4 L192.7,807.4 L193.4,807.3 L194.0,807.3 L194.6,807.3 L195.3,807.4 L195.9,807.5 L196.6,807.6 L197.2,807.7 L197.9,807.9 L198.5,808.0 L199.2,808.1 L199.8,808.2 L200.4,808.3 L201.1,808.4 L201.7,808.4 L202.4,808.5 L203.0,808.5 L203.7,808.5 L204.3,808.6 L205.0,808.6 L205.6,808.6 L206.2,808.7 L206.9,808.7 L207.5,808.8 L208.2,808.8 L208.8,808.8 L209.5,808.9 L210.1,808.9 L210.7,809.0 L211.4,809.0 L212.0,809.1 L212.7,809.1 L213.3,809.2 L214.0,809.2 L214.6,809.3 L215.3,809.3 L215.9,809.3 L216.5,809.3 L217.2,809.3 L217.8,809.3 L218.5,809.3 L219.1,809.3 L219.8,809.3 L220.4,809.3 L221.1,809.3 L221.7,809.3 L222.3,809.3 L223.0,809.3 L223.6,809.3 L224.3,809.3 L224.9,809.3 L225.6,809.3 L226.2,809.3 L226.9,809.3 L227.5,809.3 L228.1,809.3 L228.8,809.3 L229.4,809.3 L230.1,809.3 L230.7,809.3 L231.4,809.3 L232.0,809.3 L232.7,809.3" fill="none" stroke="#808080" stroke-width="1.0"/>
<path d="M40.0,809.8 L40.7,809.8 L41.3,809.7 L42.0,809.6 L42.6,809.5 L43.3,809.2 L43.9,808.6 L44.6,808.1 L45.2,807.6 L45.8,807.1 L46.5,806.6 L47.1,806.4 L47.8,806.5 L48.4,806.8 L49.1,807.4 L49.7,807.8 L50.4,808.4 L51.0,808.9 L51.6,809.4 L52.3,809.6 L52.9,809.7 L53.6,809.8 L54.2,809.8 L54.9,809.8 L55.5,809.8 L56.2,809.8 L56.8,809.8 L57.4,809.8 L58.1,809.8 L58.7,809.8 L59.4,809.8 L60.0,809.8 L60.7,809.8 L61.3,809.8 L62.0,809.8 L62.6,809.8 L63.2,809.8 L63.9,809.8 L64.5,809.8 L65.2,809.8 L65.8,809.8 L66.5,809.8 L67.1,809.8 L67.7,809.8 L68.4,809.8 L69.0,809.8 L69.7,809.8 L70.3,809.8 L71.0,809.8 L71.6,809.8 L72.3,809.8 L72.9,809.8 L73.5,809.8 L74.2,809.8 L74.8,809.8 L75.5,809.8 L76.1,809.8 L76.8,809.8 L77.4,809.8 L78.1,809.8 L78.7,809.8 L79.3,809.8 L80.0,809.8 L80.6,809.8 L81.3,809.8 L81.9,809.8 L82.6,809.8 L83.2,809.8 L83.9,809.8 L84.5,809.8 L85.1,809.8 L85.8,809.8 L86.4,809.8 L87.1,809.8 L87.7,809.8 L88.4,809.8 L89.0,809.8 L89.6,809.8 L90.3,809.8 L90.9,809.8 L91.6,809.8 L92.2,809.8 L92.9,809.8 L93.5,809.8 L94.2,809.8 L94.8,809.8 L95.4,809.8 L96.1,809.8 L96.7,809.8 L97.4,809.8 L98.0,809.8 L98.7,809.8 L99.3,809.8 L100.0,809.8 L100.6,809.8 L101.2,809.8 L101.9,809.7 L102.5,809.5 L103.2,809.3 L103.8,809.0 L104.5,808.6 L105.1,808.1 L105.8,807.3 L106.4,806.3 L107.0,804.9 L107.7,803.4 L108.3,801.7 L109.0,799.3 L109.6,796.0 L110.3,792.2 L110.9,788.3 L111.6,784.7 L112.2,780.8 L112.8,776.8 L113.5,773.6 L114.1,771.7 L114.8,770.5 L115.4,769.9 L116.1,769.7 L116.7,769.6 L117.3,769.5 L118.0,769.3 L118.6,768.3 L119.3,766.7 L119.9,765.1 L120.6,764.0 L121.2,762.9 L121.9,762.1 L122.5,762.1 L123.1,763.0 L123.8,764.4 L124.4,765.6 L125.1,766.6 L125.7,767.6 L126.4,768.2 L127.0,767.9 L127.7,764.8 L128.3,760.3 L128.9,756.1 L129.6,751.4 L130.2,746.6 L130.9,742.4 L131.5,739.3 L132.2,736.5 L132.8,734.2 L133.5,733.3 L134.1,734.4 L134.7,737.0 L135.4,740.0 L136.0,743.0 L136.7,746.7 L137.3,750.6 L138.0,754.3 L138.6,757.4 L139.2,759.4 L139.9,761.1 L140.5,762.5 L141.2,763.4 L141.8,764.2 L142.5,764.9 L143.1,765.3 L143.8,765.4 L144.4,765.3 L145.0,765.1 L145.7,764.8 L146.3,764.6 L147.0,764.3 L147.6,764.2 L148.3,764.0 L148.9,763.7 L149.6,763.4 L150.2,761.8 L150.8,758.8 L151.5,755.1 L152.1,751.3 L152.8,746.7 L153.4,741.3 L154.1,736.3 L154.7,733.1 L155.4,730.9 L156.0,729.2 L156.6,728.4 L157.3,730.1 L157.9,735.0 L158.6,741.0 L159.2,746.8 L159.9,753.9 L160.5,761.4 L161.1,768.1 L161.8,772.9 L162.4,775.8 L163.1,778.1 L163.7,779.8 L164.4,780.9 L165.0,781.8 L165.7,782.5 L166.3,782.6 L166.9,780.8 L167.6,777.5 L168.2,774.1 L168.9,771.6 L169.5,769.0 L170.2,766.9 L170.8,765.9 L171.5,767.7 L172.1,772.4 L172.7,777.8 L173.4,782.4 L174.0,787.6 L174.7,792.6 L175.3,796.8 L176.0,799.5 L176.6,801.6 L177.3,802.9 L177.9,803.6 L178.5,803.9 L179.2,803.3 L179.8,802.0 L180.5,800.3 L181.1,798.8 L181.8,797.6 L182.4,796.4 L183.1,795.3 L183.7,794.6 L184.3,794.5 L185.0,794.7 L185.6,794.9 L186.3,795.2 L186.9,795.5 L187.6,795.8 L188.2,796.1 L188.8,796.4 L189.5,796.7 L190.1,797.1 L190.8,797.4 L191.4,797.7 L192.1,798.0 L192.7,798.4 L193.4,798.7 L194.0,799.1 L194.6,799.5 L195.3,800.0 L195.9,800.6 L196.6,801.2 L197.2,801.9 L197.9,802.5 L198.5,803.1 L199.2,803.5 L199.8,803.9 L200.4,804.3 L201.1,804.6 L201.7,804.8 L202.4,804.9 L203.0,804.8 L203.7,804.6 L204.3,804.4 L205.0,804.3 L205.6,804.1 L206.2,803.9 L206.9,803.9 L207.5,804.0 L208.2,804.2 L208.8,804.5 L209.5,804.9 L210.1,805.3 L210.7,805.6 L211.4,805.8 L212.0,805.8 L212.7,805.7 L213.3,805.5 L214.0,805.2 L214.6,804.9 L215.3,804.7 L215.9,804.5 L216.5,804.4 L217.2,804.4 L217.8,804.6 L218.5,804.9 L219.1,805.2 L219.8,805.6 L220.4,805.9 L221.1,806.3 L221.7,806.6 L222.3,806.8 L223.0,806.8 L223.6,806.8 L224.3,806.8 L224.9,806.7 L225.6,806.6 L226.2,806.5 L226.9,806.4 L227.5,806.4 L228.1,806.4 L228.8,806.4 L229.4,806.5 L230.1,806.7 L230.7,806.9 L231.4,807.2 L232.0,807.5 L232.7,807.8" fill="none" stroke="#e2524a" stroke-width="1.0"/>
<path d="M40.0,809.8 L40.7,809.8 L41.3,809.8 L42.0,809.8 L42.6,809.8 L43.3,809.8 L43.9,809.8 L44.6,809.8 L45.2,809.8 L45.8,809.8 L46.5,809.8 L47.1,809.8 L47.8,809.8 L48.4,809.8 L49.1,809.8 L49.7,809.8 L50.4,809.8 L51.0,809.8 L51.6,809.8 L52.3,809.8 L52.9,809.8 L53.6,809.8 L54.2,809.8 L54.9,809.8 L55.5,809.8 L56.2,809.8 L56.8,809.8 L57.4,809.8 L58.1,809.8 L58.7,809.8 L59.4,809.8 L60.0,809.8 L60.7,809.8 L61.3,809.8 L62.0,809.8 L62.6,809.8 L63.2,809.8 L63.9,809.8 L64.5,809.8 L65.2,809.8 L65.8,809.8 L66.5,809.8 L67.1,809.8 L67.7,809.8 L68.4,809.8 L69.0,809.8 L69.7,809.8 L70.3,809.8 L71.0,809.8 L71.6,809.8 L72.3,809.8 L72.9,809.8 L73.5,809.8 L74.2,809.8 L74.8,809.8 L75.5,809.8 L76.1,809.8 L76.8,809.8 L77.4,809.8 L78.1,809.8 L78.7,809.8 L79.3,809.8 L80.0,809.8 L80.6,809.8 L81.3,809.8 L81.9,809.8 L82.6,809.8 L83.2,809.8 L83.9,809.8 L84.5,809.8 L85.1,809.8 L85.8,809.8 L86.4,809.8 L87.1,809.8 L87.7,809.8 L88.4,809.8 L89.0,809.8 L89.6,809.8 L90.3,809.8 L90.9,809.8 L91.6,809.8 L92.2,809.8 L92.9,809.8 L93.5,809.8 L94.2,809.8 L94.8,809.8 L95.4,809.8 L96.1,809.8 L96.7,809.8 L97.4,809.8 L98.0,809.8 L98.7,809.8 L99.3,809.8 L100.0,809.8 L100.6,809.7 L101.2,809.6 L101.9,809.4 L102.5,809.0 L103.2,807.8 L103.8,806.0 L104.5,804.0 L105.1,802.3 L105.8,800.4 L106.4,798.2 L107.0,796.3 L107.7,795.0 L108.3,794.9 L109.0,796.0 L109.6,797.8 L110.3,799.6 L110.9,801.9 L111.6,803.4 L112.2,802.4 L112.8,799.6 L113.5,796.0 L114.1,792.8 L114.8,789.1 L115.4,785.1 L116.1,781.1 L116.7,777.6 L117.3,774.9 L118.0,773.3 L118.6,772.1 L119.3,771.1 L119.9,770.2 L120.6,769.2 L121.2,768.1 L121.9,766.7 L122.5,765.0 L123.1,763.4 L123.8,762.2 L124.4,761.5 L125.1,761.9 L125.7,764.0 L126.4,766.7 L127.0,769.2 L127.7,771.5 L128.3,773.9 L128.9,775.7 L129.6,776.2 L130.2,774.2 L130.9,770.7 L131.5,767.4 L132.2,764.4 L132.8,761.2 L133.5,758.6 L134.1,757.5 L134.7,758.2 L135.4,759.9 L136.0,762.2 L136.7,764.7 L137.3,766.9 L138.0,769.0 L138.6,771.2 L139.2,773.5 L139.9,775.7 L140.5,777.8 L141.2,780.4 L141.8,782.7 L142.5,783.6 L143.1,782.2 L143.8,779.1 L144.4,776.1 L145.0,773.1 L145.7,770.7 L146.3,770.6 L147.0,771.8 L147.6,773.0 L148.3,774.2 L148.9,772.9 L149.6,768.8 L150.2,763.5 L150.8,755.3 L151.5,745.1 L152.1,735.0 L152.8,724.4 L153.4,713.8 L154.1,705.5 L154.7,698.6 L155.4,692.9 L156.0,690.9 L156.6,693.4 L157.3,698.3 L157.9,703.2 L158.6,707.4 L159.2,712.0 L159.9,715.3 L160.5,715.6 L161.1,711.5 L161.8,705.6 L162.4,700.1 L163.1,693.2 L163.7,687.4 L164.4,685.5 L165.0,689.3 L165.7,696.7 L166.3,705.0 L166.9,715.6 L167.6,728.3 L168.2,740.7 L168.9,750.3 L169.5,758.5 L170.2,765.8 L170.8,772.4 L171.5,778.2 L172.1,783.5 L172.7,788.3 L173.4,792.9 L174.0,797.4 L174.7,801.4 L175.3,804.4 L176.0,807.1 L176.6,808.7 L177.3,808.7 L177.9,808.4 L178.5,807.8 L179.2,807.3 L179.8,806.7 L180.5,806.1 L181.1,805.4 L181.8,804.6 L182.4,803.9 L183.1,803.3 L183.7,802.7 L184.3,802.4 L185.0,802.3 L185.6,802.2 L186.3,802.1 L186.9,802.0 L187.6,802.0 L188.2,801.9 L188.8,801.9 L189.5,801.9 L190.1,801.9 L190.8,802.0 L191.4,802.1 L192.1,802.2 L192.7,802.4 L193.4,802.5 L194.0,802.7 L194.6,802.9 L195.3,803.2 L195.9,803.6 L196.6,804.1 L197.2,804.6 L197.9,805.1 L198.5,805.6 L199.2,806.0 L199.8,806.4 L200.4,806.8 L201.1,807.1 L201.7,807.3 L202.4,807.3 L203.0,807.0 L203.7,806.4 L204.3,805.9 L205.0,805.4 L205.6,805.4 L206.2,805.5 L206.9,805.7 L207.5,805.9 L208.2,806.2 L208.8,806.5 L209.5,806.7 L210.1,806.8 L210.7,806.9 L211.4,807.0 L212.0,807.0 L212.7,807.1 L213.3,807.1 L214.0,807.1 L214.6,807.2 L215.3,807.2 L215.9,807.3 L216.5,807.3 L217.2,807.4 L217.8,807.5 L218.5,807.6 L219.1,807.7 L219.8,807.8 L220.4,807.9 L221.1,808.0 L221.7,808.1 L222.3,808.2 L223.0,808.2 L223.6,808.3 L224.3,808.3 L224.9,808.3 L225.6,808.3 L226.2,808.3 L226.9,808.3 L227.5,808.3 L228.1,808.3 L228.8,808.3 L229.4,808.3 L230.1,808.3 L230.7,808.3 L231.4,808.3 L232.0,808.3 L232.7,808.3" fill="none" stroke="#2a80c4" stroke-width="1.05"/>
<path d="M40.0,809.8 L40.7,809.8 L41.3,809.6 L42.0,809.5 L42.6,809.2 L43.3,808.7 L43.9,807.9 L44.6,807.1 L45.2,806.5 L45.8,805.8 L46.5,805.2 L47.1,804.9 L47.8,805.0 L48.4,805.5 L49.1,806.2 L49.7,806.9 L50.4,807.6 L51.0,808.4 L51.6,809.0 L52.3,809.4 L52.9,809.6 L53.6,809.7 L54.2,809.8 L54.9,809.8 L55.5,809.8 L56.2,809.8 L56.8,809.8 L57.4,809.8 L58.1,809.8 L58.7,809.8 L59.4,809.8 L60.0,809.8 L60.7,809.8 L61.3,809.8 L62.0,809.8 L62.6,809.8 L63.2,809.8 L63.9,809.8 L64.5,809.8 L65.2,809.8 L65.8,809.8 L66.5,809.8 L67.1,809.8 L67.7,809.8 L68.4,809.8 L69.0,809.8 L69.7,809.8 L70.3,809.8 L71.0,809.8 L71.6,809.8 L72.3,809.8 L72.9,809.8 L73.5,809.8 L74.2,809.8 L74.8,809.8 L75.5,809.8 L76.1,809.8 L76.8,809.8 L77.4,809.8 L78.1,809.8 L78.7,809.8 L79.3,809.8 L80.0,809.8 L80.6,809.8 L81.3,809.8 L81.9,809.8 L82.6,809.8 L83.2,809.8 L83.9,809.8 L84.5,809.8 L85.1,809.8 L85.8,809.8 L86.4,809.8 L87.1,809.8 L87.7,809.8 L88.4,809.8 L89.0,809.8 L89.6,809.8 L90.3,809.8 L90.9,809.8 L91.6,809.8 L92.2,809.8 L92.9,809.8 L93.5,809.8 L94.2,809.8 L94.8,809.8 L95.4,809.8 L96.1,809.8 L96.7,809.8 L97.4,809.8 L98.0,809.8 L98.7,809.8 L99.3,809.8 L100.0,809.8 L100.6,809.8 L101.2,809.8 L101.9,809.7 L102.5,809.6 L103.2,809.4 L103.8,809.1 L104.5,808.9 L105.1,808.5 L105.8,807.9 L106.4,807.1 L107.0,806.1 L107.7,805.0 L108.3,803.7 L109.0,802.2 L109.6,800.2 L110.3,797.8 L110.9,795.3 L111.6,792.7 L112.2,789.4 L112.8,785.6 L113.5,782.2 L114.1,780.0 L114.8,778.6 L115.4,777.4 L116.1,776.5 L116.7,775.7 L117.3,775.0 L118.0,774.4 L118.6,773.9 L119.3,773.4 L119.9,772.7 L120.6,771.6 L121.2,770.4 L121.9,769.4 L122.5,768.6 L123.1,768.0 L123.8,768.0 L124.4,768.8 L125.1,769.6 L125.7,769.7 L126.4,768.9 L127.0,767.4 L127.7,764.5 L128.3,759.7 L128.9,754.4 L129.6,749.6 L130.2,744.6 L130.9,739.8 L131.5,735.9 L132.2,732.5 L132.8,729.6 L133.5,728.4 L134.1,729.5 L134.7,732.1 L135.4,735.1 L136.0,737.9 L136.7,741.3 L137.3,744.9 L138.0,748.4 L138.6,751.4 L139.2,753.7 L139.9,755.6 L140.5,757.3 L141.2,758.5 L141.8,759.4 L142.5,760.3 L143.1,760.8 L143.8,760.9 L144.4,760.8 L145.0,760.7 L145.7,760.4 L146.3,760.1 L147.0,759.9 L147.6,759.6 L148.3,759.3 L148.9,759.0 L149.6,758.4 L150.2,757.2 L150.8,755.3 L151.5,752.8 L152.1,750.2 L152.8,747.4 L153.4,744.0 L154.1,740.6 L154.7,738.0 L155.4,736.4 L156.0,735.0 L156.6,734.3 L157.3,735.9 L157.9,740.5 L158.6,746.2 L159.2,751.5 L159.9,758.0 L160.5,764.8 L161.1,770.6 L161.8,774.1 L162.4,775.5 L163.1,776.5 L163.7,777.1 L164.4,777.4 L165.0,777.6 L165.7,777.7 L166.3,777.7 L166.9,775.5 L167.6,771.4 L168.2,767.4 L168.9,764.6 L169.5,761.7 L170.2,759.5 L170.8,758.5 L171.5,760.4 L172.1,765.4 L172.7,771.2 L173.4,776.5 L174.0,782.8 L174.7,789.1 L175.3,794.4 L176.0,797.9 L176.6,800.6 L177.3,802.4 L177.9,803.4 L178.5,803.9 L179.2,803.4 L179.8,802.2 L180.5,800.7 L181.1,799.3 L181.8,798.0 L182.4,796.7 L183.1,795.4 L183.7,794.6 L184.3,794.5 L185.0,794.9 L185.6,795.4 L186.3,796.0 L186.9,796.5 L187.6,797.0 L188.2,797.4 L188.8,797.9 L189.5,798.4 L190.1,798.9 L190.8,799.3 L191.4,799.7 L192.1,800.1 L192.7,800.4 L193.4,800.7 L194.0,801.0 L194.6,801.4 L195.3,801.9 L195.9,802.6 L196.6,803.3 L197.2,803.9 L197.9,804.5 L198.5,804.8 L199.2,804.8 L199.8,804.6 L200.4,804.2 L201.1,803.8 L201.7,803.5 L202.4,803.4 L203.0,803.6 L203.7,803.8 L204.3,804.2 L205.0,804.6 L205.6,805.0 L206.2,805.2 L206.9,805.4 L207.5,805.3 L208.2,805.1 L208.8,804.9 L209.5,804.6 L210.1,804.3 L210.7,804.1 L211.4,803.9 L212.0,803.9 L212.7,804.0 L213.3,804.3 L214.0,804.7 L214.6,805.0 L215.3,805.4 L215.9,805.7 L216.5,805.8 L217.2,805.9 L217.8,806.0 L218.5,806.0 L219.1,806.1 L219.8,806.1 L220.4,806.1 L221.1,806.2 L221.7,806.2 L222.3,806.3 L223.0,806.3 L223.6,806.4 L224.3,806.6 L224.9,806.8 L225.6,806.9 L226.2,807.1 L226.9,807.2 L227.5,807.3 L228.1,807.3 L228.8,807.3 L229.4,807.3 L230.1,807.3 L230.7,807.3 L231.4,807.3 L232.0,807.3 L232.7,807.3" fill="none" stroke="#2e8a48" stroke-width="1.05"/>
</g>
<rect x="39.8" y="656.6" width="193.89999999999998" height="153.19999999999993" fill="none" stroke="#444" stroke-width="1"/>
<line x1="36.8" y1="809.8" x2="39.8" y2="809.8" stroke="#333" stroke-width="0.9"/>
<text x="35.3" y="813.1" font-size="9" text-anchor="end" fill="#1a1a1a" >0</text>
<line x1="36.8" y1="770.3" x2="39.8" y2="770.3" stroke="#333" stroke-width="0.9"/>
<text x="35.3" y="773.6" font-size="9" text-anchor="end" fill="#1a1a1a" >8</text>
<line x1="36.8" y1="730.8" x2="39.8" y2="730.8" stroke="#333" stroke-width="0.9"/>
<text x="35.3" y="734.1" font-size="9" text-anchor="end" fill="#1a1a1a" >16</text>
<line x1="36.8" y1="691.4" x2="39.8" y2="691.4" stroke="#333" stroke-width="0.9"/>
<text x="35.3" y="694.7" font-size="9" text-anchor="end" fill="#1a1a1a" >24</text>
<line x1="38.0" y1="790.1" x2="39.8" y2="790.1" stroke="#333" stroke-width="0.8"/>
<line x1="38.0" y1="750.6" x2="39.8" y2="750.6" stroke="#333" stroke-width="0.8"/>
<line x1="38.0" y1="711.1" x2="39.8" y2="711.1" stroke="#333" stroke-width="0.8"/>
<line x1="38.0" y1="671.6" x2="39.8" y2="671.6" stroke="#333" stroke-width="0.8"/>
<line x1="56.1" y1="809.8" x2="56.1" y2="812.8" stroke="#333" stroke-width="0.9"/>
<text x="54.9" y="820.8" font-size="9" text-anchor="middle" fill="#1a1a1a" >-8</text>
<line x1="88.2" y1="809.8" x2="88.2" y2="812.8" stroke="#333" stroke-width="0.9"/>
<text x="87.0" y="820.8" font-size="9" text-anchor="middle" fill="#1a1a1a" >-6</text>
<line x1="120.3" y1="809.8" x2="120.3" y2="812.8" stroke="#333" stroke-width="0.9"/>
<text x="119.1" y="820.8" font-size="9" text-anchor="middle" fill="#1a1a1a" >-4</text>
<line x1="152.4" y1="809.8" x2="152.4" y2="812.8" stroke="#333" stroke-width="0.9"/>
<text x="151.2" y="820.8" font-size="9" text-anchor="middle" fill="#1a1a1a" >-2</text>
<line x1="184.5" y1="809.8" x2="184.5" y2="812.8" stroke="#333" stroke-width="0.9"/>
<text x="184.5" y="820.8" font-size="9" text-anchor="middle" fill="#1a1a1a" >0</text>
<line x1="216.6" y1="809.8" x2="216.6" y2="812.8" stroke="#333" stroke-width="0.9"/>
<text x="216.6" y="820.8" font-size="9" text-anchor="middle" fill="#1a1a1a" >2</text>
<line x1="40.0" y1="809.8" x2="40.0" y2="811.5999999999999" stroke="#333" stroke-width="0.8"/>
<line x1="72.1" y1="809.8" x2="72.1" y2="811.5999999999999" stroke="#333" stroke-width="0.8"/>
<line x1="104.2" y1="809.8" x2="104.2" y2="811.5999999999999" stroke="#333" stroke-width="0.8"/>
<line x1="136.3" y1="809.8" x2="136.3" y2="811.5999999999999" stroke="#333" stroke-width="0.8"/>
<line x1="168.4" y1="809.8" x2="168.4" y2="811.5999999999999" stroke="#333" stroke-width="0.8"/>
<line x1="200.6" y1="809.8" x2="200.6" y2="811.5999999999999" stroke="#333" stroke-width="0.8"/>
<line x1="232.7" y1="809.8" x2="232.7" y2="811.5999999999999" stroke="#333" stroke-width="0.8"/>
<text x="134.5" y="833.8" font-size="11.3" text-anchor="middle" fill="#1a1a1a" >E-E<tspan dy="2" font-size="60%">F</tspan><tspan dy="-2" font-size="1"> </tspan> (eV)</text>
<text transform="translate(18.5 737.9) rotate(-90)" font-size="10.6" text-anchor="middle" fill="#1a1a1a">Density of States (a.u.)</text>
<line x1="42.2" y1="663.3" x2="68.80000000000001" y2="663.3" stroke="#e2524a" stroke-width="1.3"/>
<text x="72.3" y="667.5" font-size="12" text-anchor="start" fill="#1a1a1a" >d<tspan dy="3.4" font-size="64%">yz</tspan><tspan dy="-3.4" font-size="1"> </tspan></text>
<line x1="88.8" y1="663.3" x2="115.4" y2="663.3" stroke="#2a80c4" stroke-width="1.3"/>
<text x="119.0" y="667.5" font-size="12" text-anchor="start" fill="#1a1a1a" >d<tspan dy="3.6" font-size="64%">z</tspan><tspan dy="-4.6" font-size="50%">2</tspan></text>
<line x1="42.2" y1="680.6" x2="68.80000000000001" y2="680.6" stroke="#2e8a48" stroke-width="1.3"/>
<text x="72.3" y="684.8" font-size="12" text-anchor="start" fill="#1a1a1a" >d<tspan dy="3.4" font-size="64%">xz</tspan><tspan dy="-3.4" font-size="1"> </tspan></text>
<line x1="88.8" y1="680.6" x2="115.4" y2="680.6" stroke="#808080" stroke-width="1.3"/>
<text x="119.0" y="684.8" font-size="12" text-anchor="start" fill="#1a1a1a" >LiO<tspan dy="3.2" font-size="62%">2</tspan><tspan dy="-3.2" font-size="1"> </tspan></text>
<text x="230.2" y="670.7" font-size="12" text-anchor="end" fill="#1a1a1a" >Pd<tspan dy="2.6" font-size="62%">3</tspan><tspan dy="-2.6" font-size="1"> </tspan>Pb</text>
<text x="93.5" y="781.9" font-size="11.5" text-anchor="start" fill="#1a1a1a" >5σ</text>
<line x1="106.1" y1="783.5" x2="116.3" y2="799.8" stroke="#111" stroke-width="1.0"/>
<polygon points="118.4,803.2 114.2,799.9 117.3,798.0" fill="#111"/>
<polygon points="106.1,783.5 107.2,788.7 110.3,786.8" fill="#111"/>
<text x="151.6" y="792.0" font-size="11.5" text-anchor="start" fill="#1a1a1a" >2π*</text>
<line x1="168.6" y1="792.9" x2="172.6" y2="803.3" stroke="#111" stroke-width="1.0"/>
<polygon points="174.0,807.0 170.5,803.0 173.9,801.7" fill="#111"/>
<polygon points="168.6,792.9 168.7,798.2 172.1,796.9" fill="#111"/>
<text x="259.0" y="478.3" font-size="17.5" text-anchor="start" fill="#1a1a1a" >f</text>
<text transform="translate(266.6 541.3) rotate(-90)" font-size="14.3" text-anchor="middle" fill="#1a1a1a">Energy</text>
<line x1="285.4" y1="468.7" x2="285.4" y2="639.4" stroke="#768aa2" stroke-width="2"/>
<line x1="472.7" y1="466.7" x2="472.7" y2="637.4" stroke="#768aa2" stroke-width="2"/>
<line x1="315.7" y1="518.4" x2="655" y2="518.4" stroke="#111" stroke-width="1.7" stroke-dasharray="5.1 4.2"/>
<line x1="314.4" y1="529.0" x2="357.2" y2="512.8" stroke="#96d8dc" stroke-width="1.5" stroke-dasharray="2.4 3"/>
<line x1="314.4" y1="529.0" x2="357.2" y2="593.0" stroke="#96d8dc" stroke-width="1.5" stroke-dasharray="2.4 3"/>
<line x1="382.0" y1="511.0" x2="434.5" y2="530.5" stroke="#96d8dc" stroke-width="1.5" stroke-dasharray="2.4 3"/>
<line x1="382.0" y1="584.0" x2="434.5" y2="531.0" stroke="#96d8dc" stroke-width="1.5" stroke-dasharray="2.4 3"/>
<line x1="502.6" y1="532.0" x2="550.0" y2="484.0" stroke="#96d8dc" stroke-width="1.5" stroke-dasharray="2.4 3"/>
<line x1="502.6" y1="532.0" x2="548.3" y2="561.0" stroke="#96d8dc" stroke-width="1.5" stroke-dasharray="2.4 3"/>
<line x1="576.4" y1="484.0" x2="631.4" y2="509.6" stroke="#96d8dc" stroke-width="1.5" stroke-dasharray="2.4 3"/>
<line x1="576.4" y1="561.0" x2="631.4" y2="511.0" stroke="#96d8dc" stroke-width="1.5" stroke-dasharray="2.4 3"/>
<rect x="285.4" y="502.5" width="28.4" height="49.9" fill="#fff"/>
<rect x="285.4" y="517.6" width="28.4" height="34.8" fill="#04a196"/>
<rect x="286.20" y="503.30" width="26.80" height="48.30" fill="none" stroke="#768aa2" stroke-width="1.6"/>
<rect x="357.2" y="500.6" width="24.8" height="21.9" fill="#fff"/>
<rect x="357.2" y="518.4" width="24.8" height="4.1" fill="#2ba3e2"/>
<rect x="358.00" y="501.40" width="23.20" height="20.30" fill="none" stroke="#768aa2" stroke-width="1.6"/>
<rect x="357.2" y="575.0" width="24.8" height="21.0" fill="#fff"/>
<rect x="357.2" y="575.0" width="24.8" height="21.0" fill="#2ba3e2"/>
<rect x="358.00" y="575.80" width="23.20" height="19.40" fill="none" stroke="#768aa2" stroke-width="1.6"/>
<rect x="434.5" y="526.6" width="21.6" height="9.4" fill="#fff"/>
<rect x="434.5" y="529.2" width="21.6" height="6.8" fill="#8a2494"/>
<rect x="435.30" y="527.40" width="20.00" height="7.80" fill="none" stroke="#768aa2" stroke-width="1.6"/>
<rect x="472.7" y="503.1" width="29.9" height="55.4" fill="#fff"/>
<rect x="472.7" y="518.6" width="29.9" height="39.9" fill="#04a196"/>
<rect x="473.50" y="503.90" width="28.30" height="53.80" fill="none" stroke="#768aa2" stroke-width="1.6"/>
<rect x="550.0" y="471.2" width="26.4" height="23.6" fill="#fff"/>
<rect x="550.0" y="490.3" width="26.4" height="4.5" fill="#2ba3e2"/>
<rect x="550.80" y="472.00" width="24.80" height="22.00" fill="none" stroke="#768aa2" stroke-width="1.6"/>
<rect x="548.3" y="553.1" width="28.1" height="20.9" fill="#fff"/>
<rect x="548.3" y="553.1" width="28.1" height="20.9" fill="#2ba3e2"/>
<rect x="549.10" y="553.90" width="26.50" height="19.30" fill="none" stroke="#768aa2" stroke-width="1.6"/>
<rect x="631.4" y="505.4" width="22.3" height="9.6" fill="#fff"/>
<rect x="631.4" y="509.3" width="22.3" height="5.7" fill="#2ba3e2"/>
<rect x="632.20" y="506.20" width="20.70" height="8.00" fill="none" stroke="#768aa2" stroke-width="1.6"/>
<ellipse cx="301.7" cy="563.0" rx="6.7" ry="6.9" fill="url(#gG)" opacity="0.95"/>
<ellipse cx="301.7" cy="578.8" rx="6.7" ry="6.9" fill="url(#gG)" opacity="0.95"/>
<ellipse cx="301.7" cy="571.0" rx="12.8" ry="3.8" fill="#a4b88e" opacity="0.9"/>
<ellipse cx="301.7" cy="571.0" rx="11.6" ry="2.7" fill="#e0b4a2" opacity="0.95"/>
<ellipse cx="294.0" cy="571.0" rx="3.3" ry="2.1" fill="#f4b4b4" opacity="0.9"/>
<ellipse cx="309.4" cy="571.0" rx="3.3" ry="2.1" fill="#f4b4b4" opacity="0.9"/>
<rect x="298.5" y="567.4" width="6.4" height="7.2" fill="#d69c8a" opacity="0.85"/>
<circle cx="301.7" cy="571.0" r="1.3" fill="#e8905a" opacity="0.8"/>
<ellipse cx="369.9" cy="527.3" rx="5.6" ry="2.7" fill="#a4b88e"/>
<ellipse cx="369.9" cy="527.3" rx="4.2" ry="1.7" fill="#f0b4ae"/>
<ellipse cx="369.9" cy="531.7" rx="3.2" ry="2.2" fill="url(#gG)" opacity="0.95"/>
<ellipse cx="369.9" cy="544.4" rx="8.5" ry="8.5" fill="url(#gG)" opacity="0.95"/>
<path d="M361.6,542.5 C361.6,530.5 378.2,530.5 378.2,542.5 C377.9,545.5 361.9,545.5 361.6,542.5 Z" fill="#90a878" opacity="0.85"/>
<ellipse cx="369.9" cy="539.8" rx="6.1" ry="3.6" fill="#dca0a0" opacity="0.9"/>
<ellipse cx="369.9" cy="565.4" rx="8.8" ry="8.8" fill="url(#gG)" opacity="0.95"/>
<ellipse cx="369.9" cy="555.0" rx="16.3" ry="4.6" fill="#a4b88e" opacity="0.9"/>
<ellipse cx="369.9" cy="555.0" rx="15.1" ry="3.5" fill="#e0b4a2" opacity="0.95"/>
<ellipse cx="360.1" cy="555.0" rx="4.2" ry="2.5" fill="#f4b4b4" opacity="0.9"/>
<ellipse cx="379.7" cy="555.0" rx="4.2" ry="2.5" fill="#f4b4b4" opacity="0.9"/>
<rect x="366.0" y="550.8" width="7.8" height="8.4" fill="#d69c8a" opacity="0.85"/>
<circle cx="369.9" cy="555.0" r="1.5" fill="#e8905a" opacity="0.8"/>
<ellipse cx="445.4" cy="546.2" rx="4.8" ry="2.9" fill="#a4b88e"/>
<ellipse cx="445.4" cy="546.2" rx="3.5" ry="1.8" fill="#f0b4ae"/>
<ellipse cx="445.4" cy="550.6" rx="2.8" ry="2.2" fill="url(#gG)" opacity="0.95"/>
<ellipse cx="445.4" cy="556.4" rx="8" ry="6" fill="#a4b88e" opacity="0.95"/>
<ellipse cx="445.4" cy="556.7" rx="5.4" ry="3.6" fill="#e0b0a0" opacity="0.9"/>
<path d="M0,0 Q2.54,-1.38 4.62,-3.95 A5.20,5.20 0 1 1 4.62,3.95 Q2.54,1.38 0,0 Z" transform="translate(487.6 573.2) rotate(-135)" fill="url(#tG)"/>
<path d="M0,0 Q2.54,-1.38 4.62,-3.95 A5.20,5.20 0 1 1 4.62,3.95 Q2.54,1.38 0,0 Z" transform="translate(487.6 573.2) rotate(45)" fill="url(#tG)"/>
<path d="M0,0 Q2.54,-1.38 4.62,-3.95 A5.20,5.20 0 1 1 4.62,3.95 Q2.54,1.38 0,0 Z" transform="translate(487.6 573.2) rotate(-45)" fill="url(#tP)"/>
<path d="M0,0 Q2.54,-1.38 4.62,-3.95 A5.20,5.20 0 1 1 4.62,3.95 Q2.54,1.38 0,0 Z" transform="translate(487.6 573.2) rotate(135)" fill="url(#tP)"/>
<circle cx="487.6" cy="573.2" r="1.3" fill="#e08a94"/>
<path d="M0,0 Q2.44,-1.54 4.43,-4.40 A6.20,6.20 0 1 1 4.43,4.40 Q2.44,1.54 0,0 Z" transform="translate(580.6 529.6) rotate(-45)" fill="url(#tP)"/>
<path d="M0,0 Q2.44,-1.54 4.43,-4.40 A6.20,6.20 0 1 1 4.43,4.40 Q2.44,1.54 0,0 Z" transform="translate(580.6 529.6) rotate(45)" fill="url(#tG)"/>
<path d="M0,0 Q4.31,-2.47 7.84,-7.06 A9.50,9.50 0 1 1 7.84,7.06 Q4.31,2.47 0,0 Z" transform="translate(552.0 529.3) rotate(-135)" fill="url(#tG)"/>
<path d="M0,0 Q4.31,-2.47 7.84,-7.06 A9.50,9.50 0 1 1 7.84,7.06 Q4.31,2.47 0,0 Z" transform="translate(552.0 529.3) rotate(135)" fill="url(#tP)"/>
<path d="M0,0 Q4.62,-2.49 8.39,-7.10 A9.30,9.30 0 1 1 8.39,7.10 Q4.62,2.49 0,0 Z" transform="translate(553.0 529.3) rotate(-50)" fill="url(#tP)"/>
<path d="M0,0 Q4.67,-2.44 8.50,-6.96 A9.00,9.00 0 1 1 8.50,6.96 Q4.67,2.44 0,0 Z" transform="translate(553.0 529.3) rotate(52)" fill="url(#tG)"/>
<rect x="562.2" y="511.9" width="18.4" height="17.2" rx="7.8" ry="7.8" fill="url(#tD)" opacity="0.9"/>
<rect x="560.8" y="529.7" width="19.8" height="17.6" rx="7.8" ry="7.8" fill="url(#tP)" opacity="0.82"/>
<circle cx="566.8" cy="538.9" r="5" fill="#c86a72" opacity="0.5"/>
<circle cx="552.0" cy="529.3" r="2.7" fill="#e8848e"/>
<path d="M0,0 Q2.55,-1.42 4.64,-4.06 A5.40,5.40 0 1 1 4.64,4.06 Q2.55,1.42 0,0 Z" transform="translate(643.6 533.6) rotate(-137)" fill="url(#tG)"/>
<path d="M0,0 Q2.55,-1.42 4.64,-4.06 A5.40,5.40 0 1 1 4.64,4.06 Q2.55,1.42 0,0 Z" transform="translate(643.6 533.6) rotate(135)" fill="url(#tP)"/>
<path d="M0,0 Q1.72,-0.93 3.13,-2.67 A3.50,3.50 0 1 1 3.13,2.67 Q1.72,0.93 0,0 Z" transform="translate(643.6 533.6) rotate(-42)" fill="url(#tP)"/>
<path d="M0,0 Q1.57,-0.92 2.85,-2.64 A3.60,3.60 0 1 1 2.85,2.64 Q1.57,0.92 0,0 Z" transform="translate(643.6 533.6) rotate(42)" fill="url(#tG)"/>
<circle cx="643.6" cy="533.6" r="1.0" fill="#d89090"/>
<text x="348.2" y="490.3" font-size="14.5" text-anchor="start" fill="#1a1a1a" >(<tspan font-style="italic">d</tspan><tspan font-style="italic" dy="4.4" font-size="62%">z</tspan><tspan dy="-5.6" font-size="56%">2</tspan><tspan dy="1.2">-σ)*</tspan></text>
<text x="289.3" y="599.8" font-size="14.5" text-anchor="start" fill="#1a1a1a" >Pd <tspan font-style="italic">d</tspan><tspan font-style="italic" dy="4.4" font-size="62%">z</tspan><tspan dy="-5.6" font-size="56%">2</tspan></text>
<text x="349.0" y="612.6" font-size="14.5" text-anchor="start" fill="#1a1a1a" >(<tspan font-style="italic">d</tspan><tspan font-style="italic" dy="4.4" font-size="62%">z</tspan><tspan dy="-5.6" font-size="56%">2</tspan><tspan dy="1.2">-σ)</tspan></text>
<text x="416.5" y="583.7" font-size="14.5" text-anchor="start" fill="#1a1a1a" >LiO<tspan dy="3" font-size="62%">2</tspan><tspan dy="-3"> 5σ</tspan></text>
<text x="581.5" y="475.1" font-size="14.5" text-anchor="start" fill="#1a1a1a" >(<tspan font-style="italic">d</tspan><tspan font-style="italic" dy="3.2" font-size="62%">xz</tspan><tspan dy="-3.2">/</tspan><tspan font-style="italic">d</tspan><tspan font-style="italic" dy="3.2" font-size="62%">yz</tspan><tspan dy="-3.2">-2π*)*</tspan></text>
<text x="532.2" y="595.6" font-size="14.5" text-anchor="start" fill="#1a1a1a" >(<tspan font-style="italic">d</tspan><tspan font-style="italic" dy="3.2" font-size="62%">xz</tspan><tspan dy="-3.2">/</tspan><tspan font-style="italic">d</tspan><tspan font-style="italic" dy="3.2" font-size="62%">yz</tspan><tspan dy="-3.2">-2π*)</tspan></text>
<text x="625.0" y="559.5" font-size="14.5" text-anchor="start" fill="#1a1a1a" >LiO<tspan dy="3" font-size="62%">2</tspan><tspan dy="-3"> 2π</tspan></text>
<text x="478.1" y="600.7" font-size="14.5" text-anchor="start" fill="#1a1a1a" >Pd</text>
<text x="478.1" y="619.0" font-size="14.5" text-anchor="start" fill="#1a1a1a" ><tspan font-style="italic">d</tspan><tspan font-style="italic" dy="3.2" font-size="62%">xz</tspan><tspan dy="-3.2">/</tspan><tspan font-style="italic">d</tspan><tspan font-style="italic" dy="3.2" font-size="62%">yz</tspan></text>
<text x="259.0" y="669.2" font-size="17.5" text-anchor="start" fill="#1a1a1a" >g</text>
<text transform="translate(266.6 731.6) rotate(-90)" font-size="14.3" text-anchor="middle" fill="#1a1a1a">Energy</text>
<line x1="284.8" y1="657.9" x2="284.8" y2="835.7" stroke="#768aa2" stroke-width="2"/>
<line x1="472.7" y1="657.9" x2="472.7" y2="835.7" stroke="#768aa2" stroke-width="2"/>
<line x1="304" y1="706.8" x2="664.3" y2="706.8" stroke="#111" stroke-width="1.7" stroke-dasharray="5.1 4.2"/>
<line x1="302.2" y1="732.0" x2="362.0" y2="707.8" stroke="#96d8dc" stroke-width="1.5" stroke-dasharray="2.4 3"/>
<line x1="302.2" y1="732.0" x2="362.0" y2="802.8" stroke="#96d8dc" stroke-width="1.5" stroke-dasharray="2.4 3"/>
<line x1="383.7" y1="707.8" x2="438.4" y2="718.4" stroke="#96d8dc" stroke-width="1.5" stroke-dasharray="2.4 3"/>
<line x1="383.7" y1="802.8" x2="438.4" y2="722.0" stroke="#96d8dc" stroke-width="1.5" stroke-dasharray="2.4 3"/>
<line x1="491.3" y1="725.5" x2="551.6" y2="688.5" stroke="#96d8dc" stroke-width="1.5" stroke-dasharray="2.4 3"/>
<line x1="491.3" y1="725.5" x2="551.6" y2="769.0" stroke="#96d8dc" stroke-width="1.5" stroke-dasharray="2.4 3"/>
<line x1="573.5" y1="688.5" x2="629.8" y2="696.5" stroke="#96d8dc" stroke-width="1.5" stroke-dasharray="2.4 3"/>
<line x1="573.5" y1="769.0" x2="629.8" y2="700.4" stroke="#96d8dc" stroke-width="1.5" stroke-dasharray="2.4 3"/>
<rect x="284.8" y="686.9" width="17.4" height="79.8" fill="#fff"/>
<rect x="284.8" y="706.8" width="17.4" height="59.9" fill="#04a196"/>
<rect x="285.60" y="687.70" width="15.80" height="78.20" fill="none" stroke="#768aa2" stroke-width="1.6"/>
<rect x="362.1" y="694.9" width="21.6" height="22.6" fill="#fff"/>
<rect x="362.1" y="706.8" width="21.6" height="10.7" fill="#2ba3e2"/>
<rect x="362.90" y="695.70" width="20.00" height="21.00" fill="none" stroke="#768aa2" stroke-width="1.6"/>
<rect x="361.8" y="789.9" width="21.9" height="26.8" fill="#fff"/>
<rect x="361.8" y="789.9" width="21.9" height="26.8" fill="#2ba3e2"/>
<rect x="362.60" y="790.70" width="20.30" height="25.20" fill="none" stroke="#768aa2" stroke-width="1.6"/>
<rect x="438.4" y="714.2" width="21.6" height="9.1" fill="#fff"/>
<rect x="438.4" y="716.8" width="21.6" height="6.5" fill="#8a2494"/>
<rect x="439.20" y="715.00" width="20.00" height="7.50" fill="none" stroke="#768aa2" stroke-width="1.6"/>
<rect x="472.7" y="686.9" width="18.6" height="74.7" fill="#fff"/>
<rect x="472.7" y="706.8" width="18.6" height="54.8" fill="#04a196"/>
<rect x="473.50" y="687.70" width="17.00" height="73.10" fill="none" stroke="#768aa2" stroke-width="1.6"/>
<rect x="551.6" y="676.2" width="21.9" height="21.9" fill="#fff"/>
<rect x="551.6" y="688.5" width="21.9" height="9.6" fill="#2ba3e2"/>
<rect x="552.40" y="677.00" width="20.30" height="20.30" fill="none" stroke="#768aa2" stroke-width="1.6"/>
<rect x="551.6" y="755.5" width="21.9" height="26.4" fill="#fff"/>
<rect x="551.6" y="755.5" width="21.9" height="26.4" fill="#2ba3e2"/>
<rect x="552.40" y="756.30" width="20.30" height="24.80" fill="none" stroke="#768aa2" stroke-width="1.6"/>
<rect x="629.8" y="692.3" width="22.2" height="9.1" fill="#fff"/>
<rect x="629.8" y="696.0" width="22.2" height="5.4" fill="#2ba3e2"/>
<rect x="630.60" y="693.10" width="20.60" height="7.50" fill="none" stroke="#768aa2" stroke-width="1.6"/>
<ellipse cx="299.3" cy="774.8" rx="6.7" ry="6.9" fill="url(#gG)" opacity="0.95"/>
<ellipse cx="299.3" cy="790.6" rx="6.7" ry="6.9" fill="url(#gG)" opacity="0.95"/>
<ellipse cx="299.3" cy="782.8" rx="12.8" ry="3.8" fill="#a4b88e" opacity="0.9"/>
<ellipse cx="299.3" cy="782.8" rx="11.6" ry="2.7" fill="#e0b4a2" opacity="0.95"/>
<ellipse cx="291.6" cy="782.8" rx="3.3" ry="2.1" fill="#f4b4b4" opacity="0.9"/>
<ellipse cx="307.0" cy="782.8" rx="3.3" ry="2.1" fill="#f4b4b4" opacity="0.9"/>
<rect x="296.1" y="779.2" width="6.4" height="7.2" fill="#d69c8a" opacity="0.85"/>
<circle cx="299.3" cy="782.8" r="1.3" fill="#e8905a" opacity="0.8"/>
<ellipse cx="372.1" cy="726.8" rx="5.6" ry="2.7" fill="#a4b88e"/>
<ellipse cx="372.1" cy="726.8" rx="4.2" ry="1.7" fill="#f0b4ae"/>
<ellipse cx="372.1" cy="731.2" rx="3.2" ry="2.2" fill="url(#gG)" opacity="0.95"/>
<ellipse cx="372.1" cy="743.9" rx="8.5" ry="8.5" fill="url(#gG)" opacity="0.95"/>
<path d="M363.8,742.0 C363.8,730.0 380.4,730.0 380.4,742.0 C380.1,745.0 364.1,745.0 363.8,742.0 Z" fill="#90a878" opacity="0.85"/>
<ellipse cx="372.1" cy="739.3" rx="6.1" ry="3.6" fill="#dca0a0" opacity="0.9"/>
<ellipse cx="372.1" cy="764.9" rx="8.8" ry="8.8" fill="url(#gG)" opacity="0.95"/>
<ellipse cx="372.1" cy="754.5" rx="16.3" ry="4.6" fill="#a4b88e" opacity="0.9"/>
<ellipse cx="372.1" cy="754.5" rx="15.1" ry="3.5" fill="#e0b4a2" opacity="0.95"/>
<ellipse cx="362.3" cy="754.5" rx="4.2" ry="2.5" fill="#f4b4b4" opacity="0.9"/>
<ellipse cx="381.9" cy="754.5" rx="4.2" ry="2.5" fill="#f4b4b4" opacity="0.9"/>
<rect x="368.2" y="750.3" width="7.8" height="8.4" fill="#d69c8a" opacity="0.85"/>
<circle cx="372.1" cy="754.5" r="1.5" fill="#e8905a" opacity="0.8"/>
<ellipse cx="449.3" cy="732.7" rx="5.2" ry="2.9" fill="#a4b88e"/>
<ellipse cx="449.3" cy="732.7" rx="3.8" ry="1.8" fill="#f0b4ae"/>
<ellipse cx="449.3" cy="737.1" rx="3.2" ry="2.5" fill="url(#gG)" opacity="0.95"/>
<ellipse cx="449.3" cy="743.6" rx="8.4" ry="5.9" fill="url(#gG)" opacity="0.95"/>
<path d="M0,0 Q2.54,-1.38 4.62,-3.95 A5.20,5.20 0 1 1 4.62,3.95 Q2.54,1.38 0,0 Z" transform="translate(485.5 777.2) rotate(-135)" fill="url(#tG)"/>
<path d="M0,0 Q2.54,-1.38 4.62,-3.95 A5.20,5.20 0 1 1 4.62,3.95 Q2.54,1.38 0,0 Z" transform="translate(485.5 777.2) rotate(45)" fill="url(#tG)"/>
<path d="M0,0 Q2.54,-1.38 4.62,-3.95 A5.20,5.20 0 1 1 4.62,3.95 Q2.54,1.38 0,0 Z" transform="translate(485.5 777.2) rotate(-45)" fill="url(#tP)"/>
<path d="M0,0 Q2.54,-1.38 4.62,-3.95 A5.20,5.20 0 1 1 4.62,3.95 Q2.54,1.38 0,0 Z" transform="translate(485.5 777.2) rotate(135)" fill="url(#tP)"/>
<circle cx="485.5" cy="777.2" r="1.3" fill="#e08a94"/>
<path d="M0,0 Q2.44,-1.54 4.43,-4.40 A6.20,6.20 0 1 1 4.43,4.40 Q2.44,1.54 0,0 Z" transform="translate(578.0 730.9) rotate(-45)" fill="url(#tP)"/>
<path d="M0,0 Q2.44,-1.54 4.43,-4.40 A6.20,6.20 0 1 1 4.43,4.40 Q2.44,1.54 0,0 Z" transform="translate(578.0 730.9) rotate(45)" fill="url(#tG)"/>
<path d="M0,0 Q4.31,-2.47 7.84,-7.06 A9.50,9.50 0 1 1 7.84,7.06 Q4.31,2.47 0,0 Z" transform="translate(549.4 730.6) rotate(-135)" fill="url(#tG)"/>
<path d="M0,0 Q4.31,-2.47 7.84,-7.06 A9.50,9.50 0 1 1 7.84,7.06 Q4.31,2.47 0,0 Z" transform="translate(549.4 730.6) rotate(135)" fill="url(#tP)"/>
<path d="M0,0 Q4.62,-2.49 8.39,-7.10 A9.30,9.30 0 1 1 8.39,7.10 Q4.62,2.49 0,0 Z" transform="translate(550.4 730.6) rotate(-50)" fill="url(#tP)"/>
<path d="M0,0 Q4.67,-2.44 8.50,-6.96 A9.00,9.00 0 1 1 8.50,6.96 Q4.67,2.44 0,0 Z" transform="translate(550.4 730.6) rotate(52)" fill="url(#tG)"/>
<rect x="559.6" y="713.2" width="18.4" height="17.2" rx="7.8" ry="7.8" fill="url(#tD)" opacity="0.9"/>
<rect x="558.2" y="731.0" width="19.8" height="17.6" rx="7.8" ry="7.8" fill="url(#tP)" opacity="0.82"/>
<circle cx="564.2" cy="740.2" r="5" fill="#c86a72" opacity="0.5"/>
<circle cx="549.4" cy="730.6" r="2.7" fill="#e8848e"/>
<path d="M0,0 Q2.55,-1.42 4.64,-4.06 A5.40,5.40 0 1 1 4.64,4.06 Q2.55,1.42 0,0 Z" transform="translate(641.6 719.3) rotate(-137)" fill="url(#tG)"/>
<path d="M0,0 Q2.55,-1.42 4.64,-4.06 A5.40,5.40 0 1 1 4.64,4.06 Q2.55,1.42 0,0 Z" transform="translate(641.6 719.3) rotate(135)" fill="url(#tP)"/>
<path d="M0,0 Q1.72,-0.93 3.13,-2.67 A3.50,3.50 0 1 1 3.13,2.67 Q1.72,0.93 0,0 Z" transform="translate(641.6 719.3) rotate(-42)" fill="url(#tP)"/>
<path d="M0,0 Q1.57,-0.92 2.85,-2.64 A3.60,3.60 0 1 1 2.85,2.64 Q1.57,0.92 0,0 Z" transform="translate(641.6 719.3) rotate(42)" fill="url(#tG)"/>
<circle cx="641.6" cy="719.3" r="1.0" fill="#d89090"/>
<text x="351.4" y="685.3" font-size="14.5" text-anchor="start" fill="#1a1a1a" >(<tspan font-style="italic">d</tspan><tspan font-style="italic" dy="4.4" font-size="62%">z</tspan><tspan dy="-5.6" font-size="56%">2</tspan><tspan dy="1.2">-σ)*</tspan></text>
<text x="289.3" y="812.5" font-size="14.5" text-anchor="start" fill="#1a1a1a" >Pd<tspan dy="3" font-size="62%">3</tspan><tspan dy="-3">Pb</tspan></text>
<text x="289.3" y="832.4" font-size="14.5" text-anchor="start" fill="#1a1a1a" >(Pd) <tspan font-style="italic">d</tspan><tspan font-style="italic" dy="4.4" font-size="62%">z</tspan><tspan dy="-5.6" font-size="56%">2</tspan></text>
<text x="357.9" y="835.7" font-size="14.5" text-anchor="start" fill="#1a1a1a" >(<tspan font-style="italic">d</tspan><tspan font-style="italic" dy="4.4" font-size="62%">z</tspan><tspan dy="-5.6" font-size="56%">2</tspan><tspan dy="1.2">-σ)</tspan></text>
<text x="419.7" y="768.0" font-size="14.5" text-anchor="start" fill="#1a1a1a" >LiO<tspan dy="3" font-size="62%">2</tspan><tspan dy="-3"> 5σ</tspan></text>
<text x="538.7" y="665.9" font-size="14.5" text-anchor="start" fill="#1a1a1a" >(<tspan font-style="italic">d</tspan><tspan font-style="italic" dy="3.2" font-size="62%">xz</tspan><tspan dy="-3.2">/</tspan><tspan font-style="italic">d</tspan><tspan font-style="italic" dy="3.2" font-size="62%">yz</tspan><tspan dy="-3.2">-2π*)*</tspan></text>
<text x="526.8" y="799.6" font-size="14.5" text-anchor="start" fill="#1a1a1a" >(<tspan font-style="italic">d</tspan><tspan font-style="italic" dy="3.2" font-size="62%">xz</tspan><tspan dy="-3.2">/</tspan><tspan font-style="italic">d</tspan><tspan font-style="italic" dy="3.2" font-size="62%">yz</tspan><tspan dy="-3.2">-2π*)</tspan></text>
<text x="625.0" y="748.1" font-size="14.5" text-anchor="start" fill="#1a1a1a" >LiO<tspan dy="3" font-size="62%">2</tspan><tspan dy="-3"> 2π</tspan></text>
<text x="476.5" y="813.1" font-size="14.5" text-anchor="start" fill="#1a1a1a" >Pd<tspan dy="3" font-size="62%">3</tspan><tspan dy="-3">Pb</tspan></text>
<text x="476.5" y="831.8" font-size="14.5" text-anchor="start" fill="#1a1a1a" >(Pd) <tspan font-style="italic">d</tspan><tspan font-style="italic" dy="3.2" font-size="62%">xz</tspan><tspan dy="-3.2">/</tspan><tspan font-style="italic">d</tspan><tspan font-style="italic" dy="3.2" font-size="62%">yz</tspan></text>
</svg>
</body></html>
